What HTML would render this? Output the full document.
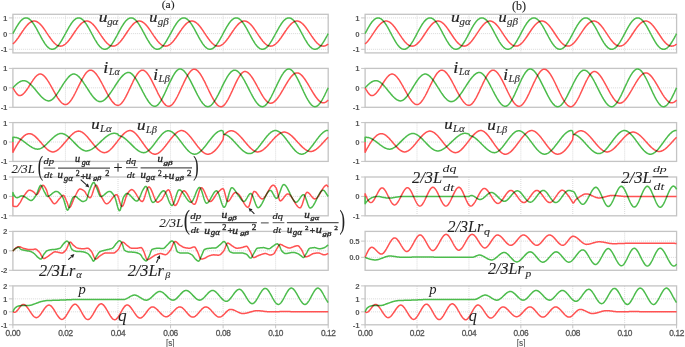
<!DOCTYPE html><html><head><meta charset="utf-8"><style>html,body{margin:0;padding:0;background:#fff;}svg{display:block;will-change:transform;}</style></head><body><svg width="685" height="347" viewBox="0 0 685 347">

<line x1="65.45" y1="14.3" x2="65.45" y2="52.9" stroke="#d0d0d0" stroke-width="0.8" stroke-dasharray="1,1"/>
<line x1="118" y1="14.3" x2="118" y2="52.9" stroke="#d0d0d0" stroke-width="0.8" stroke-dasharray="1,1"/>
<line x1="170.55" y1="14.3" x2="170.55" y2="52.9" stroke="#d0d0d0" stroke-width="0.8" stroke-dasharray="1,1"/>
<line x1="223.1" y1="14.3" x2="223.1" y2="52.9" stroke="#d0d0d0" stroke-width="0.8" stroke-dasharray="1,1"/>
<line x1="275.65" y1="14.3" x2="275.65" y2="52.9" stroke="#d0d0d0" stroke-width="0.8" stroke-dasharray="1,1"/>
<line x1="12.9" y1="49.29" x2="328.2" y2="49.29" stroke="#d0d0d0" stroke-width="0.8" stroke-dasharray="1,1"/>
<line x1="8.9" y1="49.29" x2="12.9" y2="49.29" stroke="#c4c4c4" stroke-width="1"/>
<text x="7" y="52.19" font-family="Liberation Sans" font-size="7.9" font-weight="bold" fill="#555" stroke="#555" stroke-width="0" text-anchor="end" letter-spacing="-0.35">-1</text>
<line x1="12.9" y1="33.6" x2="328.2" y2="33.6" stroke="#d0d0d0" stroke-width="0.8" stroke-dasharray="1,1"/>
<line x1="8.9" y1="33.6" x2="12.9" y2="33.6" stroke="#c4c4c4" stroke-width="1"/>
<text x="7" y="36.5" font-family="Liberation Sans" font-size="7.9" font-weight="bold" fill="#555" stroke="#555" stroke-width="0" text-anchor="end" letter-spacing="-0.35">0</text>
<line x1="12.9" y1="17.91" x2="328.2" y2="17.91" stroke="#d0d0d0" stroke-width="0.8" stroke-dasharray="1,1"/>
<line x1="8.9" y1="17.91" x2="12.9" y2="17.91" stroke="#c4c4c4" stroke-width="1"/>
<text x="7" y="20.81" font-family="Liberation Sans" font-size="7.9" font-weight="bold" fill="#555" stroke="#555" stroke-width="0" text-anchor="end" letter-spacing="-0.35">1</text>
<rect x="12.9" y="14.3" width="315.3" height="38.6" fill="none" stroke="#c4c4c4" stroke-width="1.3"/>
<line x1="65.45" y1="68.4" x2="65.45" y2="107.3" stroke="#d0d0d0" stroke-width="0.8" stroke-dasharray="1,1"/>
<line x1="118" y1="68.4" x2="118" y2="107.3" stroke="#d0d0d0" stroke-width="0.8" stroke-dasharray="1,1"/>
<line x1="170.55" y1="68.4" x2="170.55" y2="107.3" stroke="#d0d0d0" stroke-width="0.8" stroke-dasharray="1,1"/>
<line x1="223.1" y1="68.4" x2="223.1" y2="107.3" stroke="#d0d0d0" stroke-width="0.8" stroke-dasharray="1,1"/>
<line x1="275.65" y1="68.4" x2="275.65" y2="107.3" stroke="#d0d0d0" stroke-width="0.8" stroke-dasharray="1,1"/>
<line x1="8.9" y1="107.3" x2="12.9" y2="107.3" stroke="#c4c4c4" stroke-width="1"/>
<text x="7" y="110.2" font-family="Liberation Sans" font-size="7.9" font-weight="bold" fill="#555" stroke="#555" stroke-width="0" text-anchor="end" letter-spacing="-0.35">-1</text>
<line x1="12.9" y1="87.85" x2="328.2" y2="87.85" stroke="#d0d0d0" stroke-width="0.8" stroke-dasharray="1,1"/>
<line x1="8.9" y1="87.85" x2="12.9" y2="87.85" stroke="#c4c4c4" stroke-width="1"/>
<text x="7" y="90.75" font-family="Liberation Sans" font-size="7.9" font-weight="bold" fill="#555" stroke="#555" stroke-width="0" text-anchor="end" letter-spacing="-0.35">0</text>
<line x1="8.9" y1="68.4" x2="12.9" y2="68.4" stroke="#c4c4c4" stroke-width="1"/>
<text x="7" y="71.3" font-family="Liberation Sans" font-size="7.9" font-weight="bold" fill="#555" stroke="#555" stroke-width="0" text-anchor="end" letter-spacing="-0.35">1</text>
<rect x="12.9" y="68.4" width="315.3" height="38.9" fill="none" stroke="#c4c4c4" stroke-width="1.3"/>
<line x1="65.45" y1="122.6" x2="65.45" y2="161.4" stroke="#d0d0d0" stroke-width="0.8" stroke-dasharray="1,1"/>
<line x1="118" y1="122.6" x2="118" y2="161.4" stroke="#d0d0d0" stroke-width="0.8" stroke-dasharray="1,1"/>
<line x1="170.55" y1="122.6" x2="170.55" y2="161.4" stroke="#d0d0d0" stroke-width="0.8" stroke-dasharray="1,1"/>
<line x1="223.1" y1="122.6" x2="223.1" y2="161.4" stroke="#d0d0d0" stroke-width="0.8" stroke-dasharray="1,1"/>
<line x1="275.65" y1="122.6" x2="275.65" y2="161.4" stroke="#d0d0d0" stroke-width="0.8" stroke-dasharray="1,1"/>
<line x1="8.9" y1="161.4" x2="12.9" y2="161.4" stroke="#c4c4c4" stroke-width="1"/>
<text x="7" y="164.3" font-family="Liberation Sans" font-size="7.9" font-weight="bold" fill="#555" stroke="#555" stroke-width="0" text-anchor="end" letter-spacing="-0.35">-1</text>
<line x1="12.9" y1="142" x2="328.2" y2="142" stroke="#d0d0d0" stroke-width="0.8" stroke-dasharray="1,1"/>
<line x1="8.9" y1="142" x2="12.9" y2="142" stroke="#c4c4c4" stroke-width="1"/>
<text x="7" y="144.9" font-family="Liberation Sans" font-size="7.9" font-weight="bold" fill="#555" stroke="#555" stroke-width="0" text-anchor="end" letter-spacing="-0.35">0</text>
<line x1="8.9" y1="122.6" x2="12.9" y2="122.6" stroke="#c4c4c4" stroke-width="1"/>
<text x="7" y="125.5" font-family="Liberation Sans" font-size="7.9" font-weight="bold" fill="#555" stroke="#555" stroke-width="0" text-anchor="end" letter-spacing="-0.35">1</text>
<rect x="12.9" y="122.6" width="315.3" height="38.8" fill="none" stroke="#c4c4c4" stroke-width="1.3"/>
<line x1="65.45" y1="177" x2="65.45" y2="215.8" stroke="#d0d0d0" stroke-width="0.8" stroke-dasharray="1,1"/>
<line x1="118" y1="177" x2="118" y2="215.8" stroke="#d0d0d0" stroke-width="0.8" stroke-dasharray="1,1"/>
<line x1="170.55" y1="177" x2="170.55" y2="215.8" stroke="#d0d0d0" stroke-width="0.8" stroke-dasharray="1,1"/>
<line x1="223.1" y1="177" x2="223.1" y2="215.8" stroke="#d0d0d0" stroke-width="0.8" stroke-dasharray="1,1"/>
<line x1="275.65" y1="177" x2="275.65" y2="215.8" stroke="#d0d0d0" stroke-width="0.8" stroke-dasharray="1,1"/>
<line x1="8.9" y1="215.8" x2="12.9" y2="215.8" stroke="#c4c4c4" stroke-width="1"/>
<text x="7" y="218.7" font-family="Liberation Sans" font-size="7.9" font-weight="bold" fill="#555" stroke="#555" stroke-width="0" text-anchor="end" letter-spacing="-0.35">-1</text>
<line x1="12.9" y1="196.4" x2="328.2" y2="196.4" stroke="#d0d0d0" stroke-width="0.8" stroke-dasharray="1,1"/>
<line x1="8.9" y1="196.4" x2="12.9" y2="196.4" stroke="#c4c4c4" stroke-width="1"/>
<text x="7" y="199.3" font-family="Liberation Sans" font-size="7.9" font-weight="bold" fill="#555" stroke="#555" stroke-width="0" text-anchor="end" letter-spacing="-0.35">0</text>
<line x1="8.9" y1="177" x2="12.9" y2="177" stroke="#c4c4c4" stroke-width="1"/>
<text x="7" y="179.9" font-family="Liberation Sans" font-size="7.9" font-weight="bold" fill="#555" stroke="#555" stroke-width="0" text-anchor="end" letter-spacing="-0.35">1</text>
<rect x="12.9" y="177" width="315.3" height="38.8" fill="none" stroke="#c4c4c4" stroke-width="1.3"/>
<line x1="65.45" y1="231.4" x2="65.45" y2="270.3" stroke="#d0d0d0" stroke-width="0.8" stroke-dasharray="1,1"/>
<line x1="118" y1="231.4" x2="118" y2="270.3" stroke="#d0d0d0" stroke-width="0.8" stroke-dasharray="1,1"/>
<line x1="170.55" y1="231.4" x2="170.55" y2="270.3" stroke="#d0d0d0" stroke-width="0.8" stroke-dasharray="1,1"/>
<line x1="223.1" y1="231.4" x2="223.1" y2="270.3" stroke="#d0d0d0" stroke-width="0.8" stroke-dasharray="1,1"/>
<line x1="275.65" y1="231.4" x2="275.65" y2="270.3" stroke="#d0d0d0" stroke-width="0.8" stroke-dasharray="1,1"/>
<line x1="8.9" y1="270.3" x2="12.9" y2="270.3" stroke="#c4c4c4" stroke-width="1"/>
<text x="7" y="273.2" font-family="Liberation Sans" font-size="7.9" font-weight="bold" fill="#555" stroke="#555" stroke-width="0" text-anchor="end" letter-spacing="-0.35">-2</text>
<line x1="12.9" y1="250.85" x2="328.2" y2="250.85" stroke="#d0d0d0" stroke-width="0.8" stroke-dasharray="1,1"/>
<line x1="8.9" y1="250.85" x2="12.9" y2="250.85" stroke="#c4c4c4" stroke-width="1"/>
<text x="7" y="253.75" font-family="Liberation Sans" font-size="7.9" font-weight="bold" fill="#555" stroke="#555" stroke-width="0" text-anchor="end" letter-spacing="-0.35">0</text>
<line x1="8.9" y1="231.4" x2="12.9" y2="231.4" stroke="#c4c4c4" stroke-width="1"/>
<text x="7" y="234.3" font-family="Liberation Sans" font-size="7.9" font-weight="bold" fill="#555" stroke="#555" stroke-width="0" text-anchor="end" letter-spacing="-0.35">2</text>
<rect x="12.9" y="231.4" width="315.3" height="38.9" fill="none" stroke="#c4c4c4" stroke-width="1.3"/>
<line x1="65.45" y1="285.9" x2="65.45" y2="324.8" stroke="#d0d0d0" stroke-width="0.8" stroke-dasharray="1,1"/>
<line x1="118" y1="285.9" x2="118" y2="324.8" stroke="#d0d0d0" stroke-width="0.8" stroke-dasharray="1,1"/>
<line x1="170.55" y1="285.9" x2="170.55" y2="324.8" stroke="#d0d0d0" stroke-width="0.8" stroke-dasharray="1,1"/>
<line x1="223.1" y1="285.9" x2="223.1" y2="324.8" stroke="#d0d0d0" stroke-width="0.8" stroke-dasharray="1,1"/>
<line x1="275.65" y1="285.9" x2="275.65" y2="324.8" stroke="#d0d0d0" stroke-width="0.8" stroke-dasharray="1,1"/>
<line x1="8.9" y1="324.8" x2="12.9" y2="324.8" stroke="#c4c4c4" stroke-width="1"/>
<text x="7" y="327.7" font-family="Liberation Sans" font-size="7.9" font-weight="bold" fill="#555" stroke="#555" stroke-width="0" text-anchor="end" letter-spacing="-0.35">-1</text>
<line x1="12.9" y1="311.83" x2="328.2" y2="311.83" stroke="#d0d0d0" stroke-width="0.8" stroke-dasharray="1,1"/>
<line x1="8.9" y1="311.83" x2="12.9" y2="311.83" stroke="#c4c4c4" stroke-width="1"/>
<text x="7" y="314.73" font-family="Liberation Sans" font-size="7.9" font-weight="bold" fill="#555" stroke="#555" stroke-width="0" text-anchor="end" letter-spacing="-0.35">0</text>
<line x1="12.9" y1="298.87" x2="328.2" y2="298.87" stroke="#d0d0d0" stroke-width="0.8" stroke-dasharray="1,1"/>
<line x1="8.9" y1="298.87" x2="12.9" y2="298.87" stroke="#c4c4c4" stroke-width="1"/>
<text x="7" y="301.77" font-family="Liberation Sans" font-size="7.9" font-weight="bold" fill="#555" stroke="#555" stroke-width="0" text-anchor="end" letter-spacing="-0.35">1</text>
<line x1="8.9" y1="285.9" x2="12.9" y2="285.9" stroke="#c4c4c4" stroke-width="1"/>
<text x="7" y="288.8" font-family="Liberation Sans" font-size="7.9" font-weight="bold" fill="#555" stroke="#555" stroke-width="0" text-anchor="end" letter-spacing="-0.35">2</text>
<rect x="12.9" y="285.9" width="315.3" height="38.9" fill="none" stroke="#c4c4c4" stroke-width="1.3"/>
<line x1="12.9" y1="324.8" x2="12.9" y2="328.3" stroke="#c4c4c4" stroke-width="1"/>
<text x="12.9" y="336.1" font-family="Liberation Sans" font-size="8.3" fill="#555" stroke="#555" stroke-width="0.3" text-anchor="middle" letter-spacing="-0.4">0.00</text>
<line x1="65.45" y1="324.8" x2="65.45" y2="328.3" stroke="#c4c4c4" stroke-width="1"/>
<text x="65.45" y="336.1" font-family="Liberation Sans" font-size="8.3" fill="#555" stroke="#555" stroke-width="0.3" text-anchor="middle" letter-spacing="-0.4">0.02</text>
<line x1="118" y1="324.8" x2="118" y2="328.3" stroke="#c4c4c4" stroke-width="1"/>
<text x="118" y="336.1" font-family="Liberation Sans" font-size="8.3" fill="#555" stroke="#555" stroke-width="0.3" text-anchor="middle" letter-spacing="-0.4">0.04</text>
<line x1="170.55" y1="324.8" x2="170.55" y2="328.3" stroke="#c4c4c4" stroke-width="1"/>
<text x="170.55" y="336.1" font-family="Liberation Sans" font-size="8.3" fill="#555" stroke="#555" stroke-width="0.3" text-anchor="middle" letter-spacing="-0.4">0.06</text>
<line x1="223.1" y1="324.8" x2="223.1" y2="328.3" stroke="#c4c4c4" stroke-width="1"/>
<text x="223.1" y="336.1" font-family="Liberation Sans" font-size="8.3" fill="#555" stroke="#555" stroke-width="0.3" text-anchor="middle" letter-spacing="-0.4">0.08</text>
<line x1="275.65" y1="324.8" x2="275.65" y2="328.3" stroke="#c4c4c4" stroke-width="1"/>
<text x="275.65" y="336.1" font-family="Liberation Sans" font-size="8.3" fill="#555" stroke="#555" stroke-width="0.3" text-anchor="middle" letter-spacing="-0.4">0.10</text>
<line x1="328.2" y1="324.8" x2="328.2" y2="328.3" stroke="#c4c4c4" stroke-width="1"/>
<text x="328.2" y="336.1" font-family="Liberation Sans" font-size="8.3" fill="#555" stroke="#555" stroke-width="0.3" text-anchor="middle" letter-spacing="-0.4">0.12</text>
<line x1="417.02" y1="14.3" x2="417.02" y2="52.9" stroke="#d0d0d0" stroke-width="0.8" stroke-dasharray="1,1"/>
<line x1="468.93" y1="14.3" x2="468.93" y2="52.9" stroke="#d0d0d0" stroke-width="0.8" stroke-dasharray="1,1"/>
<line x1="520.85" y1="14.3" x2="520.85" y2="52.9" stroke="#d0d0d0" stroke-width="0.8" stroke-dasharray="1,1"/>
<line x1="572.77" y1="14.3" x2="572.77" y2="52.9" stroke="#d0d0d0" stroke-width="0.8" stroke-dasharray="1,1"/>
<line x1="624.68" y1="14.3" x2="624.68" y2="52.9" stroke="#d0d0d0" stroke-width="0.8" stroke-dasharray="1,1"/>
<line x1="365.1" y1="49.29" x2="676.6" y2="49.29" stroke="#d0d0d0" stroke-width="0.8" stroke-dasharray="1,1"/>
<line x1="361.1" y1="49.29" x2="365.1" y2="49.29" stroke="#c4c4c4" stroke-width="1"/>
<text x="359.2" y="52.19" font-family="Liberation Sans" font-size="7.9" font-weight="bold" fill="#555" stroke="#555" stroke-width="0" text-anchor="end" letter-spacing="-0.35">-1</text>
<line x1="365.1" y1="33.6" x2="676.6" y2="33.6" stroke="#d0d0d0" stroke-width="0.8" stroke-dasharray="1,1"/>
<line x1="361.1" y1="33.6" x2="365.1" y2="33.6" stroke="#c4c4c4" stroke-width="1"/>
<text x="359.2" y="36.5" font-family="Liberation Sans" font-size="7.9" font-weight="bold" fill="#555" stroke="#555" stroke-width="0" text-anchor="end" letter-spacing="-0.35">0</text>
<line x1="365.1" y1="17.91" x2="676.6" y2="17.91" stroke="#d0d0d0" stroke-width="0.8" stroke-dasharray="1,1"/>
<line x1="361.1" y1="17.91" x2="365.1" y2="17.91" stroke="#c4c4c4" stroke-width="1"/>
<text x="359.2" y="20.81" font-family="Liberation Sans" font-size="7.9" font-weight="bold" fill="#555" stroke="#555" stroke-width="0" text-anchor="end" letter-spacing="-0.35">1</text>
<rect x="365.1" y="14.3" width="311.5" height="38.6" fill="none" stroke="#c4c4c4" stroke-width="1.3"/>
<line x1="417.02" y1="68.4" x2="417.02" y2="107.3" stroke="#d0d0d0" stroke-width="0.8" stroke-dasharray="1,1"/>
<line x1="468.93" y1="68.4" x2="468.93" y2="107.3" stroke="#d0d0d0" stroke-width="0.8" stroke-dasharray="1,1"/>
<line x1="520.85" y1="68.4" x2="520.85" y2="107.3" stroke="#d0d0d0" stroke-width="0.8" stroke-dasharray="1,1"/>
<line x1="572.77" y1="68.4" x2="572.77" y2="107.3" stroke="#d0d0d0" stroke-width="0.8" stroke-dasharray="1,1"/>
<line x1="624.68" y1="68.4" x2="624.68" y2="107.3" stroke="#d0d0d0" stroke-width="0.8" stroke-dasharray="1,1"/>
<line x1="361.1" y1="107.3" x2="365.1" y2="107.3" stroke="#c4c4c4" stroke-width="1"/>
<text x="359.2" y="110.2" font-family="Liberation Sans" font-size="7.9" font-weight="bold" fill="#555" stroke="#555" stroke-width="0" text-anchor="end" letter-spacing="-0.35">-1</text>
<line x1="365.1" y1="87.85" x2="676.6" y2="87.85" stroke="#d0d0d0" stroke-width="0.8" stroke-dasharray="1,1"/>
<line x1="361.1" y1="87.85" x2="365.1" y2="87.85" stroke="#c4c4c4" stroke-width="1"/>
<text x="359.2" y="90.75" font-family="Liberation Sans" font-size="7.9" font-weight="bold" fill="#555" stroke="#555" stroke-width="0" text-anchor="end" letter-spacing="-0.35">0</text>
<line x1="361.1" y1="68.4" x2="365.1" y2="68.4" stroke="#c4c4c4" stroke-width="1"/>
<text x="359.2" y="71.3" font-family="Liberation Sans" font-size="7.9" font-weight="bold" fill="#555" stroke="#555" stroke-width="0" text-anchor="end" letter-spacing="-0.35">1</text>
<rect x="365.1" y="68.4" width="311.5" height="38.9" fill="none" stroke="#c4c4c4" stroke-width="1.3"/>
<line x1="417.02" y1="122.6" x2="417.02" y2="161.4" stroke="#d0d0d0" stroke-width="0.8" stroke-dasharray="1,1"/>
<line x1="468.93" y1="122.6" x2="468.93" y2="161.4" stroke="#d0d0d0" stroke-width="0.8" stroke-dasharray="1,1"/>
<line x1="520.85" y1="122.6" x2="520.85" y2="161.4" stroke="#d0d0d0" stroke-width="0.8" stroke-dasharray="1,1"/>
<line x1="572.77" y1="122.6" x2="572.77" y2="161.4" stroke="#d0d0d0" stroke-width="0.8" stroke-dasharray="1,1"/>
<line x1="624.68" y1="122.6" x2="624.68" y2="161.4" stroke="#d0d0d0" stroke-width="0.8" stroke-dasharray="1,1"/>
<line x1="361.1" y1="161.4" x2="365.1" y2="161.4" stroke="#c4c4c4" stroke-width="1"/>
<text x="359.2" y="164.3" font-family="Liberation Sans" font-size="7.9" font-weight="bold" fill="#555" stroke="#555" stroke-width="0" text-anchor="end" letter-spacing="-0.35">-1</text>
<line x1="365.1" y1="142" x2="676.6" y2="142" stroke="#d0d0d0" stroke-width="0.8" stroke-dasharray="1,1"/>
<line x1="361.1" y1="142" x2="365.1" y2="142" stroke="#c4c4c4" stroke-width="1"/>
<text x="359.2" y="144.9" font-family="Liberation Sans" font-size="7.9" font-weight="bold" fill="#555" stroke="#555" stroke-width="0" text-anchor="end" letter-spacing="-0.35">0</text>
<line x1="361.1" y1="122.6" x2="365.1" y2="122.6" stroke="#c4c4c4" stroke-width="1"/>
<text x="359.2" y="125.5" font-family="Liberation Sans" font-size="7.9" font-weight="bold" fill="#555" stroke="#555" stroke-width="0" text-anchor="end" letter-spacing="-0.35">1</text>
<rect x="365.1" y="122.6" width="311.5" height="38.8" fill="none" stroke="#c4c4c4" stroke-width="1.3"/>
<line x1="417.02" y1="177" x2="417.02" y2="215.8" stroke="#d0d0d0" stroke-width="0.8" stroke-dasharray="1,1"/>
<line x1="468.93" y1="177" x2="468.93" y2="215.8" stroke="#d0d0d0" stroke-width="0.8" stroke-dasharray="1,1"/>
<line x1="520.85" y1="177" x2="520.85" y2="215.8" stroke="#d0d0d0" stroke-width="0.8" stroke-dasharray="1,1"/>
<line x1="572.77" y1="177" x2="572.77" y2="215.8" stroke="#d0d0d0" stroke-width="0.8" stroke-dasharray="1,1"/>
<line x1="624.68" y1="177" x2="624.68" y2="215.8" stroke="#d0d0d0" stroke-width="0.8" stroke-dasharray="1,1"/>
<line x1="361.1" y1="215.8" x2="365.1" y2="215.8" stroke="#c4c4c4" stroke-width="1"/>
<text x="359.2" y="218.7" font-family="Liberation Sans" font-size="7.9" font-weight="bold" fill="#555" stroke="#555" stroke-width="0" text-anchor="end" letter-spacing="-0.35">-1</text>
<line x1="365.1" y1="196.4" x2="676.6" y2="196.4" stroke="#d0d0d0" stroke-width="0.8" stroke-dasharray="1,1"/>
<line x1="361.1" y1="196.4" x2="365.1" y2="196.4" stroke="#c4c4c4" stroke-width="1"/>
<text x="359.2" y="199.3" font-family="Liberation Sans" font-size="7.9" font-weight="bold" fill="#555" stroke="#555" stroke-width="0" text-anchor="end" letter-spacing="-0.35">0</text>
<line x1="361.1" y1="177" x2="365.1" y2="177" stroke="#c4c4c4" stroke-width="1"/>
<text x="359.2" y="179.9" font-family="Liberation Sans" font-size="7.9" font-weight="bold" fill="#555" stroke="#555" stroke-width="0" text-anchor="end" letter-spacing="-0.35">1</text>
<rect x="365.1" y="177" width="311.5" height="38.8" fill="none" stroke="#c4c4c4" stroke-width="1.3"/>
<line x1="417.02" y1="231.4" x2="417.02" y2="270.3" stroke="#d0d0d0" stroke-width="0.8" stroke-dasharray="1,1"/>
<line x1="468.93" y1="231.4" x2="468.93" y2="270.3" stroke="#d0d0d0" stroke-width="0.8" stroke-dasharray="1,1"/>
<line x1="520.85" y1="231.4" x2="520.85" y2="270.3" stroke="#d0d0d0" stroke-width="0.8" stroke-dasharray="1,1"/>
<line x1="572.77" y1="231.4" x2="572.77" y2="270.3" stroke="#d0d0d0" stroke-width="0.8" stroke-dasharray="1,1"/>
<line x1="624.68" y1="231.4" x2="624.68" y2="270.3" stroke="#d0d0d0" stroke-width="0.8" stroke-dasharray="1,1"/>
<line x1="365.1" y1="257.33" x2="676.6" y2="257.33" stroke="#d0d0d0" stroke-width="0.8" stroke-dasharray="1,1"/>
<line x1="361.1" y1="257.33" x2="365.1" y2="257.33" stroke="#c4c4c4" stroke-width="1"/>
<text x="359.2" y="260.23" font-family="Liberation Sans" font-size="7.9" font-weight="bold" fill="#555" stroke="#555" stroke-width="0" text-anchor="end" letter-spacing="-0.35">0.0</text>
<line x1="365.1" y1="241.12" x2="676.6" y2="241.12" stroke="#d0d0d0" stroke-width="0.8" stroke-dasharray="1,1"/>
<line x1="361.1" y1="241.12" x2="365.1" y2="241.12" stroke="#c4c4c4" stroke-width="1"/>
<text x="359.2" y="244.03" font-family="Liberation Sans" font-size="7.9" font-weight="bold" fill="#555" stroke="#555" stroke-width="0" text-anchor="end" letter-spacing="-0.35">0.5</text>
<rect x="365.1" y="231.4" width="311.5" height="38.9" fill="none" stroke="#c4c4c4" stroke-width="1.3"/>
<line x1="417.02" y1="285.9" x2="417.02" y2="324.8" stroke="#d0d0d0" stroke-width="0.8" stroke-dasharray="1,1"/>
<line x1="468.93" y1="285.9" x2="468.93" y2="324.8" stroke="#d0d0d0" stroke-width="0.8" stroke-dasharray="1,1"/>
<line x1="520.85" y1="285.9" x2="520.85" y2="324.8" stroke="#d0d0d0" stroke-width="0.8" stroke-dasharray="1,1"/>
<line x1="572.77" y1="285.9" x2="572.77" y2="324.8" stroke="#d0d0d0" stroke-width="0.8" stroke-dasharray="1,1"/>
<line x1="624.68" y1="285.9" x2="624.68" y2="324.8" stroke="#d0d0d0" stroke-width="0.8" stroke-dasharray="1,1"/>
<line x1="361.1" y1="324.8" x2="365.1" y2="324.8" stroke="#c4c4c4" stroke-width="1"/>
<text x="359.2" y="327.7" font-family="Liberation Sans" font-size="7.9" font-weight="bold" fill="#555" stroke="#555" stroke-width="0" text-anchor="end" letter-spacing="-0.35">-1</text>
<line x1="365.1" y1="311.83" x2="676.6" y2="311.83" stroke="#d0d0d0" stroke-width="0.8" stroke-dasharray="1,1"/>
<line x1="361.1" y1="311.83" x2="365.1" y2="311.83" stroke="#c4c4c4" stroke-width="1"/>
<text x="359.2" y="314.73" font-family="Liberation Sans" font-size="7.9" font-weight="bold" fill="#555" stroke="#555" stroke-width="0" text-anchor="end" letter-spacing="-0.35">0</text>
<line x1="365.1" y1="298.87" x2="676.6" y2="298.87" stroke="#d0d0d0" stroke-width="0.8" stroke-dasharray="1,1"/>
<line x1="361.1" y1="298.87" x2="365.1" y2="298.87" stroke="#c4c4c4" stroke-width="1"/>
<text x="359.2" y="301.77" font-family="Liberation Sans" font-size="7.9" font-weight="bold" fill="#555" stroke="#555" stroke-width="0" text-anchor="end" letter-spacing="-0.35">1</text>
<line x1="361.1" y1="285.9" x2="365.1" y2="285.9" stroke="#c4c4c4" stroke-width="1"/>
<text x="359.2" y="288.8" font-family="Liberation Sans" font-size="7.9" font-weight="bold" fill="#555" stroke="#555" stroke-width="0" text-anchor="end" letter-spacing="-0.35">2</text>
<rect x="365.1" y="285.9" width="311.5" height="38.9" fill="none" stroke="#c4c4c4" stroke-width="1.3"/>
<line x1="365.1" y1="324.8" x2="365.1" y2="328.3" stroke="#c4c4c4" stroke-width="1"/>
<text x="365.1" y="336.1" font-family="Liberation Sans" font-size="8.3" fill="#555" stroke="#555" stroke-width="0.3" text-anchor="middle" letter-spacing="-0.4">0.00</text>
<line x1="417.02" y1="324.8" x2="417.02" y2="328.3" stroke="#c4c4c4" stroke-width="1"/>
<text x="417.02" y="336.1" font-family="Liberation Sans" font-size="8.3" fill="#555" stroke="#555" stroke-width="0.3" text-anchor="middle" letter-spacing="-0.4">0.02</text>
<line x1="468.93" y1="324.8" x2="468.93" y2="328.3" stroke="#c4c4c4" stroke-width="1"/>
<text x="468.93" y="336.1" font-family="Liberation Sans" font-size="8.3" fill="#555" stroke="#555" stroke-width="0.3" text-anchor="middle" letter-spacing="-0.4">0.04</text>
<line x1="520.85" y1="324.8" x2="520.85" y2="328.3" stroke="#c4c4c4" stroke-width="1"/>
<text x="520.85" y="336.1" font-family="Liberation Sans" font-size="8.3" fill="#555" stroke="#555" stroke-width="0.3" text-anchor="middle" letter-spacing="-0.4">0.06</text>
<line x1="572.77" y1="324.8" x2="572.77" y2="328.3" stroke="#c4c4c4" stroke-width="1"/>
<text x="572.77" y="336.1" font-family="Liberation Sans" font-size="8.3" fill="#555" stroke="#555" stroke-width="0.3" text-anchor="middle" letter-spacing="-0.4">0.08</text>
<line x1="624.68" y1="324.8" x2="624.68" y2="328.3" stroke="#c4c4c4" stroke-width="1"/>
<text x="624.68" y="336.1" font-family="Liberation Sans" font-size="8.3" fill="#555" stroke="#555" stroke-width="0.3" text-anchor="middle" letter-spacing="-0.4">0.10</text>
<line x1="676.6" y1="324.8" x2="676.6" y2="328.3" stroke="#c4c4c4" stroke-width="1"/>
<text x="676.6" y="336.1" font-family="Liberation Sans" font-size="8.3" fill="#555" stroke="#555" stroke-width="0.3" text-anchor="middle" letter-spacing="-0.4">0.12</text>
<text x="170.3" y="345.6" font-family="Liberation Sans" font-size="8.3" fill="#555" stroke="#555" stroke-width="0.1" text-anchor="middle">[s]</text>
<text x="521.2" y="345.6" font-family="Liberation Sans" font-size="8.3" fill="#555" stroke="#555" stroke-width="0.1" text-anchor="middle">[s]</text>
<g style="isolation:isolate"><polyline points="12.9,44.0 13.4,43.5 13.9,43.0 14.4,42.5 14.9,42.0 15.4,41.4 15.9,40.8 16.4,40.2 16.9,39.5 17.4,38.8 17.9,38.2 18.4,37.5 18.9,36.7 19.4,36.0 19.9,35.3 20.4,34.5 20.9,33.8 21.4,33.0 21.9,32.3 22.4,31.5 22.9,30.8 23.4,30.1 23.9,29.3 24.4,28.6 24.9,28.0 25.4,27.3 25.9,26.7 26.4,26.0 26.9,25.5 27.4,24.9 27.9,24.4 28.4,23.9 28.9,23.4 29.4,23.0 29.9,22.6 30.4,22.3 30.9,22.0 31.4,21.7 31.9,21.5 32.4,21.3 32.9,21.2 33.4,21.1 33.9,21.1 34.4,21.1 34.9,21.1 35.4,21.2 35.9,21.3 36.4,21.5 36.9,21.7 37.4,22.0 37.9,22.3 38.4,22.7 38.9,23.0 39.4,23.5 39.9,23.9 40.4,24.4 40.9,24.9 41.4,25.5 41.9,26.1 42.4,26.7 42.9,27.3 43.4,28.0 43.9,28.7 44.4,29.4 44.9,30.1 45.4,30.8 45.9,31.6 46.4,32.3 46.9,33.1 47.4,33.8 47.9,34.6 48.4,35.3 48.9,36.1 49.4,36.8 49.9,37.5 50.4,38.2 50.9,38.9 51.4,39.6 51.9,40.2 52.4,40.9 52.9,41.5 53.4,42.0 53.9,42.6 54.4,43.1 54.9,43.5 55.4,44.0 55.9,44.4 56.4,44.8 56.9,45.1 57.4,45.4 57.9,45.6 58.4,45.8 58.9,46.0 59.4,46.1 59.9,46.1 60.4,46.2 60.9,46.1 61.4,46.1 61.9,45.9 62.4,45.8 62.9,45.6 63.4,45.3 63.9,45.1 64.4,44.7 64.9,44.4 65.5,44.0 66.0,43.5 66.5,43.0 67.0,42.5 67.5,42.0 68.0,41.4 68.5,40.8 69.0,40.2 69.5,39.5 70.0,38.8 70.5,38.2 71.0,37.5 71.5,36.7 72.0,36.0 72.5,35.3 73.0,34.5 73.5,33.8 74.0,33.0 74.5,32.3 75.0,31.5 75.5,30.8 76.0,30.1 76.5,29.3 77.0,28.6 77.5,28.0 78.0,27.3 78.5,26.7 79.0,26.0 79.5,25.5 80.0,24.9 80.5,24.4 81.0,23.9 81.5,23.4 82.0,23.0 82.5,22.6 83.0,22.3 83.5,22.0 84.0,21.7 84.5,21.5 85.0,21.3 85.5,21.2 86.0,21.1 86.5,21.1 87.0,21.1 87.5,21.1 88.0,21.2 88.5,21.3 89.0,21.5 89.5,21.7 90.0,22.0 90.5,22.3 91.0,22.7 91.5,23.0 92.0,23.5 92.5,23.9 93.0,24.4 93.5,24.9 94.0,25.5 94.5,26.1 95.0,26.7 95.5,27.3 96.0,28.0 96.5,28.7 97.0,29.4 97.5,30.1 98.0,30.8 98.5,31.6 99.0,32.3 99.5,33.1 100.0,33.8 100.5,34.6 101.0,35.3 101.5,36.1 102.0,36.8 102.5,37.5 103.0,38.2 103.5,38.9 104.0,39.6 104.5,40.2 105.0,40.9 105.5,41.5 106.0,42.0 106.5,42.6 107.0,43.1 107.5,43.5 108.0,44.0 108.5,44.4 109.0,44.8 109.5,45.1 110.0,45.4 110.5,45.6 111.0,45.8 111.5,46.0 112.0,46.1 112.5,46.1 113.0,46.2 113.5,46.1 114.0,46.1 114.5,45.9 115.0,45.8 115.5,45.6 116.0,45.3 116.5,45.1 117.0,44.7 117.5,44.4 118.0,44.0 118.5,43.5 119.0,43.0 119.5,42.5 120.0,42.0 120.5,41.4 121.0,40.8 121.5,40.2 122.0,39.5 122.5,38.8 123.0,38.2 123.5,37.5 124.0,36.7 124.5,36.0 125.0,35.3 125.5,34.5 126.0,33.8 126.5,33.0 127.0,32.3 127.5,31.5 128.0,30.8 128.5,30.1 129.0,29.3 129.5,28.6 130.0,28.0 130.5,27.3 131.0,26.7 131.5,26.0 132.0,25.5 132.5,24.9 133.0,24.4 133.5,23.9 134.0,23.4 134.5,23.0 135.0,22.6 135.5,22.3 136.0,22.0 136.5,21.7 137.0,21.5 137.5,21.3 138.0,21.2 138.5,21.1 139.0,21.1 139.5,21.1 140.0,21.1 140.5,21.2 141.0,21.3 141.5,21.5 142.0,21.7 142.5,22.0 143.0,22.3 143.5,22.7 144.0,23.0 144.5,23.5 145.0,23.9 145.5,24.4 146.0,24.9 146.5,25.5 147.0,26.1 147.5,26.7 148.0,27.3 148.5,28.0 149.0,28.7 149.5,29.4 150.0,30.1 150.5,30.8 151.0,31.6 151.5,32.3 152.0,33.1 152.5,33.8 153.0,34.6 153.5,35.3 154.0,36.1 154.5,36.8 155.0,37.5 155.5,38.2 156.0,38.9 156.5,39.6 157.0,40.2 157.5,40.9 158.0,41.5 158.5,42.0 159.0,42.6 159.5,43.1 160.0,43.5 160.5,44.0 161.0,44.4 161.5,44.8 162.0,45.1 162.5,45.4 163.0,45.6 163.5,45.8 164.0,46.0 164.5,46.1 165.0,46.1 165.5,46.2 166.0,46.1 166.5,46.1 167.0,45.9 167.5,45.8 168.0,45.6 168.5,45.3 169.0,45.1 169.5,44.7 170.0,44.4 170.6,44.0 171.1,43.5 171.6,43.0 172.1,42.5 172.6,42.0 173.1,41.4 173.6,40.8 174.1,40.2 174.6,39.5 175.1,38.8 175.6,38.2 176.1,37.5 176.6,36.7 177.1,36.0 177.6,35.3 178.1,34.5 178.6,33.8 179.1,33.0 179.6,32.3 180.1,31.5 180.6,30.8 181.1,30.1 181.6,29.3 182.1,28.6 182.6,28.0 183.1,27.3 183.6,26.7 184.1,26.0 184.6,25.5 185.1,24.9 185.6,24.4 186.1,23.9 186.6,23.4 187.1,23.0 187.6,22.6 188.1,22.3 188.6,22.0 189.1,21.7 189.6,21.5 190.1,21.3 190.6,21.2 191.1,21.1 191.6,21.1 192.1,21.1 192.6,21.1 193.1,21.2 193.6,21.3 194.1,21.5 194.6,21.7 195.1,22.0 195.6,22.3 196.1,22.7 196.6,23.0 197.1,23.5 197.6,23.9 198.1,24.4 198.6,24.9 199.1,25.5 199.6,26.1 200.1,26.7 200.6,27.3 201.1,28.0 201.6,28.7 202.1,29.4 202.6,30.1 203.1,30.8 203.6,31.6 204.1,32.3 204.6,33.1 205.1,33.8 205.6,34.6 206.1,35.3 206.6,36.1 207.1,36.8 207.6,37.5 208.1,38.2 208.6,38.9 209.1,39.6 209.6,40.2 210.1,40.9 210.6,41.5 211.1,42.0 211.6,42.6 212.1,43.1 212.6,43.5 213.1,44.0 213.6,44.4 214.1,44.8 214.6,45.1 215.1,45.4 215.6,45.6 216.1,45.8 216.6,46.0 217.1,46.1 217.6,46.1 218.1,46.2 218.6,46.1 219.1,46.1 219.6,45.9 220.1,45.8 220.6,45.6 221.1,45.3 221.6,45.1 222.1,44.7 222.6,44.4 223.1,44.0 223.6,43.5 224.1,43.0 224.6,42.5 225.1,42.0 225.6,41.4 226.1,40.8 226.6,40.2 227.1,39.5 227.6,38.8 228.1,38.2 228.6,37.5 229.1,36.7 229.6,36.0 230.1,35.3 230.6,34.5 231.1,33.8 231.6,33.0 232.1,32.3 232.6,31.5 233.1,30.8 233.6,30.1 234.1,29.3 234.6,28.6 235.1,28.0 235.6,27.3 236.1,26.7 236.6,26.0 237.1,25.5 237.6,24.9 238.1,24.4 238.6,23.9 239.1,23.4 239.6,23.0 240.1,22.6 240.6,22.3 241.1,22.0 241.6,21.7 242.1,21.5 242.6,21.3 243.1,21.2 243.6,21.1 244.1,21.1 244.6,21.1 245.1,21.1 245.6,21.2 246.1,21.3 246.6,21.5 247.1,21.7 247.6,22.0 248.1,22.3 248.6,22.7 249.1,23.0 249.6,23.5 250.1,23.9 250.6,24.4 251.1,24.9 251.6,25.5 252.1,26.1 252.6,26.7 253.1,27.3 253.6,28.0 254.1,28.7 254.6,29.4 255.1,30.1 255.6,30.8 256.1,31.6 256.6,32.3 257.1,33.1 257.6,33.8 258.1,34.6 258.6,35.3 259.1,36.1 259.6,36.8 260.1,37.5 260.6,38.2 261.1,38.9 261.6,39.6 262.1,40.2 262.6,40.9 263.1,41.5 263.6,42.0 264.1,42.6 264.6,43.1 265.1,43.5 265.6,44.0 266.1,44.4 266.6,44.8 267.1,45.1 267.6,45.4 268.1,45.6 268.6,45.8 269.1,46.0 269.6,46.1 270.1,46.1 270.6,46.2 271.1,46.1 271.6,46.1 272.1,45.9 272.6,45.8 273.1,45.6 273.6,45.3 274.1,45.1 274.6,44.7 275.1,44.4 275.6,44.0 276.2,43.5 276.7,43.0 277.2,42.5 277.7,42.0 278.2,41.4 278.7,40.8 279.2,40.2 279.7,39.5 280.2,38.8 280.7,38.2 281.2,37.5 281.7,36.7 282.2,36.0 282.7,35.3 283.2,34.5 283.7,33.8 284.2,33.0 284.7,32.3 285.2,31.5 285.7,30.8 286.2,30.1 286.7,29.3 287.2,28.6 287.7,28.0 288.2,27.3 288.7,26.7 289.2,26.0 289.7,25.5 290.2,24.9 290.7,24.4 291.2,23.9 291.7,23.4 292.2,23.0 292.7,22.6 293.2,22.3 293.7,22.0 294.2,21.7 294.7,21.5 295.2,21.3 295.7,21.2 296.2,21.1 296.7,21.1 297.2,21.1 297.7,21.1 298.2,21.2 298.7,21.3 299.2,21.5 299.7,21.7 300.2,22.0 300.7,22.3 301.2,22.7 301.7,23.0 302.2,23.5 302.7,23.9 303.2,24.4 303.7,24.9 304.2,25.5 304.7,26.1 305.2,26.7 305.7,27.3 306.2,28.0 306.7,28.7 307.2,29.4 307.7,30.1 308.2,30.8 308.7,31.6 309.2,32.3 309.7,33.1 310.2,33.8 310.7,34.6 311.2,35.3 311.7,36.1 312.2,36.8 312.7,37.5 313.2,38.2 313.7,38.9 314.2,39.6 314.7,40.2 315.2,40.9 315.7,41.5 316.2,42.0 316.7,42.6 317.2,43.1 317.7,43.5 318.2,44.0 318.7,44.4 319.2,44.8 319.7,45.1 320.2,45.4 320.7,45.6 321.2,45.8 321.7,46.0 322.2,46.1 322.7,46.1 323.2,46.2 323.7,46.1 324.2,46.1 324.7,45.9 325.2,45.8 325.7,45.6 326.2,45.3 326.7,45.1 327.2,44.7 327.7,44.4 328.2,44.0" fill="none" stroke="#ff5252" stroke-width="1.5" stroke-linejoin="round" style="mix-blend-mode:multiply"/>
<polyline points="12.9,33.6 13.4,32.7 13.9,31.7 14.4,30.8 14.9,29.9 15.4,29.0 15.9,28.1 16.4,27.2 16.9,26.4 17.4,25.6 17.9,24.8 18.4,24.0 18.9,23.3 19.4,22.6 19.9,21.9 20.4,21.3 20.9,20.8 21.4,20.3 21.9,19.8 22.4,19.4 22.9,19.0 23.4,18.7 23.9,18.4 24.4,18.2 24.9,18.1 25.4,18.0 25.9,17.9 26.4,17.9 26.9,18.0 27.4,18.1 27.9,18.3 28.4,18.5 28.9,18.8 29.4,19.2 29.9,19.6 30.4,20.0 30.9,20.5 31.4,21.0 31.9,21.6 32.4,22.3 32.9,22.9 33.4,23.6 33.9,24.4 34.4,25.2 34.9,26.0 35.4,26.8 35.9,27.6 36.4,28.5 36.9,29.4 37.4,30.3 37.9,31.3 38.4,32.2 38.9,33.1 39.4,34.1 39.9,35.0 40.4,35.9 40.9,36.9 41.4,37.8 41.9,38.7 42.4,39.6 42.9,40.4 43.4,41.2 43.9,42.0 44.4,42.8 44.9,43.6 45.4,44.3 45.9,44.9 46.4,45.6 46.9,46.2 47.4,46.7 47.9,47.2 48.4,47.6 48.9,48.0 49.4,48.4 49.9,48.7 50.4,48.9 50.9,49.1 51.4,49.2 51.9,49.3 52.4,49.3 52.9,49.2 53.4,49.1 53.9,49.0 54.4,48.8 54.9,48.5 55.4,48.2 55.9,47.8 56.4,47.4 56.9,46.9 57.4,46.4 57.9,45.9 58.4,45.3 58.9,44.6 59.4,43.9 59.9,43.2 60.4,42.4 60.9,41.6 61.4,40.8 61.9,40.0 62.4,39.1 62.9,38.2 63.4,37.3 63.9,36.4 64.4,35.5 64.9,34.5 65.5,33.6 66.0,32.7 66.5,31.7 67.0,30.8 67.5,29.9 68.0,29.0 68.5,28.1 69.0,27.2 69.5,26.4 70.0,25.6 70.5,24.8 71.0,24.0 71.5,23.3 72.0,22.6 72.5,21.9 73.0,21.3 73.5,20.8 74.0,20.3 74.5,19.8 75.0,19.4 75.5,19.0 76.0,18.7 76.5,18.4 77.0,18.2 77.5,18.1 78.0,18.0 78.5,17.9 79.0,17.9 79.5,18.0 80.0,18.1 80.5,18.3 81.0,18.5 81.5,18.8 82.0,19.2 82.5,19.6 83.0,20.0 83.5,20.5 84.0,21.0 84.5,21.6 85.0,22.3 85.5,22.9 86.0,23.6 86.5,24.4 87.0,25.2 87.5,26.0 88.0,26.8 88.5,27.6 89.0,28.5 89.5,29.4 90.0,30.3 90.5,31.3 91.0,32.2 91.5,33.1 92.0,34.1 92.5,35.0 93.0,35.9 93.5,36.9 94.0,37.8 94.5,38.7 95.0,39.6 95.5,40.4 96.0,41.2 96.5,42.0 97.0,42.8 97.5,43.6 98.0,44.3 98.5,44.9 99.0,45.6 99.5,46.2 100.0,46.7 100.5,47.2 101.0,47.6 101.5,48.0 102.0,48.4 102.5,48.7 103.0,48.9 103.5,49.1 104.0,49.2 104.5,49.3 105.0,49.3 105.5,49.2 106.0,49.1 106.5,49.0 107.0,48.8 107.5,48.5 108.0,48.2 108.5,47.8 109.0,47.4 109.5,46.9 110.0,46.4 110.5,45.9 111.0,45.3 111.5,44.6 112.0,43.9 112.5,43.2 113.0,42.4 113.5,41.6 114.0,40.8 114.5,40.0 115.0,39.1 115.5,38.2 116.0,37.3 116.5,36.4 117.0,35.5 117.5,34.5 118.0,33.6 118.5,32.7 119.0,31.7 119.5,30.8 120.0,29.9 120.5,29.0 121.0,28.1 121.5,27.2 122.0,26.4 122.5,25.6 123.0,24.8 123.5,24.0 124.0,23.3 124.5,22.6 125.0,21.9 125.5,21.3 126.0,20.8 126.5,20.3 127.0,19.8 127.5,19.4 128.0,19.0 128.5,18.7 129.0,18.4 129.5,18.2 130.0,18.1 130.5,18.0 131.0,17.9 131.5,17.9 132.0,18.0 132.5,18.1 133.0,18.3 133.5,18.5 134.0,18.8 134.5,19.2 135.0,19.6 135.5,20.0 136.0,20.5 136.5,21.0 137.0,21.6 137.5,22.3 138.0,22.9 138.5,23.6 139.0,24.4 139.5,25.2 140.0,26.0 140.5,26.8 141.0,27.6 141.5,28.5 142.0,29.4 142.5,30.3 143.0,31.3 143.5,32.2 144.0,33.1 144.5,34.1 145.0,35.0 145.5,35.9 146.0,36.9 146.5,37.8 147.0,38.7 147.5,39.6 148.0,40.4 148.5,41.2 149.0,42.0 149.5,42.8 150.0,43.6 150.5,44.3 151.0,44.9 151.5,45.6 152.0,46.2 152.5,46.7 153.0,47.2 153.5,47.6 154.0,48.0 154.5,48.4 155.0,48.7 155.5,48.9 156.0,49.1 156.5,49.2 157.0,49.3 157.5,49.3 158.0,49.2 158.5,49.1 159.0,49.0 159.5,48.8 160.0,48.5 160.5,48.2 161.0,47.8 161.5,47.4 162.0,46.9 162.5,46.4 163.0,45.9 163.5,45.3 164.0,44.6 164.5,43.9 165.0,43.2 165.5,42.4 166.0,41.6 166.5,40.8 167.0,40.0 167.5,39.1 168.0,38.2 168.5,37.3 169.0,36.4 169.5,35.5 170.0,34.5 170.6,33.6 171.1,32.7 171.6,31.7 172.1,30.8 172.6,29.9 173.1,29.0 173.6,28.1 174.1,27.2 174.6,26.4 175.1,25.6 175.6,24.8 176.1,24.0 176.6,23.3 177.1,22.6 177.6,21.9 178.1,21.3 178.6,20.8 179.1,20.3 179.6,19.8 180.1,19.4 180.6,19.0 181.1,18.7 181.6,18.4 182.1,18.2 182.6,18.1 183.1,18.0 183.6,17.9 184.1,17.9 184.6,18.0 185.1,18.1 185.6,18.3 186.1,18.5 186.6,18.8 187.1,19.2 187.6,19.6 188.1,20.0 188.6,20.5 189.1,21.0 189.6,21.6 190.1,22.3 190.6,22.9 191.1,23.6 191.6,24.4 192.1,25.2 192.6,26.0 193.1,26.8 193.6,27.6 194.1,28.5 194.6,29.4 195.1,30.3 195.6,31.3 196.1,32.2 196.6,33.1 197.1,34.1 197.6,35.0 198.1,35.9 198.6,36.9 199.1,37.8 199.6,38.7 200.1,39.6 200.6,40.4 201.1,41.2 201.6,42.0 202.1,42.8 202.6,43.6 203.1,44.3 203.6,44.9 204.1,45.6 204.6,46.2 205.1,46.7 205.6,47.2 206.1,47.6 206.6,48.0 207.1,48.4 207.6,48.7 208.1,48.9 208.6,49.1 209.1,49.2 209.6,49.3 210.1,49.3 210.6,49.2 211.1,49.1 211.6,49.0 212.1,48.8 212.6,48.5 213.1,48.2 213.6,47.8 214.1,47.4 214.6,46.9 215.1,46.4 215.6,45.9 216.1,45.3 216.6,44.6 217.1,43.9 217.6,43.2 218.1,42.4 218.6,41.6 219.1,40.8 219.6,40.0 220.1,39.1 220.6,38.2 221.1,37.3 221.6,36.4 222.1,35.5 222.6,34.5 223.1,33.6 223.6,32.7 224.1,31.7 224.6,30.8 225.1,29.9 225.6,29.0 226.1,28.1 226.6,27.2 227.1,26.4 227.6,25.6 228.1,24.8 228.6,24.0 229.1,23.3 229.6,22.6 230.1,21.9 230.6,21.3 231.1,20.8 231.6,20.3 232.1,19.8 232.6,19.4 233.1,19.0 233.6,18.7 234.1,18.4 234.6,18.2 235.1,18.1 235.6,18.0 236.1,17.9 236.6,17.9 237.1,18.0 237.6,18.1 238.1,18.3 238.6,18.5 239.1,18.8 239.6,19.2 240.1,19.6 240.6,20.0 241.1,20.5 241.6,21.0 242.1,21.6 242.6,22.3 243.1,22.9 243.6,23.6 244.1,24.4 244.6,25.2 245.1,26.0 245.6,26.8 246.1,27.6 246.6,28.5 247.1,29.4 247.6,30.3 248.1,31.3 248.6,32.2 249.1,33.1 249.6,34.1 250.1,35.0 250.6,35.9 251.1,36.9 251.6,37.8 252.1,38.7 252.6,39.6 253.1,40.4 253.6,41.2 254.1,42.0 254.6,42.8 255.1,43.6 255.6,44.3 256.1,44.9 256.6,45.6 257.1,46.2 257.6,46.7 258.1,47.2 258.6,47.6 259.1,48.0 259.6,48.4 260.1,48.7 260.6,48.9 261.1,49.1 261.6,49.2 262.1,49.3 262.6,49.3 263.1,49.2 263.6,49.1 264.1,49.0 264.6,48.8 265.1,48.5 265.6,48.2 266.1,47.8 266.6,47.4 267.1,46.9 267.6,46.4 268.1,45.9 268.6,45.3 269.1,44.6 269.6,43.9 270.1,43.2 270.6,42.4 271.1,41.6 271.6,40.8 272.1,40.0 272.6,39.1 273.1,38.2 273.6,37.3 274.1,36.4 274.6,35.5 275.1,34.5 275.6,33.6 276.2,32.7 276.7,31.7 277.2,30.8 277.7,29.9 278.2,29.0 278.7,28.1 279.2,27.2 279.7,26.4 280.2,25.6 280.7,24.8 281.2,24.0 281.7,23.3 282.2,22.6 282.7,21.9 283.2,21.3 283.7,20.8 284.2,20.3 284.7,19.8 285.2,19.4 285.7,19.0 286.2,18.7 286.7,18.4 287.2,18.2 287.7,18.1 288.2,18.0 288.7,17.9 289.2,17.9 289.7,18.0 290.2,18.1 290.7,18.3 291.2,18.5 291.7,18.8 292.2,19.2 292.7,19.6 293.2,20.0 293.7,20.5 294.2,21.0 294.7,21.6 295.2,22.3 295.7,22.9 296.2,23.6 296.7,24.4 297.2,25.2 297.7,26.0 298.2,26.8 298.7,27.6 299.2,28.5 299.7,29.4 300.2,30.3 300.7,31.3 301.2,32.2 301.7,33.1 302.2,34.1 302.7,35.0 303.2,35.9 303.7,36.9 304.2,37.8 304.7,38.7 305.2,39.6 305.7,40.4 306.2,41.2 306.7,42.0 307.2,42.8 307.7,43.6 308.2,44.3 308.7,44.9 309.2,45.6 309.7,46.2 310.2,46.7 310.7,47.2 311.2,47.6 311.7,48.0 312.2,48.4 312.7,48.7 313.2,48.9 313.7,49.1 314.2,49.2 314.7,49.3 315.2,49.3 315.7,49.2 316.2,49.1 316.7,49.0 317.2,48.8 317.7,48.5 318.2,48.2 318.7,47.8 319.2,47.4 319.7,46.9 320.2,46.4 320.7,45.9 321.2,45.3 321.7,44.6 322.2,43.9 322.7,43.2 323.2,42.4 323.7,41.6 324.2,40.8 324.7,40.0 325.2,39.1 325.7,38.2 326.2,37.3 326.7,36.4 327.2,35.5 327.7,34.5 328.2,33.6" fill="none" stroke="#4cbc4c" stroke-width="1.5" stroke-linejoin="round" style="mix-blend-mode:multiply"/>
<polyline points="365.1,44.0 365.6,43.5 366.1,43.0 366.6,42.5 367.1,42.0 367.6,41.4 368.1,40.8 368.6,40.1 369.1,39.5 369.6,38.8 370.1,38.1 370.6,37.4 371.1,36.6 371.6,35.9 372.1,35.1 372.6,34.4 373.1,33.6 373.6,32.9 374.1,32.1 374.6,31.4 375.1,30.6 375.6,29.9 376.1,29.2 376.6,28.5 377.1,27.8 377.6,27.1 378.1,26.5 378.6,25.9 379.1,25.3 379.6,24.7 380.1,24.2 380.6,23.7 381.1,23.3 381.6,22.9 382.1,22.5 382.6,22.2 383.1,21.9 383.6,21.6 384.1,21.4 384.6,21.3 385.1,21.1 385.6,21.1 386.1,21.0 386.6,21.1 387.1,21.1 387.6,21.3 388.1,21.4 388.6,21.6 389.1,21.9 389.6,22.2 390.1,22.5 390.6,22.9 391.1,23.3 391.6,23.7 392.1,24.2 392.6,24.7 393.1,25.3 393.6,25.9 394.1,26.5 394.6,27.1 395.1,27.8 395.6,28.5 396.1,29.2 396.6,29.9 397.1,30.6 397.6,31.4 398.1,32.1 398.6,32.9 399.1,33.6 399.6,34.4 400.1,35.2 400.6,35.9 401.1,36.6 401.6,37.4 402.1,38.1 402.6,38.8 403.1,39.5 403.6,40.1 404.1,40.8 404.6,41.4 405.1,42.0 405.6,42.5 406.1,43.0 406.6,43.5 407.1,44.0 407.6,44.4 408.1,44.7 408.6,45.1 409.1,45.4 409.6,45.6 410.1,45.8 410.6,46.0 411.1,46.1 411.6,46.1 412.1,46.2 412.6,46.1 413.1,46.1 413.6,45.9 414.1,45.8 414.6,45.6 415.1,45.3 415.6,45.0 416.1,44.7 416.6,44.3 417.1,43.9 417.6,43.4 418.1,42.9 418.6,42.4 419.1,41.9 419.6,41.3 420.1,40.7 420.6,40.0 421.1,39.4 421.6,38.7 422.1,38.0 422.6,37.2 423.1,36.5 423.6,35.8 424.1,35.0 424.6,34.3 425.1,33.5 425.6,32.7 426.1,32.0 426.6,31.2 427.1,30.5 427.6,29.8 428.1,29.0 428.6,28.3 429.1,27.7 429.6,27.0 430.1,26.4 430.6,25.8 431.1,25.2 431.6,24.6 432.1,24.1 432.6,23.6 433.1,23.2 433.6,22.8 434.1,22.4 434.6,22.1 435.1,21.8 435.6,21.6 436.1,21.4 436.6,21.2 437.1,21.1 437.6,21.1 438.1,21.0 438.6,21.1 439.1,21.2 439.6,21.3 440.1,21.4 440.6,21.7 441.1,21.9 441.6,22.2 442.1,22.6 442.6,22.9 443.1,23.4 443.6,23.8 444.1,24.3 444.6,24.8 445.1,25.4 445.6,26.0 446.1,26.6 446.6,27.2 447.1,27.9 447.6,28.6 448.1,29.3 448.6,30.0 449.1,30.8 449.6,31.5 450.1,32.3 450.6,33.0 451.1,33.8 451.6,34.5 452.1,35.3 452.6,36.0 453.1,36.8 453.6,37.5 454.1,38.2 454.6,38.9 455.1,39.6 455.6,40.2 456.1,40.9 456.6,41.5 457.1,42.1 457.6,42.6 458.1,43.1 458.6,43.6 459.1,44.0 459.6,44.4 460.1,44.8 460.6,45.1 461.1,45.4 461.6,45.6 462.1,45.8 462.6,46.0 463.1,46.1 463.6,46.1 464.1,46.2 464.6,46.1 465.1,46.0 465.6,45.9 466.1,45.7 466.6,45.5 467.1,45.3 467.6,45.0 468.1,44.6 468.6,44.2 469.1,43.8 469.6,43.3 470.1,42.9 470.6,42.3 471.1,41.8 471.6,41.2 472.1,40.6 472.6,39.9 473.1,39.2 473.6,38.5 474.1,37.8 474.6,37.1 475.1,36.4 475.6,35.6 476.1,34.9 476.6,34.1 477.1,33.4 477.6,32.6 478.1,31.9 478.6,31.1 479.1,30.4 479.6,29.6 480.1,28.9 480.6,28.2 481.1,27.6 481.6,26.9 482.1,26.3 482.6,25.7 483.1,25.1 483.6,24.6 484.1,24.0 484.6,23.6 485.1,23.1 485.6,22.7 486.1,22.4 486.6,22.1 487.1,21.8 487.6,21.5 488.1,21.4 488.6,21.2 489.1,21.1 489.6,21.1 490.1,21.0 490.6,21.1 491.1,21.2 491.6,21.3 492.1,21.5 492.6,21.7 493.1,22.0 493.6,22.3 494.1,22.6 494.6,23.0 495.1,23.4 495.6,23.9 496.1,24.4 496.6,24.9 497.1,25.5 497.6,26.1 498.1,26.7 498.6,27.3 499.1,28.0 499.6,28.7 500.1,29.4 500.6,30.1 501.1,30.9 501.6,31.6 502.1,32.4 502.6,33.1 503.1,33.9 503.6,34.7 504.1,35.4 504.6,36.2 505.1,36.9 505.6,37.6 506.1,38.3 506.6,39.0 507.1,39.7 507.6,40.4 508.1,41.0 508.6,41.6 509.1,42.2 509.6,42.7 510.1,43.2 510.6,43.7 511.1,44.1 511.6,44.5 512.1,44.9 512.6,45.2 513.1,45.4 513.6,45.7 514.1,45.9 514.6,46.0 515.1,46.1 515.6,46.1 516.1,46.1 516.6,46.1 517.1,46.0 517.6,45.9 518.1,45.7 518.6,45.5 519.1,45.2 519.6,44.9 520.1,44.6 520.6,44.2 521.1,43.7 521.6,43.3 522.1,42.8 522.6,42.2 523.1,41.7 523.6,41.1 524.1,40.4 524.6,39.8 525.1,39.1 525.6,38.4 526.1,37.7 526.6,37.0 527.1,36.3 527.6,35.5 528.1,34.8 528.6,34.0 529.1,33.2 529.6,32.5 530.1,31.7 530.6,31.0 531.1,30.2 531.6,29.5 532.1,28.8 532.6,28.1 533.1,27.4 533.6,26.8 534.1,26.2 534.6,25.6 535.1,25.0 535.6,24.5 536.1,24.0 536.6,23.5 537.1,23.1 537.6,22.7 538.1,22.3 538.6,22.0 539.1,21.7 539.6,21.5 540.1,21.3 540.6,21.2 541.1,21.1 541.6,21.1 542.1,21.1 542.6,21.1 543.1,21.2 543.6,21.3 544.1,21.5 544.6,21.7 545.1,22.0 545.6,22.3 546.1,22.7 546.6,23.1 547.1,23.5 547.6,24.0 548.1,24.5 548.6,25.0 549.1,25.6 549.6,26.2 550.1,26.8 550.6,27.5 551.1,28.1 551.6,28.8 552.1,29.5 552.6,30.3 553.1,31.0 553.6,31.7 554.1,32.5 554.6,33.3 555.1,34.0 555.6,34.8 556.1,35.5 556.6,36.3 557.1,37.0 557.6,37.7 558.1,38.4 558.6,39.1 559.1,39.8 559.6,40.5 560.1,41.1 560.6,41.7 561.1,42.2 561.6,42.8 562.1,43.3 562.6,43.7 563.1,44.2 563.6,44.6 564.1,44.9 564.6,45.2 565.1,45.5 565.6,45.7 566.1,45.9 566.6,46.0 567.1,46.1 567.6,46.1 568.1,46.1 568.6,46.1 569.1,46.0 569.6,45.9 570.1,45.7 570.6,45.4 571.1,45.2 571.6,44.9 572.1,44.5 572.6,44.1 573.1,43.7 573.6,43.2 574.1,42.7 574.6,42.1 575.1,41.6 575.6,41.0 576.1,40.3 576.6,39.7 577.1,39.0 577.6,38.3 578.1,37.6 578.6,36.9 579.1,36.1 579.6,35.4 580.1,34.6 580.6,33.9 581.1,33.1 581.6,32.4 582.1,31.6 582.6,30.9 583.1,30.1 583.6,29.4 584.1,28.7 584.6,28.0 585.1,27.3 585.6,26.7 586.1,26.1 586.6,25.5 587.1,24.9 587.6,24.4 588.1,23.9 588.6,23.4 589.1,23.0 589.6,22.6 590.1,22.3 590.6,22.0 591.1,21.7 591.6,21.5 592.1,21.3 592.6,21.2 593.1,21.1 593.6,21.0 594.1,21.1 594.6,21.1 595.1,21.2 595.6,21.4 596.1,21.5 596.6,21.8 597.1,22.1 597.6,22.4 598.1,22.7 598.6,23.1 599.1,23.6 599.6,24.1 600.1,24.6 600.6,25.1 601.1,25.7 601.6,26.3 602.1,26.9 602.6,27.6 603.1,28.2 603.6,28.9 604.1,29.7 604.6,30.4 605.1,31.1 605.6,31.9 606.1,32.6 606.6,33.4 607.1,34.1 607.6,34.9 608.1,35.7 608.6,36.4 609.1,37.1 609.6,37.9 610.1,38.6 610.6,39.3 611.1,39.9 611.6,40.6 612.1,41.2 612.6,41.8 613.1,42.3 613.6,42.9 614.1,43.4 614.6,43.8 615.1,44.2 615.6,44.6 616.1,45.0 616.6,45.3 617.1,45.5 617.6,45.7 618.1,45.9 618.6,46.0 619.1,46.1 619.6,46.2 620.1,46.1 620.6,46.1 621.1,46.0 621.6,45.8 622.1,45.6 622.6,45.4 623.1,45.1 623.6,44.8 624.1,44.4 624.6,44.0 625.1,43.6 625.6,43.1 626.1,42.6 626.6,42.0 627.1,41.5 627.6,40.9 628.1,40.2 628.6,39.6 629.1,38.9 629.6,38.2 630.1,37.5 630.6,36.8 631.1,36.0 631.6,35.3 632.1,34.5 632.6,33.7 633.1,33.0 633.6,32.2 634.1,31.5 634.6,30.7 635.1,30.0 635.6,29.3 636.1,28.6 636.6,27.9 637.1,27.2 637.6,26.6 638.1,26.0 638.6,25.4 639.1,24.8 639.6,24.3 640.1,23.8 640.6,23.3 641.1,22.9 641.6,22.5 642.1,22.2 642.6,21.9 643.1,21.7 643.6,21.4 644.1,21.3 644.6,21.2 645.1,21.1 645.6,21.0 646.1,21.1 646.6,21.1 647.1,21.2 647.6,21.4 648.1,21.6 648.6,21.8 649.1,22.1 649.6,22.4 650.1,22.8 650.6,23.2 651.1,23.7 651.6,24.1 652.1,24.7 652.6,25.2 653.1,25.8 653.6,26.4 654.1,27.0 654.6,27.7 655.1,28.4 655.6,29.1 656.1,29.8 656.6,30.5 657.1,31.2 657.6,32.0 658.1,32.8 658.6,33.5 659.1,34.3 659.6,35.0 660.1,35.8 660.6,36.5 661.1,37.3 661.6,38.0 662.1,38.7 662.6,39.4 663.1,40.0 663.6,40.7 664.1,41.3 664.6,41.9 665.1,42.4 665.6,43.0 666.1,43.4 666.6,43.9 667.1,44.3 667.6,44.7 668.1,45.0 668.6,45.3 669.1,45.6 669.6,45.8 670.1,45.9 670.6,46.1 671.1,46.1 671.6,46.2 672.1,46.1 672.6,46.1 673.1,46.0 673.6,45.8 674.1,45.6 674.6,45.4 675.1,45.1 675.6,44.7 676.1,44.4 676.6,44.0" fill="none" stroke="#ff5252" stroke-width="1.5" stroke-linejoin="round" style="mix-blend-mode:multiply"/>
<polyline points="365.1,33.6 365.6,32.7 366.1,31.7 366.6,30.8 367.1,29.8 367.6,28.9 368.1,28.0 368.6,27.2 369.1,26.3 369.6,25.5 370.1,24.7 370.6,23.9 371.1,23.2 371.6,22.5 372.1,21.8 372.6,21.2 373.1,20.7 373.6,20.2 374.1,19.7 374.6,19.3 375.1,18.9 375.6,18.6 376.1,18.4 376.6,18.2 377.1,18.0 377.6,17.9 378.1,17.9 378.6,17.9 379.1,18.0 379.6,18.2 380.1,18.4 380.6,18.6 381.1,18.9 381.6,19.3 382.1,19.7 382.6,20.2 383.1,20.7 383.6,21.3 384.1,21.9 384.6,22.5 385.1,23.2 385.6,24.0 386.1,24.7 386.6,25.5 387.1,26.4 387.6,27.2 388.1,28.1 388.6,29.0 389.1,29.9 389.6,30.8 390.1,31.8 390.6,32.7 391.1,33.7 391.6,34.6 392.1,35.6 392.6,36.5 393.1,37.4 393.6,38.4 394.1,39.2 394.6,40.1 395.1,41.0 395.6,41.8 396.1,42.6 396.6,43.4 397.1,44.1 397.6,44.8 398.1,45.4 398.6,46.0 399.1,46.6 399.6,47.1 400.1,47.5 400.6,48.0 401.1,48.3 401.6,48.6 402.1,48.9 402.6,49.1 403.1,49.2 403.6,49.3 404.1,49.3 404.6,49.3 405.1,49.2 405.6,49.0 406.1,48.8 406.6,48.5 407.1,48.2 407.6,47.9 408.1,47.4 408.6,47.0 409.1,46.4 409.6,45.9 410.1,45.3 410.6,44.6 411.1,43.9 411.6,43.2 412.1,42.4 412.6,41.6 413.1,40.8 413.6,39.9 414.1,39.0 414.6,38.1 415.1,37.2 415.6,36.3 416.1,35.3 416.6,34.4 417.1,33.4 417.6,32.5 418.1,31.5 418.6,30.6 419.1,29.7 419.6,28.8 420.1,27.9 420.6,27.0 421.1,26.2 421.6,25.3 422.1,24.5 422.6,23.8 423.1,23.1 423.6,22.4 424.1,21.7 424.6,21.1 425.1,20.6 425.6,20.1 426.1,19.6 426.6,19.2 427.1,18.9 427.6,18.6 428.1,18.3 428.6,18.1 429.1,18.0 429.6,17.9 430.1,17.9 430.6,18.0 431.1,18.0 431.6,18.2 432.1,18.4 432.6,18.7 433.1,19.0 433.6,19.4 434.1,19.8 434.6,20.3 435.1,20.8 435.6,21.4 436.1,22.0 436.6,22.7 437.1,23.4 437.6,24.1 438.1,24.9 438.6,25.7 439.1,26.5 439.6,27.4 440.1,28.2 440.6,29.2 441.1,30.1 441.6,31.0 442.1,31.9 442.6,32.9 443.1,33.8 443.6,34.8 444.1,35.7 444.6,36.7 445.1,37.6 445.6,38.5 446.1,39.4 446.6,40.3 447.1,41.1 447.6,41.9 448.1,42.7 448.6,43.5 449.1,44.2 449.6,44.9 450.1,45.5 450.6,46.1 451.1,46.7 451.6,47.2 452.1,47.6 452.6,48.0 453.1,48.4 453.6,48.7 454.1,48.9 454.6,49.1 455.1,49.2 455.6,49.3 456.1,49.3 456.6,49.2 457.1,49.1 457.6,49.0 458.1,48.8 458.6,48.5 459.1,48.2 459.6,47.8 460.1,47.4 460.6,46.9 461.1,46.3 461.6,45.8 462.1,45.1 462.6,44.5 463.1,43.8 463.6,43.0 464.1,42.3 464.6,41.5 465.1,40.6 465.6,39.8 466.1,38.9 466.6,38.0 467.1,37.1 467.6,36.1 468.1,35.2 468.6,34.2 469.1,33.3 469.6,32.3 470.1,31.4 470.6,30.5 471.1,29.5 471.6,28.6 472.1,27.7 472.6,26.9 473.1,26.0 473.6,25.2 474.1,24.4 474.6,23.7 475.1,22.9 475.6,22.3 476.1,21.6 476.6,21.0 477.1,20.5 477.6,20.0 478.1,19.5 478.6,19.2 479.1,18.8 479.6,18.5 480.1,18.3 480.6,18.1 481.1,18.0 481.6,17.9 482.1,17.9 482.6,18.0 483.1,18.1 483.6,18.2 484.1,18.5 484.6,18.7 485.1,19.1 485.6,19.4 486.1,19.9 486.6,20.4 487.1,20.9 487.6,21.5 488.1,22.1 488.6,22.8 489.1,23.5 489.6,24.2 490.1,25.0 490.6,25.8 491.1,26.6 491.6,27.5 492.1,28.4 492.6,29.3 493.1,30.2 493.6,31.2 494.1,32.1 494.6,33.0 495.1,34.0 495.6,34.9 496.1,35.9 496.6,36.8 497.1,37.7 497.6,38.7 498.1,39.5 498.6,40.4 499.1,41.3 499.6,42.1 500.1,42.8 500.6,43.6 501.1,44.3 501.6,45.0 502.1,45.6 502.6,46.2 503.1,46.7 503.6,47.2 504.1,47.7 504.6,48.1 505.1,48.4 505.6,48.7 506.1,48.9 506.6,49.1 507.1,49.2 507.6,49.3 508.1,49.3 508.6,49.2 509.1,49.1 509.6,48.9 510.1,48.7 510.6,48.4 511.1,48.1 511.6,47.7 512.1,47.3 512.6,46.8 513.1,46.3 513.6,45.7 514.1,45.0 514.6,44.4 515.1,43.7 515.6,42.9 516.1,42.1 516.6,41.3 517.1,40.5 517.6,39.6 518.1,38.7 518.6,37.8 519.1,36.9 519.6,36.0 520.1,35.0 520.6,34.1 521.1,33.1 521.6,32.2 522.1,31.2 522.6,30.3 523.1,29.4 523.6,28.5 524.1,27.6 524.6,26.7 525.1,25.9 525.6,25.1 526.1,24.3 526.6,23.5 527.1,22.8 527.6,22.2 528.1,21.5 528.6,20.9 529.1,20.4 529.6,19.9 530.1,19.5 530.6,19.1 531.1,18.8 531.6,18.5 532.1,18.3 532.6,18.1 533.1,18.0 533.6,17.9 534.1,17.9 534.6,18.0 535.1,18.1 535.6,18.3 536.1,18.5 536.6,18.8 537.1,19.1 537.6,19.5 538.1,20.0 538.6,20.5 539.1,21.0 539.6,21.6 540.1,22.2 540.6,22.9 541.1,23.6 541.6,24.4 542.1,25.1 542.6,25.9 543.1,26.8 543.6,27.7 544.1,28.5 544.6,29.5 545.1,30.4 545.6,31.3 546.1,32.3 546.6,33.2 547.1,34.2 547.6,35.1 548.1,36.0 548.6,37.0 549.1,37.9 549.6,38.8 550.1,39.7 550.6,40.6 551.1,41.4 551.6,42.2 552.1,43.0 552.6,43.7 553.1,44.4 553.6,45.1 554.1,45.7 554.6,46.3 555.1,46.8 555.6,47.3 556.1,47.8 556.6,48.1 557.1,48.5 557.6,48.7 558.1,49.0 558.6,49.1 559.1,49.2 559.6,49.3 560.1,49.3 560.6,49.2 561.1,49.1 561.6,48.9 562.1,48.7 562.6,48.4 563.1,48.0 563.6,47.7 564.1,47.2 564.6,46.7 565.1,46.2 565.6,45.6 566.1,44.9 566.6,44.3 567.1,43.5 567.6,42.8 568.1,42.0 568.6,41.2 569.1,40.3 569.6,39.5 570.1,38.6 570.6,37.7 571.1,36.7 571.6,35.8 572.1,34.9 572.6,33.9 573.1,33.0 573.6,32.0 574.1,31.1 574.6,30.1 575.1,29.2 575.6,28.3 576.1,27.4 576.6,26.6 577.1,25.7 577.6,24.9 578.1,24.2 578.6,23.4 579.1,22.7 579.6,22.1 580.1,21.4 580.6,20.9 581.1,20.3 581.6,19.8 582.1,19.4 582.6,19.0 583.1,18.7 583.6,18.4 584.1,18.2 584.6,18.1 585.1,18.0 585.6,17.9 586.1,17.9 586.6,18.0 587.1,18.1 587.6,18.3 588.1,18.5 588.6,18.8 589.1,19.2 589.6,19.6 590.1,20.0 590.6,20.5 591.1,21.1 591.6,21.7 592.1,22.3 592.6,23.0 593.1,23.7 593.6,24.5 594.1,25.3 594.6,26.1 595.1,26.9 595.6,27.8 596.1,28.7 596.6,29.6 597.1,30.5 597.6,31.5 598.1,32.4 598.6,33.4 599.1,34.3 599.6,35.3 600.1,36.2 600.6,37.1 601.1,38.0 601.6,39.0 602.1,39.8 602.6,40.7 603.1,41.5 603.6,42.3 604.1,43.1 604.6,43.8 605.1,44.5 605.6,45.2 606.1,45.8 606.6,46.4 607.1,46.9 607.6,47.4 608.1,47.8 608.6,48.2 609.1,48.5 609.6,48.8 610.1,49.0 610.6,49.2 611.1,49.2 611.6,49.3 612.1,49.3 612.6,49.2 613.1,49.1 613.6,48.9 614.1,48.6 614.6,48.3 615.1,48.0 615.6,47.6 616.1,47.1 616.6,46.6 617.1,46.1 617.6,45.5 618.1,44.8 618.6,44.1 619.1,43.4 619.6,42.7 620.1,41.9 620.6,41.0 621.1,40.2 621.6,39.3 622.1,38.4 622.6,37.5 623.1,36.6 623.6,35.7 624.1,34.7 624.6,33.8 625.1,32.8 625.6,31.9 626.1,30.9 626.6,30.0 627.1,29.1 627.6,28.2 628.1,27.3 628.6,26.4 629.1,25.6 629.6,24.8 630.1,24.0 630.6,23.3 631.1,22.6 631.6,21.9 632.1,21.3 632.6,20.8 633.1,20.2 633.6,19.8 634.1,19.3 634.6,19.0 635.1,18.7 635.6,18.4 636.1,18.2 636.6,18.0 637.1,17.9 637.6,17.9 638.1,17.9 638.6,18.0 639.1,18.1 639.6,18.3 640.1,18.6 640.6,18.9 641.1,19.2 641.6,19.7 642.1,20.1 642.6,20.6 643.1,21.2 643.6,21.8 644.1,22.4 644.6,23.1 645.1,23.8 645.6,24.6 646.1,25.4 646.6,26.2 647.1,27.1 647.6,28.0 648.1,28.8 648.6,29.8 649.1,30.7 649.6,31.6 650.1,32.6 650.6,33.5 651.1,34.5 651.6,35.4 652.1,36.4 652.6,37.3 653.1,38.2 653.6,39.1 654.1,40.0 654.6,40.8 655.1,41.7 655.6,42.5 656.1,43.2 656.6,44.0 657.1,44.7 657.6,45.3 658.1,45.9 658.6,46.5 659.1,47.0 659.6,47.5 660.1,47.9 660.6,48.3 661.1,48.6 661.6,48.8 662.1,49.0 662.6,49.2 663.1,49.3 663.6,49.3 664.1,49.3 664.6,49.2 665.1,49.0 665.6,48.8 666.1,48.6 666.6,48.3 667.1,47.9 667.6,47.5 668.1,47.0 668.6,46.5 669.1,46.0 669.6,45.4 670.1,44.7 670.6,44.0 671.1,43.3 671.6,42.5 672.1,41.7 672.6,40.9 673.1,40.0 673.6,39.2 674.1,38.3 674.6,37.4 675.1,36.4 675.6,35.5 676.1,34.5 676.6,33.6" fill="none" stroke="#4cbc4c" stroke-width="1.5" stroke-linejoin="round" style="mix-blend-mode:multiply"/>
<polyline points="12.9,87.8 13.4,88.7 13.9,89.5 14.4,90.4 14.9,91.2 15.4,91.9 15.9,92.6 16.4,93.3 16.9,93.9 17.4,94.4 17.9,94.9 18.4,95.2 18.9,95.5 19.4,95.6 19.9,95.6 20.4,95.6 20.9,95.4 21.4,95.2 21.9,95.0 22.4,94.6 22.9,94.2 23.4,93.8 23.9,93.3 24.4,92.8 24.9,92.2 25.4,91.6 25.9,90.9 26.4,90.2 26.9,89.5 27.4,88.8 27.9,88.1 28.4,87.3 28.9,86.5 29.4,85.7 29.9,84.9 30.4,84.1 30.9,83.4 31.4,82.6 31.9,81.8 32.4,81.1 32.9,80.3 33.4,79.6 33.9,78.9 34.4,78.3 34.9,77.6 35.4,77.0 35.9,76.5 36.4,76.0 36.9,75.5 37.4,75.1 37.9,74.8 38.4,74.5 38.9,74.3 39.4,74.1 39.9,74.1 40.4,74.0 40.9,74.1 41.4,74.2 41.9,74.4 42.4,74.7 42.9,75.0 43.4,75.4 43.9,75.8 44.4,76.3 44.9,76.8 45.4,77.4 45.9,78.0 46.4,78.7 46.9,79.4 47.4,80.1 47.9,80.9 48.4,81.6 48.9,82.4 49.4,83.3 49.9,84.1 50.4,85.0 50.9,85.9 51.4,86.8 51.9,87.7 52.4,88.6 52.9,89.5 53.4,90.4 53.9,91.3 54.4,92.2 54.9,93.1 55.4,94.0 55.9,94.8 56.4,95.7 56.9,96.5 57.4,97.3 57.9,98.1 58.4,98.8 58.9,99.5 59.4,100.2 59.9,100.8 60.4,101.4 60.9,102.0 61.4,102.5 61.9,103.0 62.4,103.4 62.9,103.7 63.4,104.0 63.9,104.3 64.4,104.4 64.9,104.5 65.5,104.6 66.0,104.5 66.5,104.4 67.0,104.2 67.5,104.0 68.0,103.6 68.5,103.2 69.0,102.7 69.5,102.2 70.0,101.6 70.5,101.0 71.0,100.3 71.5,99.6 72.0,98.8 72.5,98.0 73.0,97.1 73.5,96.3 74.0,95.4 74.5,94.4 75.0,93.5 75.5,92.5 76.0,91.5 76.5,90.5 77.0,89.4 77.5,88.4 78.0,87.4 78.5,86.3 79.0,85.3 79.5,84.3 80.0,83.3 80.5,82.3 81.0,81.3 81.5,80.3 82.0,79.4 82.5,78.5 83.0,77.6 83.5,76.8 84.0,75.9 84.5,75.2 85.0,74.4 85.5,73.7 86.0,73.1 86.5,72.5 87.0,72.0 87.5,71.5 88.0,71.1 88.5,70.8 89.0,70.5 89.5,70.3 90.0,70.2 90.5,70.2 91.0,70.2 91.5,70.3 92.0,70.4 92.5,70.7 93.0,71.0 93.5,71.3 94.0,71.7 94.5,72.2 95.0,72.7 95.5,73.2 96.0,73.8 96.5,74.5 97.0,75.1 97.5,75.9 98.0,76.6 98.5,77.4 99.0,78.2 99.5,79.0 100.0,79.9 100.5,80.8 101.0,81.7 101.5,82.6 102.0,83.5 102.5,84.5 103.0,85.4 103.5,86.4 104.0,87.4 104.5,88.3 105.0,89.3 105.5,90.2 106.0,91.2 106.5,92.1 107.0,93.1 107.5,94.0 108.0,94.9 108.5,95.8 109.0,96.6 109.5,97.5 110.0,98.3 110.5,99.0 111.0,99.8 111.5,100.5 112.0,101.2 112.5,101.8 113.0,102.4 113.5,102.9 114.0,103.4 114.5,103.9 115.0,104.3 115.5,104.6 116.0,104.9 116.5,105.1 117.0,105.2 117.5,105.3 118.0,105.4 118.5,105.3 119.0,105.1 119.5,104.9 120.0,104.6 120.5,104.2 121.0,103.8 121.5,103.3 122.0,102.7 122.5,102.1 123.0,101.4 123.5,100.7 124.0,99.9 124.5,99.1 125.0,98.2 125.5,97.3 126.0,96.4 126.5,95.4 127.0,94.4 127.5,93.4 128.0,92.3 128.5,91.3 129.0,90.2 129.5,89.2 130.0,88.1 130.5,87.0 131.0,85.9 131.5,84.9 132.0,83.8 132.5,82.8 133.0,81.7 133.5,80.7 134.0,79.7 134.5,78.8 135.0,77.9 135.5,77.0 136.0,76.1 136.5,75.3 137.0,74.5 137.5,73.8 138.0,73.2 138.5,72.6 139.0,72.0 139.5,71.5 140.0,71.1 140.5,70.8 141.0,70.5 141.5,70.3 142.0,70.2 142.5,70.2 143.0,70.2 143.5,70.3 144.0,70.5 144.5,70.8 145.0,71.1 145.5,71.5 146.0,72.0 146.5,72.5 147.0,73.1 147.5,73.7 148.0,74.4 148.5,75.1 149.0,75.8 149.5,76.6 150.0,77.5 150.5,78.3 151.0,79.2 151.5,80.2 152.0,81.1 152.5,82.1 153.0,83.1 153.5,84.1 154.0,85.1 154.5,86.1 155.0,87.1 155.5,88.2 156.0,89.2 156.5,90.2 157.0,91.2 157.5,92.3 158.0,93.3 158.5,94.3 159.0,95.2 159.5,96.2 160.0,97.1 160.5,98.0 161.0,98.9 161.5,99.7 162.0,100.5 162.5,101.3 163.0,102.0 163.5,102.7 164.0,103.3 164.5,103.9 165.0,104.4 165.5,104.9 166.0,105.3 166.5,105.6 167.0,105.9 167.5,106.1 168.0,106.3 168.5,106.3 169.0,106.3 169.5,106.2 170.0,106.0 170.6,105.8 171.1,105.4 171.6,105.0 172.1,104.6 172.6,104.1 173.1,103.5 173.6,102.8 174.1,102.1 174.6,101.4 175.1,100.6 175.6,99.7 176.1,98.9 176.6,97.9 177.1,97.0 177.6,96.0 178.1,95.0 178.6,94.0 179.1,92.9 179.6,91.9 180.1,90.8 180.6,89.7 181.1,88.6 181.6,87.5 182.1,86.4 182.6,85.3 183.1,84.3 183.6,83.2 184.1,82.1 184.6,81.1 185.1,80.1 185.6,79.1 186.1,78.1 186.6,77.2 187.1,76.3 187.6,75.4 188.1,74.6 188.6,73.8 189.1,73.1 189.6,72.4 190.1,71.8 190.6,71.2 191.1,70.7 191.6,70.3 192.1,69.9 192.6,69.6 193.1,69.4 193.6,69.2 194.1,69.2 194.6,69.2 195.1,69.3 195.6,69.5 196.1,69.7 196.6,70.0 197.1,70.4 197.6,70.8 198.1,71.3 198.6,71.9 199.1,72.5 199.6,73.1 200.1,73.8 200.6,74.5 201.1,75.3 201.6,76.2 202.1,77.0 202.6,77.9 203.1,78.8 203.6,79.8 204.1,80.7 204.6,81.7 205.1,82.7 205.6,83.7 206.1,84.8 206.6,85.8 207.1,86.9 207.6,87.9 208.1,89.0 208.6,90.0 209.1,91.1 209.6,92.1 210.1,93.1 210.6,94.1 211.1,95.1 211.6,96.1 212.1,97.0 212.6,98.0 213.1,98.8 213.6,99.7 214.1,100.5 214.6,101.3 215.1,102.1 215.6,102.8 216.1,103.4 216.6,104.0 217.1,104.6 217.6,105.1 218.1,105.5 218.6,105.9 219.1,106.2 219.6,106.4 220.1,106.6 220.6,106.7 221.1,106.7 221.6,106.7 222.1,106.5 222.6,106.3 223.1,106.0 223.6,105.6 224.1,105.1 224.6,104.6 225.1,104.0 225.6,103.3 226.1,102.6 226.6,101.8 227.1,101.0 227.6,100.2 228.1,99.3 228.6,98.3 229.1,97.4 229.6,96.4 230.1,95.3 230.6,94.3 231.1,93.2 231.6,92.1 232.1,91.1 232.6,90.0 233.1,88.9 233.6,87.8 234.1,86.7 234.6,85.6 235.1,84.5 235.6,83.4 236.1,82.4 236.6,81.4 237.1,80.4 237.6,79.4 238.1,78.5 238.6,77.6 239.1,76.8 239.6,76.0 240.1,75.3 240.6,74.6 241.1,74.0 241.6,73.4 242.1,72.9 242.6,72.5 243.1,72.1 243.6,71.8 244.1,71.6 244.6,71.5 245.1,71.5 245.6,71.6 246.1,71.7 246.6,71.9 247.1,72.1 247.6,72.4 248.1,72.8 248.6,73.2 249.1,73.7 249.6,74.2 250.1,74.8 250.6,75.4 251.1,76.1 251.6,76.8 252.1,77.5 252.6,78.2 253.1,79.0 253.6,79.8 254.1,80.7 254.6,81.5 255.1,82.4 255.6,83.3 256.1,84.2 256.6,85.1 257.1,86.0 257.6,87.0 258.1,87.9 258.6,88.8 259.1,89.7 259.6,90.6 260.1,91.5 260.6,92.4 261.1,93.3 261.6,94.2 262.1,95.0 262.6,95.8 263.1,96.6 263.6,97.3 264.1,98.1 264.6,98.8 265.1,99.4 265.6,100.0 266.1,100.6 266.6,101.1 267.1,101.6 267.6,102.0 268.1,102.3 268.6,102.6 269.1,102.9 269.6,103.1 270.1,103.2 270.6,103.2 271.1,103.2 271.6,103.1 272.1,103.0 272.6,102.7 273.1,102.5 273.6,102.2 274.1,101.8 274.6,101.4 275.1,100.9 275.6,100.4 276.2,99.9 276.7,99.3 277.2,98.6 277.7,98.0 278.2,97.3 278.7,96.6 279.2,95.8 279.7,95.1 280.2,94.3 280.7,93.5 281.2,92.7 281.7,91.8 282.2,91.0 282.7,90.1 283.2,89.3 283.7,88.4 284.2,87.5 284.7,86.7 285.2,85.8 285.7,85.0 286.2,84.1 286.7,83.3 287.2,82.5 287.7,81.7 288.2,80.9 288.7,80.1 289.2,79.4 289.7,78.7 290.2,78.0 290.7,77.3 291.2,76.7 291.7,76.1 292.2,75.6 292.7,75.1 293.2,74.6 293.7,74.2 294.2,73.9 294.7,73.6 295.2,73.3 295.7,73.1 296.2,73.0 296.7,72.9 297.2,72.9 297.7,72.9 298.2,73.0 298.7,73.2 299.2,73.4 299.7,73.7 300.2,74.1 300.7,74.5 301.2,74.9 301.7,75.4 302.2,75.9 302.7,76.4 303.2,77.0 303.7,77.7 304.2,78.3 304.7,79.0 305.2,79.8 305.7,80.5 306.2,81.3 306.7,82.1 307.2,82.9 307.7,83.7 308.2,84.5 308.7,85.4 309.2,86.2 309.7,87.1 310.2,87.9 310.7,88.8 311.2,89.6 311.7,90.5 312.2,91.3 312.7,92.1 313.2,93.0 313.7,93.8 314.2,94.5 314.7,95.3 315.2,96.0 315.7,96.8 316.2,97.4 316.7,98.1 317.2,98.7 317.7,99.3 318.2,99.9 318.7,100.4 319.2,100.9 319.7,101.3 320.2,101.7 320.7,102.0 321.2,102.3 321.7,102.5 322.2,102.7 322.7,102.8 323.2,102.8 323.7,102.8 324.2,102.7 324.7,102.6 325.2,102.4 325.7,102.1 326.2,101.8 326.7,101.4 327.2,101.0 327.7,100.6 328.2,100.1" fill="none" stroke="#ff5252" stroke-width="1.5" stroke-linejoin="round" style="mix-blend-mode:multiply"/>
<polyline points="12.9,87.8 13.4,87.3 13.9,86.8 14.4,86.2 14.9,85.7 15.4,85.2 15.9,84.8 16.4,84.3 16.9,83.9 17.4,83.5 17.9,83.1 18.4,82.7 18.9,82.4 19.4,82.0 19.9,81.8 20.4,81.5 20.9,81.3 21.4,81.1 21.9,80.9 22.4,80.8 22.9,80.7 23.4,80.7 23.9,80.7 24.4,80.7 24.9,80.8 25.4,80.9 25.9,81.1 26.4,81.3 26.9,81.5 27.4,81.8 27.9,82.1 28.4,82.5 28.9,82.9 29.4,83.3 29.9,83.7 30.4,84.2 30.9,84.7 31.4,85.2 31.9,85.7 32.4,86.2 32.9,86.8 33.4,87.4 33.9,87.9 34.4,88.5 34.9,89.1 35.4,89.7 35.9,90.3 36.4,91.0 36.9,91.6 37.4,92.2 37.9,92.8 38.4,93.4 38.9,93.9 39.4,94.5 39.9,95.1 40.4,95.6 40.9,96.2 41.4,96.7 41.9,97.2 42.4,97.7 42.9,98.1 43.4,98.5 43.9,98.9 44.4,99.3 44.9,99.6 45.4,99.9 45.9,100.2 46.4,100.4 46.9,100.6 47.4,100.7 47.9,100.8 48.4,100.9 48.9,100.9 49.4,100.8 49.9,100.7 50.4,100.5 50.9,100.3 51.4,100.0 51.9,99.7 52.4,99.3 52.9,98.9 53.4,98.4 53.9,97.9 54.4,97.3 54.9,96.7 55.4,96.1 55.9,95.5 56.4,94.8 56.9,94.1 57.4,93.4 57.9,92.6 58.4,91.9 58.9,91.1 59.4,90.3 59.9,89.5 60.4,88.7 60.9,87.9 61.4,87.1 61.9,86.3 62.4,85.5 62.9,84.7 63.4,83.9 63.9,83.1 64.4,82.4 64.9,81.6 65.5,80.9 66.0,80.2 66.5,79.5 67.0,78.9 67.5,78.2 68.0,77.7 68.5,77.1 69.0,76.6 69.5,76.1 70.0,75.7 70.5,75.3 71.0,74.9 71.5,74.7 72.0,74.4 72.5,74.2 73.0,74.1 73.5,74.0 74.0,74.0 74.5,74.1 75.0,74.2 75.5,74.4 76.0,74.6 76.5,74.9 77.0,75.2 77.5,75.6 78.0,76.0 78.5,76.4 79.0,76.9 79.5,77.4 80.0,78.0 80.5,78.5 81.0,79.2 81.5,79.8 82.0,80.5 82.5,81.1 83.0,81.8 83.5,82.6 84.0,83.3 84.5,84.1 85.0,84.8 85.5,85.6 86.0,86.4 86.5,87.2 87.0,87.9 87.5,88.7 88.0,89.5 88.5,90.3 89.0,91.0 89.5,91.8 90.0,92.6 90.5,93.3 91.0,94.0 91.5,94.7 92.0,95.4 92.5,96.0 93.0,96.7 93.5,97.3 94.0,97.9 94.5,98.4 95.0,98.9 95.5,99.4 96.0,99.8 96.5,100.2 97.0,100.6 97.5,100.9 98.0,101.1 98.5,101.3 99.0,101.5 99.5,101.6 100.0,101.7 100.5,101.6 101.0,101.6 101.5,101.5 102.0,101.3 102.5,101.1 103.0,100.8 103.5,100.5 104.0,100.2 104.5,99.8 105.0,99.4 105.5,98.9 106.0,98.4 106.5,97.9 107.0,97.4 107.5,96.8 108.0,96.2 108.5,95.6 109.0,94.9 109.5,94.2 110.0,93.5 110.5,92.8 111.0,92.1 111.5,91.4 112.0,90.6 112.5,89.9 113.0,89.1 113.5,88.3 114.0,87.6 114.5,86.8 115.0,86.0 115.5,85.3 116.0,84.5 116.5,83.7 117.0,83.0 117.5,82.3 118.0,81.5 118.5,80.8 119.0,80.1 119.5,79.4 120.0,78.8 120.5,78.1 121.0,77.5 121.5,76.9 122.0,76.4 122.5,75.9 123.0,75.4 123.5,74.9 124.0,74.5 124.5,74.1 125.0,73.7 125.5,73.4 126.0,73.1 126.5,72.9 127.0,72.7 127.5,72.6 128.0,72.5 128.5,72.5 129.0,72.5 129.5,72.6 130.0,72.8 130.5,73.0 131.0,73.3 131.5,73.7 132.0,74.1 132.5,74.6 133.0,75.1 133.5,75.7 134.0,76.3 134.5,77.0 135.0,77.7 135.5,78.4 136.0,79.2 136.5,80.0 137.0,80.8 137.5,81.7 138.0,82.6 138.5,83.5 139.0,84.4 139.5,85.3 140.0,86.3 140.5,87.2 141.0,88.2 141.5,89.2 142.0,90.1 142.5,91.1 143.0,92.1 143.5,93.0 144.0,93.9 144.5,94.9 145.0,95.8 145.5,96.7 146.0,97.6 146.5,98.4 147.0,99.2 147.5,100.0 148.0,100.8 148.5,101.5 149.0,102.2 149.5,102.8 150.0,103.4 150.5,104.0 151.0,104.5 151.5,104.9 152.0,105.3 152.5,105.6 153.0,105.9 153.5,106.1 154.0,106.2 154.5,106.3 155.0,106.3 155.5,106.2 156.0,106.1 156.5,105.8 157.0,105.5 157.5,105.1 158.0,104.6 158.5,104.1 159.0,103.5 159.5,102.8 160.0,102.1 160.5,101.4 161.0,100.6 161.5,99.7 162.0,98.8 162.5,97.9 163.0,96.9 163.5,95.9 164.0,94.9 164.5,93.9 165.0,92.8 165.5,91.7 166.0,90.6 166.5,89.5 167.0,88.4 167.5,87.3 168.0,86.2 168.5,85.1 169.0,84.0 169.5,82.9 170.0,81.9 170.6,80.8 171.1,79.8 171.6,78.8 172.1,77.8 172.6,76.8 173.1,75.9 173.6,75.1 174.1,74.2 174.6,73.5 175.1,72.7 175.6,72.1 176.1,71.4 176.6,70.9 177.1,70.4 177.6,70.0 178.1,69.6 178.6,69.3 179.1,69.1 179.6,69.0 180.1,69.0 180.6,69.0 181.1,69.1 181.6,69.3 182.1,69.6 182.6,69.9 183.1,70.2 183.6,70.7 184.1,71.1 184.6,71.7 185.1,72.3 185.6,72.9 186.1,73.6 186.6,74.3 187.1,75.0 187.6,75.8 188.1,76.6 188.6,77.5 189.1,78.4 189.6,79.3 190.1,80.2 190.6,81.1 191.1,82.1 191.6,83.1 192.1,84.1 192.6,85.1 193.1,86.1 193.6,87.1 194.1,88.1 194.6,89.1 195.1,90.2 195.6,91.2 196.1,92.2 196.6,93.2 197.1,94.1 197.6,95.1 198.1,96.0 198.6,96.9 199.1,97.8 199.6,98.7 200.1,99.5 200.6,100.3 201.1,101.1 201.6,101.8 202.1,102.5 202.6,103.2 203.1,103.8 203.6,104.3 204.1,104.8 204.6,105.3 205.1,105.7 205.6,106.0 206.1,106.3 206.6,106.5 207.1,106.6 207.6,106.7 208.1,106.7 208.6,106.6 209.1,106.5 209.6,106.3 210.1,106.0 210.6,105.7 211.1,105.3 211.6,104.8 212.1,104.3 212.6,103.7 213.1,103.1 213.6,102.4 214.1,101.7 214.6,101.0 215.1,100.2 215.6,99.3 216.1,98.5 216.6,97.6 217.1,96.7 217.6,95.7 218.1,94.8 218.6,93.8 219.1,92.8 219.6,91.8 220.1,90.8 220.6,89.8 221.1,88.8 221.6,87.7 222.1,86.7 222.6,85.7 223.1,84.7 223.6,83.7 224.1,82.7 224.6,81.7 225.1,80.8 225.6,79.9 226.1,79.0 226.6,78.1 227.1,77.2 227.6,76.4 228.1,75.6 228.6,74.9 229.1,74.2 229.6,73.6 230.1,73.0 230.6,72.4 231.1,71.9 231.6,71.5 232.1,71.1 232.6,70.8 233.1,70.5 233.6,70.3 234.1,70.2 234.6,70.2 235.1,70.2 235.6,70.3 236.1,70.4 236.6,70.7 237.1,71.0 237.6,71.3 238.1,71.7 238.6,72.2 239.1,72.7 239.6,73.2 240.1,73.8 240.6,74.5 241.1,75.2 241.6,75.9 242.1,76.7 242.6,77.4 243.1,78.3 243.6,79.1 244.1,80.0 244.6,80.9 245.1,81.8 245.6,82.8 246.1,83.7 246.6,84.7 247.1,85.7 247.6,86.6 248.1,87.6 248.6,88.6 249.1,89.6 249.6,90.6 250.1,91.6 250.6,92.5 251.1,93.5 251.6,94.4 252.1,95.4 252.6,96.3 253.1,97.2 253.6,98.1 254.1,98.9 254.6,99.7 255.1,100.5 255.6,101.2 256.1,102.0 256.6,102.6 257.1,103.3 257.6,103.8 258.1,104.4 258.6,104.9 259.1,105.3 259.6,105.7 260.1,106.0 260.6,106.3 261.1,106.5 261.6,106.6 262.1,106.7 262.6,106.7 263.1,106.6 263.6,106.5 264.1,106.2 264.6,105.9 265.1,105.6 265.6,105.1 266.1,104.7 266.6,104.1 267.1,103.5 267.6,102.8 268.1,102.1 268.6,101.4 269.1,100.6 269.6,99.7 270.1,98.8 270.6,97.9 271.1,97.0 271.6,96.0 272.1,95.0 272.6,94.0 273.1,93.0 273.6,91.9 274.1,90.9 274.6,89.8 275.1,88.7 275.6,87.7 276.2,86.6 276.7,85.5 277.2,84.4 277.7,83.4 278.2,82.3 278.7,81.3 279.2,80.3 279.7,79.3 280.2,78.4 280.7,77.4 281.2,76.5 281.7,75.7 282.2,74.8 282.7,74.1 283.2,73.3 283.7,72.6 284.2,72.0 284.7,71.4 285.2,70.9 285.7,70.4 286.2,70.0 286.7,69.6 287.2,69.4 287.7,69.2 288.2,69.0 288.7,69.0 289.2,69.0 289.7,69.1 290.2,69.3 290.7,69.6 291.2,69.9 291.7,70.3 292.2,70.8 292.7,71.3 293.2,71.9 293.7,72.5 294.2,73.2 294.7,73.9 295.2,74.7 295.7,75.5 296.2,76.4 296.7,77.3 297.2,78.2 297.7,79.2 298.2,80.1 298.7,81.1 299.2,82.2 299.7,83.2 300.2,84.3 300.7,85.3 301.2,86.4 301.7,87.5 302.2,88.6 302.7,89.6 303.2,90.7 303.7,91.8 304.2,92.8 304.7,93.9 305.2,94.9 305.7,95.9 306.2,96.8 306.7,97.8 307.2,98.7 307.7,99.6 308.2,100.4 308.7,101.2 309.2,102.0 309.7,102.7 310.2,103.4 310.7,104.0 311.2,104.6 311.7,105.1 312.2,105.5 312.7,105.9 313.2,106.2 313.7,106.4 314.2,106.6 314.7,106.7 315.2,106.7 315.7,106.6 316.2,106.5 316.7,106.3 317.2,106.0 317.7,105.6 318.2,105.2 318.7,104.7 319.2,104.1 319.7,103.5 320.2,102.9 320.7,102.1 321.2,101.4 321.7,100.6 322.2,99.8 322.7,98.9 323.2,98.0 323.7,97.0 324.2,96.1 324.7,95.1 325.2,94.0 325.7,93.0 326.2,92.0 326.7,90.9 327.2,89.8 327.7,88.8 328.2,87.7" fill="none" stroke="#4cbc4c" stroke-width="1.5" stroke-linejoin="round" style="mix-blend-mode:multiply"/>
<polyline points="365.1,87.8 365.6,88.7 366.1,89.6 366.6,90.4 367.1,91.2 367.6,92.0 368.1,92.7 368.6,93.3 369.1,93.9 369.6,94.5 370.1,94.9 370.6,95.3 371.1,95.5 371.6,95.6 372.1,95.6 372.6,95.5 373.1,95.4 373.6,95.2 374.1,94.9 374.6,94.5 375.1,94.1 375.6,93.7 376.1,93.2 376.6,92.6 377.1,92.0 377.6,91.4 378.1,90.7 378.6,90.0 379.1,89.3 379.6,88.6 380.1,87.8 380.6,87.0 381.1,86.2 381.6,85.4 382.1,84.6 382.6,83.8 383.1,83.0 383.6,82.3 384.1,81.5 384.6,80.7 385.1,80.0 385.6,79.3 386.1,78.6 386.6,77.9 387.1,77.3 387.6,76.8 388.1,76.2 388.6,75.7 389.1,75.3 389.6,74.9 390.1,74.6 390.6,74.4 391.1,74.2 391.6,74.1 392.1,74.0 392.6,74.1 393.1,74.2 393.6,74.4 394.1,74.6 394.6,74.9 395.1,75.3 395.6,75.7 396.1,76.2 396.6,76.7 397.1,77.2 397.6,77.9 398.1,78.5 398.6,79.2 399.1,79.9 399.6,80.7 400.1,81.5 400.6,82.3 401.1,83.1 401.6,84.0 402.1,84.9 402.6,85.7 403.1,86.6 403.6,87.6 404.1,88.5 404.6,89.4 405.1,90.3 405.6,91.2 406.1,92.1 406.6,93.0 407.1,93.9 407.6,94.8 408.1,95.6 408.6,96.5 409.1,97.3 409.6,98.1 410.1,98.8 410.6,99.5 411.1,100.2 411.6,100.9 412.1,101.5 412.6,102.0 413.1,102.6 413.6,103.0 414.1,103.4 414.6,103.8 415.1,104.1 415.6,104.3 416.1,104.5 416.6,104.6 417.1,104.6 417.6,104.5 418.1,104.4 418.6,104.2 419.1,103.9 419.6,103.5 420.1,103.1 420.6,102.6 421.1,102.1 421.6,101.5 422.1,100.8 422.6,100.1 423.1,99.4 423.6,98.6 424.1,97.7 424.6,96.9 425.1,96.0 425.6,95.0 426.1,94.1 426.6,93.1 427.1,92.1 427.6,91.1 428.1,90.0 428.6,89.0 429.1,88.0 429.6,86.9 430.1,85.9 430.6,84.8 431.1,83.8 431.6,82.8 432.1,81.8 432.6,80.8 433.1,79.8 433.6,78.9 434.1,78.0 434.6,77.1 435.1,76.3 435.6,75.5 436.1,74.7 436.6,74.0 437.1,73.3 437.6,72.7 438.1,72.2 438.6,71.7 439.1,71.3 439.6,70.9 440.1,70.6 440.6,70.4 441.1,70.2 441.6,70.2 442.1,70.2 442.6,70.3 443.1,70.4 443.6,70.6 444.1,70.9 444.6,71.2 445.1,71.6 445.6,72.1 446.1,72.6 446.6,73.1 447.1,73.7 447.6,74.4 448.1,75.0 448.6,75.8 449.1,76.5 449.6,77.3 450.1,78.1 450.6,79.0 451.1,79.8 451.6,80.7 452.1,81.6 452.6,82.6 453.1,83.5 453.6,84.5 454.1,85.4 454.6,86.4 455.1,87.4 455.6,88.4 456.1,89.3 456.6,90.3 457.1,91.3 457.6,92.2 458.1,93.2 458.6,94.1 459.1,95.0 459.6,95.9 460.1,96.7 460.6,97.6 461.1,98.4 461.6,99.2 462.1,99.9 462.6,100.6 463.1,101.3 463.6,101.9 464.1,102.5 464.6,103.0 465.1,103.5 465.6,104.0 466.1,104.4 466.6,104.7 467.1,104.9 467.6,105.1 468.1,105.3 468.6,105.3 469.1,105.3 469.6,105.3 470.1,105.1 470.6,104.8 471.1,104.5 471.6,104.1 472.1,103.6 472.6,103.1 473.1,102.5 473.6,101.8 474.1,101.1 474.6,100.3 475.1,99.5 475.6,98.7 476.1,97.8 476.6,96.8 477.1,95.9 477.6,94.9 478.1,93.8 478.6,92.8 479.1,91.8 479.6,90.7 480.1,89.6 480.6,88.5 481.1,87.4 481.6,86.3 482.1,85.3 482.6,84.2 483.1,83.1 483.6,82.1 484.1,81.1 484.6,80.0 485.1,79.1 485.6,78.1 486.1,77.2 486.6,76.3 487.1,75.5 487.6,74.7 488.1,74.0 488.6,73.3 489.1,72.7 489.6,72.1 490.1,71.6 490.6,71.2 491.1,70.8 491.6,70.5 492.1,70.3 492.6,70.2 493.1,70.2 493.6,70.2 494.1,70.3 494.6,70.5 495.1,70.8 495.6,71.1 496.1,71.5 496.6,72.0 497.1,72.5 497.6,73.1 498.1,73.7 498.6,74.4 499.1,75.1 499.6,75.9 500.1,76.7 500.6,77.5 501.1,78.4 501.6,79.3 502.1,80.2 502.6,81.2 503.1,82.2 503.6,83.2 504.1,84.2 504.6,85.2 505.1,86.2 505.6,87.3 506.1,88.3 506.6,89.4 507.1,90.4 507.6,91.5 508.1,92.5 508.6,93.5 509.1,94.5 509.6,95.5 510.1,96.4 510.6,97.4 511.1,98.3 511.6,99.1 512.1,100.0 512.6,100.8 513.1,101.5 513.6,102.2 514.1,102.9 514.6,103.5 515.1,104.1 515.6,104.6 516.1,105.0 516.6,105.4 517.1,105.8 517.6,106.0 518.1,106.2 518.6,106.3 519.1,106.3 519.6,106.3 520.1,106.1 520.6,105.9 521.1,105.6 521.6,105.2 522.1,104.8 522.6,104.3 523.1,103.7 523.6,103.1 524.1,102.4 524.6,101.7 525.1,100.9 525.6,100.1 526.1,99.2 526.6,98.3 527.1,97.3 527.6,96.4 528.1,95.3 528.6,94.3 529.1,93.3 529.6,92.2 530.1,91.1 530.6,90.0 531.1,88.9 531.6,87.8 532.1,86.7 532.6,85.6 533.1,84.5 533.6,83.4 534.1,82.3 534.6,81.3 535.1,80.3 535.6,79.2 536.1,78.3 536.6,77.3 537.1,76.4 537.6,75.5 538.1,74.7 538.6,73.9 539.1,73.2 539.6,72.5 540.1,71.8 540.6,71.3 541.1,70.7 541.6,70.3 542.1,69.9 542.6,69.6 543.1,69.4 543.6,69.2 544.1,69.2 544.6,69.2 545.1,69.3 545.6,69.5 546.1,69.7 546.6,70.0 547.1,70.4 547.6,70.9 548.1,71.4 548.6,71.9 549.1,72.5 549.6,73.2 550.1,73.9 550.6,74.7 551.1,75.5 551.6,76.3 552.1,77.2 552.6,78.1 553.1,79.0 553.6,80.0 554.1,81.0 554.6,82.0 555.1,83.0 555.6,84.0 556.1,85.1 556.6,86.1 557.1,87.2 557.6,88.3 558.1,89.3 558.6,90.4 559.1,91.4 559.6,92.5 560.1,93.5 560.6,94.5 561.1,95.5 561.6,96.5 562.1,97.4 562.6,98.3 563.1,99.2 563.6,100.1 564.1,100.9 564.6,101.7 565.1,102.4 565.6,103.1 566.1,103.7 566.6,104.3 567.1,104.8 567.6,105.3 568.1,105.7 568.6,106.1 569.1,106.3 569.6,106.5 570.1,106.7 570.6,106.7 571.1,106.7 571.6,106.6 572.1,106.4 572.6,106.1 573.1,105.7 573.6,105.3 574.1,104.7 574.6,104.2 575.1,103.5 575.6,102.8 576.1,102.1 576.6,101.2 577.1,100.4 577.6,99.5 578.1,98.5 578.6,97.6 579.1,96.6 579.6,95.5 580.1,94.5 580.6,93.4 581.1,92.3 581.6,91.2 582.1,90.1 582.6,89.0 583.1,87.9 583.6,86.8 584.1,85.7 584.6,84.6 585.1,83.5 585.6,82.4 586.1,81.4 586.6,80.4 587.1,79.5 587.6,78.5 588.1,77.6 588.6,76.8 589.1,76.0 589.6,75.2 590.1,74.6 590.6,73.9 591.1,73.4 591.6,72.9 592.1,72.4 592.6,72.1 593.1,71.8 593.6,71.6 594.1,71.5 594.6,71.5 595.1,71.6 595.6,71.7 596.1,71.9 596.6,72.2 597.1,72.5 597.6,72.9 598.1,73.3 598.6,73.8 599.1,74.4 599.6,75.0 600.1,75.6 600.6,76.3 601.1,77.0 601.6,77.7 602.1,78.5 602.6,79.3 603.1,80.1 603.6,81.0 604.1,81.9 604.6,82.8 605.1,83.7 605.6,84.6 606.1,85.5 606.6,86.4 607.1,87.4 607.6,88.3 608.1,89.2 608.6,90.2 609.1,91.1 609.6,92.0 610.1,92.9 610.6,93.8 611.1,94.6 611.6,95.4 612.1,96.2 612.6,97.0 613.1,97.8 613.6,98.5 614.1,99.1 614.6,99.8 615.1,100.4 615.6,100.9 616.1,101.4 616.6,101.8 617.1,102.2 617.6,102.5 618.1,102.8 618.6,103.0 619.1,103.1 619.6,103.2 620.1,103.2 620.6,103.1 621.1,103.0 621.6,102.8 622.1,102.5 622.6,102.2 623.1,101.9 623.6,101.5 624.1,101.0 624.6,100.5 625.1,99.9 625.6,99.4 626.1,98.7 626.6,98.1 627.1,97.4 627.6,96.7 628.1,95.9 628.6,95.1 629.1,94.3 629.6,93.5 630.1,92.7 630.6,91.9 631.1,91.0 631.6,90.1 632.1,89.3 632.6,88.4 633.1,87.5 633.6,86.6 634.1,85.8 634.6,84.9 635.1,84.1 635.6,83.2 636.1,82.4 636.6,81.6 637.1,80.8 637.6,80.0 638.1,79.3 638.6,78.6 639.1,77.9 639.6,77.2 640.1,76.6 640.6,76.0 641.1,75.5 641.6,75.0 642.1,74.5 642.6,74.1 643.1,73.8 643.6,73.5 644.1,73.2 644.6,73.1 645.1,72.9 645.6,72.9 646.1,72.9 646.6,73.0 647.1,73.1 647.6,73.3 648.1,73.5 648.6,73.9 649.1,74.2 649.6,74.6 650.1,75.1 650.6,75.6 651.1,76.1 651.6,76.7 652.1,77.3 652.6,78.0 653.1,78.7 653.6,79.4 654.1,80.1 654.6,80.9 655.1,81.7 655.6,82.5 656.1,83.3 656.6,84.1 657.1,85.0 657.6,85.8 658.1,86.7 658.6,87.6 659.1,88.4 659.6,89.3 660.1,90.1 660.6,91.0 661.1,91.8 661.6,92.7 662.1,93.5 662.6,94.3 663.1,95.1 663.6,95.8 664.1,96.6 664.6,97.3 665.1,97.9 665.6,98.6 666.1,99.2 666.6,99.8 667.1,100.3 667.6,100.8 668.1,101.2 668.6,101.6 669.1,102.0 669.6,102.2 670.1,102.5 670.6,102.7 671.1,102.8 671.6,102.8 672.1,102.8 672.6,102.7 673.1,102.6 673.6,102.4 674.1,102.1 674.6,101.8 675.1,101.5 675.6,101.0 676.1,100.6 676.6,100.1" fill="none" stroke="#ff5252" stroke-width="1.5" stroke-linejoin="round" style="mix-blend-mode:multiply"/>
<polyline points="365.1,87.8 365.6,87.3 366.1,86.8 366.6,86.2 367.1,85.7 367.6,85.2 368.1,84.7 368.6,84.3 369.1,83.8 369.6,83.4 370.1,83.0 370.6,82.7 371.1,82.3 371.6,82.0 372.1,81.7 372.6,81.5 373.1,81.2 373.6,81.1 374.1,80.9 374.6,80.8 375.1,80.7 375.6,80.7 376.1,80.7 376.6,80.7 377.1,80.8 377.6,80.9 378.1,81.1 378.6,81.3 379.1,81.6 379.6,81.9 380.1,82.2 380.6,82.6 381.1,83.0 381.6,83.4 382.1,83.9 382.6,84.4 383.1,84.9 383.6,85.4 384.1,85.9 384.6,86.5 385.1,87.0 385.6,87.6 386.1,88.2 386.6,88.8 387.1,89.4 387.6,90.0 388.1,90.7 388.6,91.3 389.1,91.9 389.6,92.5 390.1,93.1 390.6,93.7 391.1,94.3 391.6,94.9 392.1,95.4 392.6,96.0 393.1,96.5 393.6,97.0 394.1,97.5 394.6,97.9 395.1,98.4 395.6,98.8 396.1,99.2 396.6,99.5 397.1,99.8 397.6,100.1 398.1,100.3 398.6,100.5 399.1,100.7 399.6,100.8 400.1,100.9 400.6,100.9 401.1,100.8 401.6,100.7 402.1,100.6 402.6,100.3 403.1,100.1 403.6,99.7 404.1,99.3 404.6,98.9 405.1,98.4 405.6,97.9 406.1,97.4 406.6,96.8 407.1,96.2 407.6,95.5 408.1,94.8 408.6,94.1 409.1,93.4 409.6,92.6 410.1,91.9 410.6,91.1 411.1,90.3 411.6,89.5 412.1,88.7 412.6,87.8 413.1,87.0 413.6,86.2 414.1,85.4 414.6,84.6 415.1,83.8 415.6,83.0 416.1,82.3 416.6,81.5 417.1,80.8 417.6,80.1 418.1,79.4 418.6,78.7 419.1,78.1 419.6,77.5 420.1,77.0 420.6,76.5 421.1,76.0 421.6,75.6 422.1,75.2 422.6,74.9 423.1,74.6 423.6,74.4 424.1,74.2 424.6,74.1 425.1,74.0 425.6,74.1 426.1,74.1 426.6,74.3 427.1,74.5 427.6,74.7 428.1,75.0 428.6,75.3 429.1,75.7 429.6,76.2 430.1,76.6 430.6,77.1 431.1,77.7 431.6,78.2 432.1,78.8 432.6,79.5 433.1,80.1 433.6,80.8 434.1,81.5 434.6,82.2 435.1,83.0 435.6,83.7 436.1,84.5 436.6,85.3 437.1,86.1 437.6,86.9 438.1,87.7 438.6,88.4 439.1,89.2 439.6,90.0 440.1,90.8 440.6,91.6 441.1,92.3 441.6,93.1 442.1,93.8 442.6,94.5 443.1,95.2 443.6,95.9 444.1,96.5 444.6,97.2 445.1,97.7 445.6,98.3 446.1,98.8 446.6,99.3 447.1,99.8 447.6,100.2 448.1,100.5 448.6,100.8 449.1,101.1 449.6,101.3 450.1,101.5 450.6,101.6 451.1,101.7 451.6,101.6 452.1,101.6 452.6,101.5 453.1,101.3 453.6,101.1 454.1,100.8 454.6,100.5 455.1,100.2 455.6,99.8 456.1,99.4 456.6,98.9 457.1,98.4 457.6,97.9 458.1,97.3 458.6,96.7 459.1,96.1 459.6,95.5 460.1,94.8 460.6,94.1 461.1,93.4 461.6,92.7 462.1,92.0 462.6,91.2 463.1,90.5 463.6,89.7 464.1,88.9 464.6,88.2 465.1,87.4 465.6,86.6 466.1,85.8 466.6,85.0 467.1,84.3 467.6,83.5 468.1,82.8 468.6,82.0 469.1,81.3 469.6,80.6 470.1,79.9 470.6,79.2 471.1,78.5 471.6,77.9 472.1,77.3 472.6,76.7 473.1,76.2 473.6,75.6 474.1,75.1 474.6,74.7 475.1,74.3 475.6,73.9 476.1,73.5 476.6,73.3 477.1,73.0 477.6,72.8 478.1,72.6 478.6,72.5 479.1,72.5 479.6,72.5 480.1,72.6 480.6,72.7 481.1,72.9 481.6,73.2 482.1,73.6 482.6,74.0 483.1,74.4 483.6,74.9 484.1,75.5 484.6,76.1 485.1,76.8 485.6,77.5 486.1,78.2 486.6,79.0 487.1,79.8 487.6,80.6 488.1,81.5 488.6,82.4 489.1,83.3 489.6,84.2 490.1,85.2 490.6,86.1 491.1,87.1 491.6,88.0 492.1,89.0 492.6,90.0 493.1,91.0 493.6,91.9 494.1,92.9 494.6,93.9 495.1,94.8 495.6,95.7 496.1,96.6 496.6,97.5 497.1,98.4 497.6,99.2 498.1,100.0 498.6,100.8 499.1,101.5 499.6,102.2 500.1,102.8 500.6,103.4 501.1,104.0 501.6,104.5 502.1,104.9 502.6,105.3 503.1,105.7 503.6,105.9 504.1,106.1 504.6,106.3 505.1,106.3 505.6,106.3 506.1,106.2 506.6,106.0 507.1,105.8 507.6,105.4 508.1,105.0 508.6,104.5 509.1,104.0 509.6,103.3 510.1,102.7 510.6,101.9 511.1,101.2 511.6,100.3 512.1,99.5 512.6,98.5 513.1,97.6 513.6,96.6 514.1,95.6 514.6,94.6 515.1,93.5 515.6,92.4 516.1,91.3 516.6,90.2 517.1,89.1 517.6,88.0 518.1,86.8 518.6,85.7 519.1,84.6 519.6,83.5 520.1,82.4 520.6,81.3 521.1,80.3 521.6,79.2 522.1,78.2 522.6,77.3 523.1,76.3 523.6,75.4 524.1,74.6 524.6,73.8 525.1,73.0 525.6,72.3 526.1,71.7 526.6,71.1 527.1,70.6 527.6,70.1 528.1,69.7 528.6,69.4 529.1,69.2 529.6,69.0 530.1,69.0 530.6,69.0 531.1,69.1 531.6,69.3 532.1,69.5 532.6,69.8 533.1,70.2 533.6,70.6 534.1,71.0 534.6,71.6 535.1,72.2 535.6,72.8 536.1,73.5 536.6,74.2 537.1,74.9 537.6,75.7 538.1,76.5 538.6,77.4 539.1,78.3 539.6,79.2 540.1,80.1 540.6,81.1 541.1,82.1 541.6,83.1 542.1,84.1 542.6,85.1 543.1,86.1 543.6,87.1 544.1,88.2 544.6,89.2 545.1,90.2 545.6,91.2 546.1,92.2 546.6,93.2 547.1,94.2 547.6,95.2 548.1,96.1 548.6,97.0 549.1,97.9 549.6,98.8 550.1,99.7 550.6,100.5 551.1,101.2 551.6,102.0 552.1,102.6 552.6,103.3 553.1,103.9 553.6,104.4 554.1,104.9 554.6,105.4 555.1,105.8 555.6,106.1 556.1,106.3 556.6,106.5 557.1,106.7 557.6,106.7 558.1,106.7 558.6,106.6 559.1,106.4 559.6,106.2 560.1,105.9 560.6,105.5 561.1,105.1 561.6,104.6 562.1,104.0 562.6,103.4 563.1,102.8 563.6,102.1 564.1,101.4 564.6,100.6 565.1,99.8 565.6,98.9 566.1,98.0 566.6,97.1 567.1,96.2 567.6,95.2 568.1,94.2 568.6,93.2 569.1,92.2 569.6,91.2 570.1,90.2 570.6,89.2 571.1,88.1 571.6,87.1 572.1,86.1 572.6,85.0 573.1,84.0 573.6,83.0 574.1,82.0 574.6,81.1 575.1,80.1 575.6,79.2 576.1,78.3 576.6,77.4 577.1,76.6 577.6,75.8 578.1,75.1 578.6,74.3 579.1,73.7 579.6,73.1 580.1,72.5 580.6,72.0 581.1,71.5 581.6,71.1 582.1,70.8 582.6,70.5 583.1,70.3 583.6,70.2 584.1,70.2 584.6,70.2 585.1,70.3 585.6,70.4 586.1,70.7 586.6,70.9 587.1,71.3 587.6,71.7 588.1,72.2 588.6,72.7 589.1,73.3 589.6,73.9 590.1,74.5 590.6,75.2 591.1,76.0 591.6,76.7 592.1,77.5 592.6,78.4 593.1,79.2 593.6,80.1 594.1,81.0 594.6,82.0 595.1,82.9 595.6,83.9 596.1,84.9 596.6,85.9 597.1,86.8 597.6,87.8 598.1,88.8 598.6,89.8 599.1,90.8 599.6,91.8 600.1,92.8 600.6,93.8 601.1,94.7 601.6,95.7 602.1,96.6 602.6,97.5 603.1,98.3 603.6,99.2 604.1,100.0 604.6,100.8 605.1,101.5 605.6,102.2 606.1,102.9 606.6,103.5 607.1,104.1 607.6,104.6 608.1,105.1 608.6,105.5 609.1,105.9 609.6,106.2 610.1,106.4 610.6,106.6 611.1,106.7 611.6,106.7 612.1,106.7 612.6,106.6 613.1,106.4 613.6,106.1 614.1,105.7 614.6,105.3 615.1,104.8 615.6,104.3 616.1,103.7 616.6,103.1 617.1,102.4 617.6,101.6 618.1,100.8 618.6,100.0 619.1,99.1 619.6,98.2 620.1,97.2 620.6,96.3 621.1,95.3 621.6,94.3 622.1,93.2 622.6,92.2 623.1,91.1 623.6,90.0 624.1,88.9 624.6,87.8 625.1,86.7 625.6,85.7 626.1,84.6 626.6,83.5 627.1,82.5 627.6,81.4 628.1,80.4 628.6,79.4 629.1,78.4 629.6,77.5 630.1,76.6 630.6,75.7 631.1,74.9 631.6,74.1 632.1,73.3 632.6,72.6 633.1,72.0 633.6,71.4 634.1,70.8 634.6,70.4 635.1,70.0 635.6,69.6 636.1,69.3 636.6,69.1 637.1,69.0 637.6,69.0 638.1,69.0 638.6,69.2 639.1,69.4 639.6,69.6 640.1,70.0 640.6,70.4 641.1,70.9 641.6,71.4 642.1,72.0 642.6,72.7 643.1,73.4 643.6,74.1 644.1,74.9 644.6,75.8 645.1,76.6 645.6,77.6 646.1,78.5 646.6,79.5 647.1,80.5 647.6,81.5 648.1,82.5 648.6,83.6 649.1,84.7 649.6,85.8 650.1,86.8 650.6,87.9 651.1,89.0 651.6,90.1 652.1,91.2 652.6,92.3 653.1,93.3 653.6,94.3 654.1,95.4 654.6,96.4 655.1,97.3 655.6,98.3 656.1,99.2 656.6,100.1 657.1,100.9 657.6,101.7 658.1,102.4 658.6,103.1 659.1,103.8 659.6,104.4 660.1,104.9 660.6,105.4 661.1,105.8 661.6,106.1 662.1,106.4 662.6,106.6 663.1,106.7 663.6,106.7 664.1,106.7 664.6,106.5 665.1,106.3 665.6,106.0 666.1,105.7 666.6,105.3 667.1,104.8 667.6,104.2 668.1,103.6 668.6,103.0 669.1,102.3 669.6,101.5 670.1,100.7 670.6,99.9 671.1,99.0 671.6,98.1 672.1,97.1 672.6,96.1 673.1,95.1 673.6,94.1 674.1,93.1 674.6,92.0 675.1,90.9 675.6,89.9 676.1,88.8 676.6,87.7" fill="none" stroke="#4cbc4c" stroke-width="1.5" stroke-linejoin="round" style="mix-blend-mode:multiply"/>
<polyline points="12.9,142.0 12.9,152.3 13.4,151.3 13.9,150.4 14.4,149.5 14.9,148.6 15.4,147.7 15.9,146.8 16.4,146.0 16.9,145.1 17.4,144.3 17.9,143.5 18.4,142.8 18.9,142.0 19.4,141.3 19.9,140.6 20.4,140.0 20.9,139.3 21.4,138.7 21.9,138.1 22.4,137.6 22.9,137.1 23.4,136.6 23.9,136.1 24.4,135.7 24.9,135.3 25.4,135.0 25.9,134.7 26.4,134.4 26.9,134.2 27.4,134.0 27.9,133.9 28.4,133.7 28.9,133.7 29.4,133.7 29.9,133.7 30.4,133.8 30.9,133.9 31.4,134.0 31.9,134.2 32.4,134.5 32.9,134.8 33.4,135.1 33.9,135.4 34.4,135.8 34.9,136.2 35.4,136.6 35.9,137.1 36.4,137.6 36.9,138.1 37.4,138.6 37.9,139.1 38.4,139.7 38.9,140.2 39.4,140.8 39.9,141.4 40.4,141.9 40.9,142.5 41.4,143.1 41.9,143.7 42.4,144.3 42.9,144.8 43.4,145.4 43.9,146.0 44.4,146.5 44.9,147.0 45.4,147.5 45.9,148.0 46.4,148.5 46.9,149.0 47.4,149.4 47.9,149.8 48.4,150.2 48.9,150.5 49.4,150.8 49.9,151.1 50.4,151.3 50.9,151.5 51.4,151.7 51.9,151.8 52.4,151.9 52.9,151.9 53.4,151.9 53.9,151.8 54.4,151.7 54.9,151.5 55.4,151.3 55.9,151.1 56.4,150.8 56.9,150.5 57.4,150.2 57.9,149.8 58.4,149.4 58.9,149.0 59.4,148.5 59.9,148.0 60.4,147.5 60.9,147.0 61.4,146.5 61.9,145.9 62.4,145.4 62.9,144.8 63.4,144.2 63.9,143.6 64.4,143.0 64.9,142.4 65.5,141.8 66.0,141.2 66.5,140.6 67.0,140.0 67.5,139.4 68.0,138.8 68.5,138.2 69.0,137.6 69.5,137.1 70.0,136.5 70.5,136.0 71.0,135.5 71.5,135.0 72.0,134.5 72.5,134.1 73.0,133.6 73.5,133.2 74.0,132.9 74.5,132.5 75.0,132.2 75.5,131.9 76.0,131.7 76.5,131.5 77.0,131.4 77.5,131.2 78.0,131.2 78.5,131.1 79.0,131.2 79.5,131.2 80.0,131.3 80.5,131.5 81.0,131.7 81.5,131.9 82.0,132.2 82.5,132.5 83.0,132.8 83.5,133.2 84.0,133.6 84.5,134.0 85.0,134.5 85.5,135.0 86.0,135.5 86.5,136.0 87.0,136.5 87.5,137.1 88.0,137.7 88.5,138.3 89.0,138.9 89.5,139.5 90.0,140.1 90.5,140.7 91.0,141.3 91.5,141.9 92.0,142.6 92.5,143.2 93.0,143.8 93.5,144.4 94.0,145.0 94.5,145.6 95.0,146.2 95.5,146.8 96.0,147.3 96.5,147.9 97.0,148.4 97.5,148.9 98.0,149.4 98.5,149.8 99.0,150.2 99.5,150.6 100.0,151.0 100.5,151.3 101.0,151.6 101.5,151.9 102.0,152.1 102.5,152.3 103.0,152.5 103.5,152.6 104.0,152.7 104.5,152.7 105.0,152.6 105.5,152.6 106.0,152.4 106.5,152.3 107.0,152.0 107.5,151.8 108.0,151.5 108.5,151.2 109.0,150.8 109.5,150.4 110.0,150.0 110.5,149.5 111.0,149.0 111.5,148.5 112.0,148.0 112.5,147.4 113.0,146.9 113.5,146.3 114.0,145.7 114.5,145.1 115.0,144.4 115.5,143.8 116.0,143.2 116.5,142.5 117.0,141.9 117.5,141.2 118.0,140.6 118.5,139.9 119.0,139.3 119.5,138.7 120.0,138.0 120.5,137.4 121.0,136.8 121.5,136.2 122.0,135.7 122.5,135.1 123.0,134.6 123.5,134.1 124.0,133.6 124.5,133.2 125.0,132.7 125.5,132.4 126.0,132.0 126.5,131.7 127.0,131.4 127.5,131.1 128.0,130.9 128.5,130.8 129.0,130.7 129.5,130.6 130.0,130.6 130.5,130.6 131.0,130.7 131.5,130.8 132.0,131.0 132.5,131.2 133.0,131.5 133.5,131.8 134.0,132.2 134.5,132.6 135.0,133.0 135.5,133.5 136.0,134.0 136.5,134.6 137.0,135.1 137.5,135.7 138.0,136.3 138.5,137.0 139.0,137.6 139.5,138.3 140.0,139.0 140.5,139.7 141.0,140.4 141.5,141.1 142.0,141.8 142.5,142.5 143.0,143.2 143.5,143.9 144.0,144.6 144.5,145.3 145.0,146.0 145.5,146.7 146.0,147.3 146.5,148.0 147.0,148.6 147.5,149.2 148.0,149.8 148.5,150.4 149.0,150.9 149.5,151.4 150.0,151.9 150.5,152.3 151.0,152.7 151.5,153.0 152.0,153.4 152.5,153.6 153.0,153.8 153.5,154.0 154.0,154.1 154.5,154.2 155.0,154.2 155.5,154.2 156.0,154.1 156.5,154.0 157.0,153.8 157.5,153.6 158.0,153.3 158.5,153.0 159.0,152.7 159.5,152.3 160.0,151.9 160.5,151.5 161.0,151.0 161.5,150.5 162.0,150.0 162.5,149.5 163.0,148.9 163.5,148.3 164.0,147.8 164.5,147.1 165.0,146.5 165.5,145.9 166.0,145.2 166.5,144.6 167.0,143.9 167.5,143.3 168.0,142.6 168.5,141.9 169.0,141.3 169.5,140.6 170.0,139.9 170.6,139.3 171.1,138.6 171.6,138.0 172.1,137.4 172.6,136.8 173.1,136.2 173.6,135.6 174.1,135.1 174.6,134.6 175.1,134.0 175.6,133.6 176.1,133.1 176.6,132.7 177.1,132.3 177.6,132.0 178.1,131.6 178.6,131.4 179.1,131.1 179.6,130.9 180.1,130.8 180.6,130.6 181.1,130.6 181.6,130.6 182.1,130.6 182.6,130.7 183.1,130.8 183.6,131.0 184.1,131.2 184.6,131.4 185.1,131.7 185.6,132.1 186.1,132.4 186.6,132.8 187.1,133.3 187.6,133.8 188.1,134.2 188.6,134.8 189.1,135.3 189.6,135.9 190.1,136.5 190.6,137.1 191.1,137.7 191.6,138.3 192.1,139.0 192.6,139.6 193.1,140.3 193.6,140.9 194.1,141.6 194.6,142.3 195.1,143.0 195.6,143.6 196.1,144.3 196.6,145.0 197.1,145.6 197.6,146.3 198.1,146.9 198.6,147.5 199.1,148.1 199.6,148.7 200.1,149.3 200.6,149.8 201.1,150.4 201.6,150.9 202.1,151.4 202.6,151.8 203.1,152.2 203.6,152.6 204.1,152.9 204.6,153.2 205.1,153.5 205.6,153.7 206.1,153.9 206.6,154.1 207.1,154.2 207.6,154.2 208.1,154.2 208.6,154.2 209.1,154.1 209.6,154.0 210.1,153.8 210.6,153.6 211.1,153.4 211.6,153.1 212.1,152.8 212.6,152.5 213.1,152.1 213.6,151.7 214.1,151.3 214.6,150.9 215.1,150.4 215.6,149.9 216.1,149.3 216.6,148.8 217.1,148.2 217.6,147.6 218.1,146.9 218.6,146.3 219.1,145.6 219.6,144.9 220.1,144.2 220.6,143.4 221.1,142.7 221.6,141.9 222.1,141.1 222.6,140.3 223.1,139.5 223.6,135.2 224.1,134.8 224.6,134.3 225.1,133.9 225.6,133.5 226.1,133.1 226.6,132.7 227.1,132.3 227.6,132.0 228.1,131.7 228.6,131.4 229.1,131.2 229.6,131.0 230.1,130.9 230.6,130.8 231.1,130.8 231.6,130.8 232.1,130.8 232.6,130.9 233.1,131.0 233.6,131.2 234.1,131.4 234.6,131.7 235.1,131.9 235.6,132.2 236.1,132.6 236.6,133.0 237.1,133.4 237.6,133.8 238.1,134.2 238.6,134.7 239.1,135.2 239.6,135.7 240.1,136.2 240.6,136.8 241.1,137.3 241.6,137.9 242.1,138.4 242.6,139.0 243.1,139.6 243.6,140.2 244.1,140.8 244.6,141.4 245.1,142.0 245.6,142.6 246.1,143.2 246.6,143.8 247.1,144.4 247.6,144.9 248.1,145.5 248.6,146.0 249.1,146.6 249.6,147.1 250.1,147.6 250.6,148.1 251.1,148.5 251.6,149.0 252.1,149.4 252.6,149.8 253.1,150.2 253.6,150.5 254.1,150.8 254.6,151.1 255.1,151.3 255.6,151.5 256.1,151.7 256.6,151.8 257.1,151.9 257.6,151.9 258.1,151.9 258.6,151.8 259.1,151.7 259.6,151.6 260.1,151.5 260.6,151.3 261.1,151.0 261.6,150.8 262.1,150.5 262.6,150.1 263.1,149.8 263.6,149.4 264.1,149.0 264.6,148.6 265.1,148.1 265.6,147.7 266.1,147.2 266.6,146.7 267.1,146.2 267.6,145.7 268.1,145.1 268.6,144.6 269.1,144.0 269.6,143.5 270.1,142.9 270.6,142.3 271.1,141.8 271.6,141.2 272.1,140.7 272.6,140.1 273.1,139.5 273.6,139.0 274.1,138.5 274.6,137.9 275.1,137.4 275.6,136.9 276.2,136.4 276.7,136.0 277.2,135.5 277.7,135.1 278.2,134.7 278.7,134.3 279.2,133.9 279.7,133.6 280.2,133.3 280.7,133.0 281.2,132.8 281.7,132.6 282.2,132.4 282.7,132.3 283.2,132.2 283.7,132.1 284.2,132.1 284.7,132.1 285.2,132.2 285.7,132.3 286.2,132.4 286.7,132.6 287.2,132.8 287.7,133.1 288.2,133.3 288.7,133.6 289.2,134.0 289.7,134.3 290.2,134.7 290.7,135.1 291.2,135.5 291.7,135.9 292.2,136.4 292.7,136.9 293.2,137.4 293.7,137.9 294.2,138.4 294.7,138.9 295.2,139.4 295.7,140.0 296.2,140.5 296.7,141.1 297.2,141.6 297.7,142.2 298.2,142.7 298.7,143.3 299.2,143.8 299.7,144.3 300.2,144.9 300.7,145.4 301.2,145.9 301.7,146.4 302.2,146.9 302.7,147.3 303.2,147.8 303.7,148.2 304.2,148.6 304.7,149.0 305.2,149.4 305.7,149.7 306.2,150.1 306.7,150.4 307.2,150.6 307.7,150.9 308.2,151.1 308.7,151.2 309.2,151.3 309.7,151.4 310.2,151.5 310.7,151.5 311.2,151.5 311.7,151.4 312.2,151.3 312.7,151.2 313.2,151.0 313.7,150.8 314.2,150.5 314.7,150.3 315.2,150.0 315.7,149.6 316.2,149.3 316.7,148.9 317.2,148.5 317.7,148.1 318.2,147.6 318.7,147.2 319.2,146.7 319.7,146.2 320.2,145.7 320.7,145.2 321.2,144.7 321.7,144.1 322.2,143.6 322.7,143.1 323.2,142.5 323.7,142.0 324.2,141.4 324.7,140.9 325.2,140.3 325.7,139.8 326.2,139.3 326.7,138.7 327.2,138.2 327.7,137.7 328.2,137.2" fill="none" stroke="#ff5252" stroke-width="1.5" stroke-linejoin="round" style="mix-blend-mode:multiply"/>
<polyline points="12.9,142.0 12.9,137.3 13.4,137.3 13.9,137.3 14.4,137.3 14.9,137.4 15.4,137.4 15.9,137.5 16.4,137.6 16.9,137.7 17.4,137.9 17.9,138.0 18.4,138.2 18.9,138.5 19.4,138.7 19.9,139.0 20.4,139.3 20.9,139.6 21.4,139.9 21.9,140.2 22.4,140.5 22.9,140.9 23.4,141.2 23.9,141.6 24.4,142.0 24.9,142.4 25.4,142.7 25.9,143.1 26.4,143.5 26.9,143.9 27.4,144.3 27.9,144.6 28.4,145.0 28.9,145.4 29.4,145.7 29.9,146.1 30.4,146.4 30.9,146.7 31.4,147.0 31.9,147.3 32.4,147.6 32.9,147.9 33.4,148.1 33.9,148.3 34.4,148.5 34.9,148.7 35.4,148.9 35.9,149.0 36.4,149.1 36.9,149.1 37.4,149.2 37.9,149.2 38.4,149.1 38.9,149.1 39.4,148.9 39.9,148.8 40.4,148.6 40.9,148.4 41.4,148.1 41.9,147.8 42.4,147.5 42.9,147.2 43.4,146.8 43.9,146.5 44.4,146.0 44.9,145.6 45.4,145.2 45.9,144.7 46.4,144.3 46.9,143.8 47.4,143.3 47.9,142.8 48.4,142.3 48.9,141.8 49.4,141.3 49.9,140.8 50.4,140.3 50.9,139.8 51.4,139.3 51.9,138.9 52.4,138.4 52.9,137.9 53.4,137.5 53.9,137.0 54.4,136.6 54.9,136.2 55.4,135.8 55.9,135.5 56.4,135.1 56.9,134.8 57.4,134.5 57.9,134.3 58.4,134.1 58.9,133.9 59.4,133.7 59.9,133.6 60.4,133.5 60.9,133.5 61.4,133.5 61.9,133.5 62.4,133.6 62.9,133.7 63.4,133.9 63.9,134.0 64.4,134.3 64.9,134.5 65.5,134.8 66.0,135.1 66.5,135.4 67.0,135.8 67.5,136.2 68.0,136.6 68.5,137.0 69.0,137.4 69.5,137.9 70.0,138.3 70.5,138.8 71.0,139.3 71.5,139.8 72.0,140.3 72.5,140.8 73.0,141.3 73.5,141.8 74.0,142.4 74.5,142.9 75.0,143.4 75.5,143.9 76.0,144.4 76.5,144.9 77.0,145.4 77.5,145.9 78.0,146.4 78.5,146.8 79.0,147.3 79.5,147.7 80.0,148.1 80.5,148.5 81.0,148.8 81.5,149.2 82.0,149.5 82.5,149.8 83.0,150.0 83.5,150.3 84.0,150.5 84.5,150.6 85.0,150.8 85.5,150.9 86.0,150.9 86.5,150.9 87.0,150.9 87.5,150.8 88.0,150.8 88.5,150.6 89.0,150.5 89.5,150.3 90.0,150.1 90.5,149.9 91.0,149.6 91.5,149.4 92.0,149.1 92.5,148.7 93.0,148.4 93.5,148.1 94.0,147.7 94.5,147.3 95.0,146.9 95.5,146.5 96.0,146.1 96.5,145.6 97.0,145.2 97.5,144.7 98.0,144.2 98.5,143.8 99.0,143.3 99.5,142.8 100.0,142.4 100.5,141.9 101.0,141.4 101.5,140.9 102.0,140.4 102.5,140.0 103.0,139.5 103.5,139.1 104.0,138.6 104.5,138.2 105.0,137.7 105.5,137.3 106.0,136.9 106.5,136.5 107.0,136.2 107.5,135.8 108.0,135.5 108.5,135.1 109.0,134.8 109.5,134.6 110.0,134.3 110.5,134.1 111.0,133.9 111.5,133.7 112.0,133.6 112.5,133.4 113.0,133.4 113.5,133.3 114.0,133.3 114.5,133.3 115.0,133.3 115.5,133.4 116.0,133.5 116.5,133.7 117.0,133.8 117.5,134.0 118.0,134.2 118.5,135.6 119.0,135.6 119.5,135.7 120.0,135.8 120.5,136.0 121.0,136.2 121.5,136.4 122.0,136.6 122.5,136.9 123.0,137.2 123.5,137.5 124.0,137.8 124.5,138.2 125.0,138.6 125.5,139.0 126.0,139.4 126.5,139.8 127.0,140.3 127.5,140.7 128.0,141.2 128.5,141.7 129.0,142.2 129.5,142.7 130.0,143.1 130.5,143.6 131.0,144.1 131.5,144.6 132.0,145.1 132.5,145.6 133.0,146.1 133.5,146.6 134.0,147.1 134.5,147.6 135.0,148.0 135.5,148.5 136.0,148.9 136.5,149.3 137.0,149.7 137.5,150.1 138.0,150.5 138.5,150.8 139.0,151.1 139.5,151.4 140.0,151.7 140.5,151.9 141.0,152.1 141.5,152.3 142.0,152.4 142.5,152.5 143.0,152.6 143.5,152.7 144.0,152.7 144.5,152.6 145.0,152.5 145.5,152.4 146.0,152.2 146.5,151.9 147.0,151.6 147.5,151.3 148.0,150.9 148.5,150.5 149.0,150.1 149.5,149.6 150.0,149.1 150.5,148.6 151.0,148.1 151.5,147.5 152.0,146.9 152.5,146.3 153.0,145.7 153.5,145.0 154.0,144.4 154.5,143.7 155.0,143.1 155.5,142.4 156.0,141.7 156.5,141.1 157.0,140.4 157.5,139.7 158.0,139.1 158.5,138.4 159.0,137.8 159.5,137.2 160.0,136.5 160.5,136.0 161.0,135.4 161.5,134.8 162.0,134.3 162.5,133.8 163.0,133.3 163.5,132.9 164.0,132.5 164.5,132.1 165.0,131.8 165.5,131.5 166.0,131.3 166.5,131.1 167.0,130.9 167.5,130.8 168.0,130.8 168.5,130.8 169.0,130.8 169.5,130.9 170.0,131.0 170.6,131.2 171.1,131.5 171.6,131.7 172.1,132.0 172.6,132.4 173.1,132.8 173.6,133.2 174.1,133.6 174.6,134.1 175.1,134.6 175.6,135.1 176.1,135.7 176.6,136.2 177.1,136.8 177.6,137.4 178.1,138.0 178.6,138.7 179.1,139.3 179.6,140.0 180.1,140.6 180.6,141.3 181.1,142.0 181.6,142.6 182.1,143.3 182.6,144.0 183.1,144.6 183.6,145.3 184.1,145.9 184.6,146.6 185.1,147.2 185.6,147.8 186.1,148.4 186.6,149.0 187.1,149.5 187.6,150.1 188.1,150.6 188.6,151.1 189.1,151.5 189.6,152.0 190.1,152.4 190.6,152.7 191.1,153.1 191.6,153.4 192.1,153.6 192.6,153.8 193.1,154.0 193.6,154.1 194.1,154.2 194.6,154.2 195.1,154.2 195.6,154.1 196.1,154.0 196.6,153.9 197.1,153.7 197.6,153.4 198.1,153.1 198.6,152.8 199.1,152.5 199.6,152.1 200.1,151.7 200.6,151.3 201.1,150.8 201.6,150.3 202.1,149.8 202.6,149.2 203.1,148.7 203.6,148.1 204.1,147.5 204.6,146.9 205.1,146.3 205.6,145.7 206.1,145.0 206.6,144.4 207.1,143.7 207.6,143.1 208.1,142.4 208.6,141.7 209.1,141.1 209.6,140.4 210.1,139.8 210.6,139.2 211.1,138.5 211.6,137.9 212.1,137.3 212.6,136.7 213.1,136.1 213.6,135.6 214.1,135.0 214.6,134.5 215.1,134.0 215.6,133.5 216.1,133.1 216.6,132.7 217.1,132.3 217.6,132.0 218.1,131.6 218.6,131.4 219.1,131.1 219.6,130.9 220.1,130.8 220.6,130.6 221.1,130.6 221.6,130.6 222.1,130.7 222.6,130.9 223.1,131.1 223.6,134.3 224.1,134.3 224.6,134.4 225.1,134.5 225.6,134.7 226.1,134.9 226.6,135.1 227.1,135.4 227.6,135.7 228.1,136.0 228.6,136.4 229.1,136.7 229.6,137.1 230.1,137.6 230.6,138.0 231.1,138.4 231.6,138.9 232.1,139.4 232.6,139.9 233.1,140.4 233.6,141.0 234.1,141.5 234.6,142.0 235.1,142.6 235.6,143.1 236.1,143.7 236.6,144.2 237.1,144.8 237.6,145.3 238.1,145.9 238.6,146.4 239.1,147.0 239.6,147.5 240.1,148.0 240.6,148.5 241.1,149.0 241.6,149.5 242.1,149.9 242.6,150.4 243.1,150.8 243.6,151.2 244.1,151.5 244.6,151.9 245.1,152.2 245.6,152.5 246.1,152.8 246.6,153.0 247.1,153.2 247.6,153.4 248.1,153.5 248.6,153.6 249.1,153.6 249.6,153.6 250.1,153.6 250.6,153.5 251.1,153.4 251.6,153.2 252.1,153.0 252.6,152.7 253.1,152.4 253.6,152.1 254.1,151.7 254.6,151.3 255.1,150.8 255.6,150.4 256.1,149.9 256.6,149.4 257.1,148.8 257.6,148.2 258.1,147.7 258.6,147.1 259.1,146.4 259.6,145.8 260.1,145.2 260.6,144.5 261.1,143.8 261.6,143.2 262.1,142.5 262.6,141.8 263.1,141.2 263.6,140.5 264.1,139.9 264.6,139.2 265.1,138.6 265.6,137.9 266.1,137.3 266.6,136.7 267.1,136.1 267.6,135.5 268.1,135.0 268.6,134.4 269.1,133.9 269.6,133.5 270.1,133.0 270.6,132.6 271.1,132.2 271.6,131.9 272.1,131.6 272.6,131.3 273.1,131.0 273.6,130.9 274.1,130.7 274.6,130.6 275.1,130.6 275.6,130.6 276.2,130.6 276.7,130.7 277.2,130.9 277.7,131.0 278.2,131.3 278.7,131.6 279.2,131.9 279.7,132.2 280.2,132.6 280.7,133.0 281.2,133.5 281.7,133.9 282.2,134.4 282.7,135.0 283.2,135.5 283.7,136.1 284.2,136.7 284.7,137.3 285.2,137.9 285.7,138.5 286.2,139.2 286.7,139.9 287.2,140.5 287.7,141.2 288.2,141.9 288.7,142.5 289.2,143.2 289.7,143.9 290.2,144.6 290.7,145.2 291.2,145.9 291.7,146.5 292.2,147.1 292.7,147.8 293.2,148.4 293.7,148.9 294.2,149.5 294.7,150.1 295.2,150.6 295.7,151.1 296.2,151.5 296.7,152.0 297.2,152.4 297.7,152.7 298.2,153.1 298.7,153.4 299.2,153.6 299.7,153.8 300.2,154.0 300.7,154.1 301.2,154.2 301.7,154.2 302.2,154.2 302.7,154.1 303.2,154.0 303.7,153.8 304.2,153.6 304.7,153.4 305.2,153.1 305.7,152.7 306.2,152.4 306.7,152.0 307.2,151.5 307.7,151.1 308.2,150.6 308.7,150.0 309.2,149.5 309.7,148.9 310.2,148.3 310.7,147.7 311.2,147.1 311.7,146.5 312.2,145.8 312.7,145.2 313.2,144.5 313.7,143.8 314.2,143.1 314.7,142.4 315.2,141.8 315.7,141.1 316.2,140.4 316.7,139.7 317.2,139.1 317.7,138.4 318.2,137.8 318.7,137.1 319.2,136.5 319.7,135.9 320.2,135.3 320.7,134.8 321.2,134.3 321.7,133.7 322.2,133.3 322.7,132.8 323.2,132.4 323.7,132.0 324.2,131.7 324.7,131.3 325.2,131.1 325.7,130.8 326.2,130.6 326.7,130.5 327.2,130.4 327.7,130.4 328.2,130.4" fill="none" stroke="#4cbc4c" stroke-width="1.5" stroke-linejoin="round" style="mix-blend-mode:multiply"/>
<polyline points="365.1,142.0 365.1,152.3 365.6,151.3 366.1,150.4 366.6,149.4 367.1,148.5 367.6,147.6 368.1,146.8 368.6,145.9 369.1,145.1 369.6,144.2 370.1,143.4 370.6,142.7 371.1,141.9 371.6,141.2 372.1,140.5 372.6,139.8 373.1,139.2 373.6,138.6 374.1,138.0 374.6,137.5 375.1,137.0 375.6,136.5 376.1,136.0 376.6,135.6 377.1,135.2 377.6,134.9 378.1,134.6 378.6,134.3 379.1,134.1 379.6,133.9 380.1,133.8 380.6,133.7 381.1,133.7 381.6,133.7 382.1,133.7 382.6,133.8 383.1,133.9 383.6,134.1 384.1,134.3 384.6,134.6 385.1,134.9 385.6,135.2 386.1,135.6 386.6,136.0 387.1,136.4 387.6,136.9 388.1,137.3 388.6,137.8 389.1,138.3 389.6,138.9 390.1,139.4 390.6,140.0 391.1,140.5 391.6,141.1 392.1,141.7 392.6,142.3 393.1,142.9 393.6,143.5 394.1,144.1 394.6,144.6 395.1,145.2 395.6,145.8 396.1,146.3 396.6,146.9 397.1,147.4 397.6,147.9 398.1,148.4 398.6,148.9 399.1,149.3 399.6,149.7 400.1,150.1 400.6,150.4 401.1,150.8 401.6,151.0 402.1,151.3 402.6,151.5 403.1,151.7 403.6,151.8 404.1,151.9 404.6,151.9 405.1,151.9 405.6,151.8 406.1,151.7 406.6,151.5 407.1,151.3 407.6,151.1 408.1,150.8 408.6,150.5 409.1,150.2 409.6,149.8 410.1,149.4 410.6,149.0 411.1,148.5 411.6,148.0 412.1,147.5 412.6,147.0 413.1,146.5 413.6,145.9 414.1,145.3 414.6,144.7 415.1,144.2 415.6,143.6 416.1,142.9 416.6,142.3 417.1,141.7 417.6,141.1 418.1,140.5 418.6,139.9 419.1,139.3 419.6,138.7 420.1,138.1 420.6,137.5 421.1,136.9 421.6,136.4 422.1,135.9 422.6,135.3 423.1,134.8 423.6,134.4 424.1,133.9 424.6,133.5 425.1,133.1 425.6,132.7 426.1,132.4 426.6,132.1 427.1,131.8 427.6,131.6 428.1,131.4 428.6,131.3 429.1,131.2 429.6,131.1 430.1,131.1 430.6,131.2 431.1,131.3 431.6,131.4 432.1,131.6 432.6,131.8 433.1,132.1 433.6,132.4 434.1,132.7 434.6,133.0 435.1,133.4 435.6,133.9 436.1,134.3 436.6,134.8 437.1,135.3 437.6,135.8 438.1,136.3 438.6,136.9 439.1,137.5 439.6,138.1 440.1,138.7 440.6,139.3 441.1,139.9 441.6,140.5 442.1,141.1 442.6,141.8 443.1,142.4 443.6,143.0 444.1,143.7 444.6,144.3 445.1,144.9 445.6,145.5 446.1,146.1 446.6,146.7 447.1,147.2 447.6,147.8 448.1,148.3 448.6,148.8 449.1,149.3 449.6,149.8 450.1,150.2 450.6,150.6 451.1,151.0 451.6,151.3 452.1,151.6 452.6,151.9 453.1,152.1 453.6,152.3 454.1,152.5 454.6,152.6 455.1,152.7 455.6,152.7 456.1,152.6 456.6,152.5 457.1,152.4 457.6,152.2 458.1,152.0 458.6,151.8 459.1,151.5 459.6,151.1 460.1,150.7 460.6,150.3 461.1,149.9 461.6,149.4 462.1,148.9 462.6,148.4 463.1,147.9 463.6,147.3 464.1,146.7 464.6,146.1 465.1,145.5 465.6,144.9 466.1,144.3 466.6,143.6 467.1,143.0 467.6,142.3 468.1,141.7 468.6,141.0 469.1,140.4 469.6,139.7 470.1,139.1 470.6,138.4 471.1,137.8 471.6,137.2 472.1,136.6 472.6,136.0 473.1,135.4 473.6,134.9 474.1,134.4 474.6,133.9 475.1,133.4 475.6,133.0 476.1,132.6 476.6,132.2 477.1,131.8 477.6,131.5 478.1,131.3 478.6,131.0 479.1,130.8 479.6,130.7 480.1,130.6 480.6,130.6 481.1,130.6 481.6,130.6 482.1,130.7 482.6,130.9 483.1,131.1 483.6,131.4 484.1,131.7 484.6,132.1 485.1,132.5 485.6,132.9 486.1,133.4 486.6,133.9 487.1,134.4 487.6,135.0 488.1,135.6 488.6,136.2 489.1,136.8 489.6,137.5 490.1,138.2 490.6,138.8 491.1,139.5 491.6,140.3 492.1,141.0 492.6,141.7 493.1,142.4 493.6,143.1 494.1,143.8 494.6,144.6 495.1,145.3 495.6,146.0 496.1,146.6 496.6,147.3 497.1,148.0 497.6,148.6 498.1,149.2 498.6,149.8 499.1,150.4 499.6,150.9 500.1,151.4 500.6,151.9 501.1,152.3 501.6,152.7 502.1,153.1 502.6,153.4 503.1,153.6 503.6,153.9 504.1,154.0 504.6,154.2 505.1,154.2 505.6,154.2 506.1,154.2 506.6,154.1 507.1,153.9 507.6,153.7 508.1,153.5 508.6,153.2 509.1,152.9 509.6,152.6 510.1,152.2 510.6,151.8 511.1,151.4 511.6,150.9 512.1,150.4 512.6,149.9 513.1,149.3 513.6,148.7 514.1,148.1 514.6,147.5 515.1,146.9 515.6,146.3 516.1,145.6 516.6,145.0 517.1,144.3 517.6,143.6 518.1,143.0 518.6,142.3 519.1,141.6 519.6,140.9 520.1,140.3 520.6,139.6 521.1,139.0 521.6,138.3 522.1,137.7 522.6,137.1 523.1,136.5 523.6,135.9 524.1,135.3 524.6,134.8 525.1,134.3 525.6,133.8 526.1,133.3 526.6,132.9 527.1,132.5 527.6,132.1 528.1,131.7 528.6,131.4 529.1,131.2 529.6,131.0 530.1,130.8 530.6,130.7 531.1,130.6 531.6,130.6 532.1,130.6 532.6,130.6 533.1,130.8 533.6,130.9 534.1,131.1 534.6,131.4 535.1,131.7 535.6,132.0 536.1,132.4 536.6,132.8 537.1,133.2 537.6,133.7 538.1,134.2 538.6,134.7 539.1,135.3 539.6,135.8 540.1,136.4 540.6,137.0 541.1,137.6 541.6,138.3 542.1,138.9 542.6,139.6 543.1,140.3 543.6,140.9 544.1,141.6 544.6,142.3 545.1,143.0 545.6,143.7 546.1,144.3 546.6,145.0 547.1,145.7 547.6,146.3 548.1,147.0 548.6,147.6 549.1,148.2 549.6,148.8 550.1,149.4 550.6,149.9 551.1,150.5 551.6,151.0 552.1,151.4 552.6,151.9 553.1,152.3 553.6,152.7 554.1,153.0 554.6,153.3 555.1,153.6 555.6,153.8 556.1,154.0 556.6,154.1 557.1,154.2 557.6,154.2 558.1,154.2 558.6,154.1 559.1,154.1 559.6,153.9 560.1,153.7 560.6,153.5 561.1,153.3 561.6,153.0 562.1,152.7 562.6,152.3 563.1,152.0 563.6,151.5 564.1,151.1 564.6,150.6 565.1,150.1 565.6,149.6 566.1,149.0 566.6,148.4 567.1,147.8 567.6,147.2 568.1,146.5 568.6,145.9 569.1,145.2 569.6,144.5 570.1,143.7 570.6,143.0 571.1,142.2 571.6,141.4 572.1,140.6 572.6,139.8 573.1,135.4 573.6,134.9 574.1,134.5 574.6,134.0 575.1,133.6 575.6,133.2 576.1,132.8 576.6,132.4 577.1,132.1 577.6,131.8 578.1,131.5 578.6,131.3 579.1,131.1 579.6,130.9 580.1,130.8 580.6,130.8 581.1,130.8 581.6,130.8 582.1,130.9 582.6,131.0 583.1,131.2 583.6,131.4 584.1,131.6 584.6,131.9 585.1,132.2 585.6,132.6 586.1,132.9 586.6,133.3 587.1,133.8 587.6,134.2 588.1,134.7 588.6,135.2 589.1,135.7 589.6,136.2 590.1,136.8 590.6,137.3 591.1,137.9 591.6,138.5 592.1,139.1 592.6,139.7 593.1,140.3 593.6,140.9 594.1,141.5 594.6,142.1 595.1,142.7 595.6,143.3 596.1,143.9 596.6,144.5 597.1,145.1 597.6,145.6 598.1,146.2 598.6,146.7 599.1,147.2 599.6,147.7 600.1,148.2 600.6,148.7 601.1,149.1 601.6,149.5 602.1,149.9 602.6,150.3 603.1,150.6 603.6,150.9 604.1,151.1 604.6,151.4 605.1,151.6 605.6,151.7 606.1,151.8 606.6,151.9 607.1,151.9 607.6,151.9 608.1,151.8 608.6,151.7 609.1,151.5 609.6,151.4 610.1,151.1 610.6,150.9 611.1,150.6 611.6,150.3 612.1,149.9 612.6,149.6 613.1,149.2 613.6,148.8 614.1,148.3 614.6,147.9 615.1,147.4 615.6,146.9 616.1,146.4 616.6,145.8 617.1,145.3 617.6,144.8 618.1,144.2 618.6,143.6 619.1,143.1 619.6,142.5 620.1,141.9 620.6,141.4 621.1,140.8 621.6,140.2 622.1,139.7 622.6,139.1 623.1,138.6 623.6,138.0 624.1,137.5 624.6,137.0 625.1,136.5 625.6,136.0 626.1,135.6 626.6,135.1 627.1,134.7 627.6,134.3 628.1,134.0 628.6,133.6 629.1,133.3 629.6,133.1 630.1,132.8 630.6,132.6 631.1,132.4 631.6,132.3 632.1,132.2 632.6,132.1 633.1,132.1 633.6,132.1 634.1,132.2 634.6,132.3 635.1,132.5 635.6,132.6 636.1,132.8 636.6,133.1 637.1,133.4 637.6,133.7 638.1,134.0 638.6,134.4 639.1,134.7 639.6,135.2 640.1,135.6 640.6,136.0 641.1,136.5 641.6,137.0 642.1,137.5 642.6,138.0 643.1,138.5 643.6,139.0 644.1,139.6 644.6,140.1 645.1,140.7 645.6,141.2 646.1,141.8 646.6,142.3 647.1,142.9 647.6,143.4 648.1,144.0 648.6,144.5 649.1,145.1 649.6,145.6 650.1,146.1 650.6,146.6 651.1,147.1 651.6,147.5 652.1,148.0 652.6,148.4 653.1,148.8 653.6,149.2 654.1,149.6 654.6,149.9 655.1,150.2 655.6,150.5 656.1,150.7 656.6,151.0 657.1,151.1 657.6,151.3 658.1,151.4 658.6,151.5 659.1,151.5 659.6,151.5 660.1,151.4 660.6,151.3 661.1,151.2 661.6,151.0 662.1,150.8 662.6,150.6 663.1,150.3 663.6,150.0 664.1,149.7 664.6,149.4 665.1,149.0 665.6,148.6 666.1,148.2 666.6,147.7 667.1,147.3 667.6,146.8 668.1,146.3 668.6,145.8 669.1,145.3 669.6,144.8 670.1,144.2 670.6,143.7 671.1,143.1 671.6,142.6 672.1,142.0 672.6,141.5 673.1,140.9 673.6,140.4 674.1,139.8 674.6,139.3 675.1,138.7 675.6,138.2 676.1,137.7 676.6,137.2" fill="none" stroke="#ff5252" stroke-width="1.5" stroke-linejoin="round" style="mix-blend-mode:multiply"/>
<polyline points="365.1,142.0 365.1,137.3 365.6,137.3 366.1,137.3 366.6,137.3 367.1,137.4 367.6,137.4 368.1,137.5 368.6,137.6 369.1,137.7 369.6,137.9 370.1,138.1 370.6,138.3 371.1,138.5 371.6,138.7 372.1,139.0 372.6,139.3 373.1,139.6 373.6,139.9 374.1,140.3 374.6,140.6 375.1,141.0 375.6,141.3 376.1,141.7 376.6,142.1 377.1,142.5 377.6,142.8 378.1,143.2 378.6,143.6 379.1,144.0 379.6,144.4 380.1,144.8 380.6,145.1 381.1,145.5 381.6,145.9 382.1,146.2 382.6,146.5 383.1,146.9 383.6,147.2 384.1,147.5 384.6,147.7 385.1,148.0 385.6,148.2 386.1,148.4 386.6,148.6 387.1,148.8 387.6,148.9 388.1,149.0 388.6,149.1 389.1,149.2 389.6,149.2 390.1,149.2 390.6,149.1 391.1,149.0 391.6,148.8 392.1,148.7 392.6,148.5 393.1,148.2 393.6,147.9 394.1,147.6 394.6,147.3 395.1,147.0 395.6,146.6 396.1,146.2 396.6,145.8 397.1,145.3 397.6,144.9 398.1,144.4 398.6,143.9 399.1,143.4 399.6,142.9 400.1,142.4 400.6,141.9 401.1,141.4 401.6,140.9 402.1,140.4 402.6,139.9 403.1,139.4 403.6,138.9 404.1,138.4 404.6,138.0 405.1,137.5 405.6,137.1 406.1,136.6 406.6,136.2 407.1,135.9 407.6,135.5 408.1,135.1 408.6,134.8 409.1,134.5 409.6,134.3 410.1,134.1 410.6,133.9 411.1,133.7 411.6,133.6 412.1,133.5 412.6,133.5 413.1,133.5 413.6,133.5 414.1,133.6 414.6,133.7 415.1,133.9 415.6,134.1 416.1,134.3 416.6,134.6 417.1,134.8 417.6,135.1 418.1,135.5 418.6,135.9 419.1,136.2 419.6,136.6 420.1,137.1 420.6,137.5 421.1,138.0 421.6,138.4 422.1,138.9 422.6,139.4 423.1,139.9 423.6,140.5 424.1,141.0 424.6,141.5 425.1,142.0 425.6,142.5 426.1,143.1 426.6,143.6 427.1,144.1 427.6,144.6 428.1,145.1 428.6,145.6 429.1,146.1 429.6,146.6 430.1,147.0 430.6,147.5 431.1,147.9 431.6,148.3 432.1,148.7 432.6,149.0 433.1,149.3 433.6,149.7 434.1,149.9 434.6,150.2 435.1,150.4 435.6,150.6 436.1,150.7 436.6,150.8 437.1,150.9 437.6,150.9 438.1,150.9 438.6,150.9 439.1,150.8 439.6,150.7 440.1,150.5 440.6,150.4 441.1,150.2 441.6,150.0 442.1,149.7 442.6,149.4 443.1,149.1 443.6,148.8 444.1,148.5 444.6,148.1 445.1,147.8 445.6,147.4 446.1,147.0 446.6,146.5 447.1,146.1 447.6,145.7 448.1,145.2 448.6,144.8 449.1,144.3 449.6,143.8 450.1,143.3 450.6,142.9 451.1,142.4 451.6,141.9 452.1,141.4 452.6,140.9 453.1,140.5 453.6,140.0 454.1,139.5 454.6,139.1 455.1,138.6 455.6,138.2 456.1,137.7 456.6,137.3 457.1,136.9 457.6,136.5 458.1,136.1 458.6,135.8 459.1,135.4 459.6,135.1 460.1,134.8 460.6,134.5 461.1,134.3 461.6,134.1 462.1,133.9 462.6,133.7 463.1,133.5 463.6,133.4 464.1,133.3 464.6,133.3 465.1,133.3 465.6,133.3 466.1,133.4 466.6,133.5 467.1,133.6 467.6,133.7 468.1,133.9 468.6,134.1 469.1,134.2 469.6,135.6 470.1,135.7 470.6,135.8 471.1,135.9 471.6,136.1 472.1,136.2 472.6,136.5 473.1,136.7 473.6,137.0 474.1,137.3 474.6,137.6 475.1,138.0 475.6,138.4 476.1,138.8 476.6,139.2 477.1,139.6 477.6,140.1 478.1,140.5 478.6,141.0 479.1,141.5 479.6,142.0 480.1,142.4 480.6,142.9 481.1,143.4 481.6,144.0 482.1,144.5 482.6,145.0 483.1,145.5 483.6,146.0 484.1,146.5 484.6,146.9 485.1,147.4 485.6,147.9 486.1,148.3 486.6,148.8 487.1,149.2 487.6,149.6 488.1,150.0 488.6,150.4 489.1,150.7 489.6,151.0 490.1,151.3 490.6,151.6 491.1,151.9 491.6,152.1 492.1,152.3 492.6,152.4 493.1,152.5 493.6,152.6 494.1,152.7 494.6,152.7 495.1,152.6 495.6,152.5 496.1,152.4 496.6,152.2 497.1,151.9 497.6,151.6 498.1,151.3 498.6,150.9 499.1,150.5 499.6,150.1 500.1,149.6 500.6,149.1 501.1,148.6 501.6,148.0 502.1,147.5 502.6,146.9 503.1,146.2 503.6,145.6 504.1,145.0 504.6,144.3 505.1,143.6 505.6,143.0 506.1,142.3 506.6,141.6 507.1,140.9 507.6,140.3 508.1,139.6 508.6,138.9 509.1,138.3 509.6,137.6 510.1,137.0 510.6,136.4 511.1,135.8 511.6,135.2 512.1,134.7 512.6,134.1 513.1,133.7 513.6,133.2 514.1,132.8 514.6,132.4 515.1,132.0 515.6,131.7 516.1,131.4 516.6,131.2 517.1,131.0 517.6,130.9 518.1,130.8 518.6,130.7 519.1,130.8 519.6,130.8 520.1,131.0 520.6,131.1 521.1,131.3 521.6,131.6 522.1,131.9 522.6,132.2 523.1,132.6 523.6,133.0 524.1,133.4 524.6,133.9 525.1,134.4 525.6,134.9 526.1,135.5 526.6,136.0 527.1,136.6 527.6,137.2 528.1,137.8 528.6,138.5 529.1,139.1 529.6,139.8 530.1,140.4 530.6,141.1 531.1,141.8 531.6,142.5 532.1,143.1 532.6,143.8 533.1,144.5 533.6,145.1 534.1,145.8 534.6,146.5 535.1,147.1 535.6,147.7 536.1,148.3 536.6,148.9 537.1,149.5 537.6,150.0 538.1,150.5 538.6,151.0 539.1,151.5 539.6,151.9 540.1,152.3 540.6,152.7 541.1,153.1 541.6,153.3 542.1,153.6 542.6,153.8 543.1,154.0 543.6,154.1 544.1,154.2 544.6,154.2 545.1,154.2 545.6,154.1 546.1,154.0 546.6,153.8 547.1,153.6 547.6,153.4 548.1,153.1 548.6,152.8 549.1,152.4 549.6,152.0 550.1,151.6 550.6,151.2 551.1,150.7 551.6,150.2 552.1,149.7 552.6,149.1 553.1,148.6 553.6,148.0 554.1,147.4 554.6,146.7 555.1,146.1 555.6,145.5 556.1,144.8 556.6,144.2 557.1,143.5 557.6,142.9 558.1,142.2 558.6,141.5 559.1,140.9 559.6,140.2 560.1,139.5 560.6,138.9 561.1,138.3 561.6,137.6 562.1,137.0 562.6,136.4 563.1,135.9 563.6,135.3 564.1,134.8 564.6,134.3 565.1,133.8 565.6,133.3 566.1,132.9 566.6,132.5 567.1,132.1 567.6,131.8 568.1,131.5 568.6,131.2 569.1,131.0 569.6,130.8 570.1,130.7 570.6,130.6 571.1,130.6 571.6,130.6 572.1,130.8 572.6,131.1 573.1,134.2 573.6,134.3 574.1,134.4 574.6,134.5 575.1,134.6 575.6,134.8 576.1,135.1 576.6,135.3 577.1,135.6 577.6,135.9 578.1,136.3 578.6,136.7 579.1,137.1 579.6,137.5 580.1,137.9 580.6,138.4 581.1,138.9 581.6,139.3 582.1,139.8 582.6,140.4 583.1,140.9 583.6,141.4 584.1,142.0 584.6,142.5 585.1,143.1 585.6,143.7 586.1,144.2 586.6,144.8 587.1,145.3 587.6,145.9 588.1,146.4 588.6,147.0 589.1,147.5 589.6,148.0 590.1,148.5 590.6,149.0 591.1,149.5 591.6,150.0 592.1,150.4 592.6,150.8 593.1,151.2 593.6,151.6 594.1,151.9 594.6,152.3 595.1,152.5 595.6,152.8 596.1,153.0 596.6,153.2 597.1,153.4 597.6,153.5 598.1,153.6 598.6,153.6 599.1,153.6 599.6,153.6 600.1,153.5 600.6,153.3 601.1,153.1 601.6,152.9 602.1,152.6 602.6,152.3 603.1,151.9 603.6,151.5 604.1,151.1 604.6,150.7 605.1,150.2 605.6,149.7 606.1,149.1 606.6,148.6 607.1,148.0 607.6,147.4 608.1,146.8 608.6,146.1 609.1,145.5 609.6,144.8 610.1,144.2 610.6,143.5 611.1,142.8 611.6,142.2 612.1,141.5 612.6,140.8 613.1,140.1 613.6,139.5 614.1,138.8 614.6,138.2 615.1,137.5 615.6,136.9 616.1,136.3 616.6,135.7 617.1,135.2 617.6,134.6 618.1,134.1 618.6,133.6 619.1,133.1 619.6,132.7 620.1,132.3 620.6,132.0 621.1,131.6 621.6,131.3 622.1,131.1 622.6,130.9 623.1,130.7 623.6,130.6 624.1,130.6 624.6,130.6 625.1,130.6 625.6,130.7 626.1,130.8 626.6,131.0 627.1,131.2 627.6,131.5 628.1,131.8 628.6,132.2 629.1,132.6 629.6,133.0 630.1,133.4 630.6,133.9 631.1,134.4 631.6,135.0 632.1,135.5 632.6,136.1 633.1,136.7 633.6,137.3 634.1,137.9 634.6,138.6 635.1,139.2 635.6,139.9 636.1,140.6 636.6,141.3 637.1,141.9 637.6,142.6 638.1,143.3 638.6,144.0 639.1,144.7 639.6,145.3 640.1,146.0 640.6,146.6 641.1,147.3 641.6,147.9 642.1,148.5 642.6,149.1 643.1,149.6 643.6,150.2 644.1,150.7 644.6,151.2 645.1,151.7 645.6,152.1 646.1,152.5 646.6,152.8 647.1,153.2 647.6,153.4 648.1,153.7 648.6,153.9 649.1,154.0 649.6,154.2 650.1,154.2 650.6,154.2 651.1,154.2 651.6,154.1 652.1,153.9 652.6,153.7 653.1,153.5 653.6,153.2 654.1,152.9 654.6,152.6 655.1,152.2 655.6,151.7 656.1,151.3 656.6,150.8 657.1,150.3 657.6,149.7 658.1,149.2 658.6,148.6 659.1,148.0 659.6,147.3 660.1,146.7 660.6,146.1 661.1,145.4 661.6,144.7 662.1,144.0 662.6,143.3 663.1,142.7 663.6,142.0 664.1,141.3 664.6,140.6 665.1,139.9 665.6,139.2 666.1,138.6 666.6,137.9 667.1,137.3 667.6,136.6 668.1,136.0 668.6,135.4 669.1,134.9 669.6,134.3 670.1,133.8 670.6,133.3 671.1,132.9 671.6,132.4 672.1,132.0 672.6,131.7 673.1,131.4 673.6,131.1 674.1,130.8 674.6,130.7 675.1,130.5 675.6,130.4 676.1,130.4 676.6,130.4" fill="none" stroke="#4cbc4c" stroke-width="1.5" stroke-linejoin="round" style="mix-blend-mode:multiply"/>
<polyline points="12.9,196.4 12.9,206.1 13.4,206.2 13.9,206.3 14.4,206.4 14.9,206.5 15.4,206.5 15.9,206.5 16.4,206.5 16.9,206.4 17.4,206.1 17.9,205.5 18.4,204.9 18.9,204.2 19.4,203.6 19.9,202.9 20.4,202.1 20.9,201.2 21.4,200.2 21.9,199.2 22.4,198.3 22.9,197.4 23.4,196.7 23.9,196.0 24.4,195.3 24.9,194.6 25.4,193.9 25.9,193.2 26.4,192.5 26.9,191.9 27.4,191.3 27.9,190.9 28.4,190.5 28.9,190.3 29.4,190.2 29.9,190.2 30.4,190.3 30.9,190.5 31.4,190.7 31.9,190.9 32.4,191.2 32.9,191.5 33.4,191.8 33.9,192.2 34.4,192.7 34.9,193.3 35.4,194.0 35.9,194.4 36.4,194.6 36.9,194.5 37.4,194.1 37.9,193.5 38.4,192.7 38.9,191.7 39.4,190.7 39.9,189.6 40.4,188.6 40.9,187.6 41.4,186.7 41.9,186.0 42.4,185.5 42.9,185.3 43.4,185.4 43.9,185.8 44.4,186.3 44.9,187.1 45.4,187.9 45.9,188.9 46.4,189.9 46.9,191.1 47.4,192.9 47.9,194.7 48.4,195.9 48.9,196.8 49.4,197.6 49.9,198.3 50.4,199.0 50.9,199.7 51.4,200.5 51.9,201.3 52.4,202.0 52.9,202.7 53.4,203.2 53.9,203.6 54.4,203.8 54.9,203.7 55.4,203.4 55.9,203.1 56.4,202.5 56.9,201.9 57.4,201.3 57.9,200.6 58.4,199.9 58.9,199.3 59.4,198.7 59.9,198.2 60.4,197.7 60.9,197.1 61.4,196.5 61.9,196.0 62.4,195.6 62.9,195.3 63.4,195.3 63.9,195.6 64.4,196.3 64.9,197.3 65.5,198.5 66.0,199.8 66.5,201.0 67.0,202.1 67.5,203.5 68.0,205.1 68.5,206.6 69.0,207.5 69.5,207.6 70.0,207.3 70.5,206.6 71.0,205.8 71.5,204.7 72.0,203.5 72.5,202.3 73.0,201.0 73.5,199.6 74.0,198.4 74.5,197.2 75.0,196.3 75.5,195.4 76.0,194.5 76.5,193.5 77.0,192.5 77.5,191.6 78.0,190.7 78.5,190.0 79.0,189.5 79.5,189.1 80.0,189.0 80.5,189.1 81.0,189.2 81.5,189.3 82.0,189.6 82.5,189.8 83.0,190.1 83.5,190.5 84.0,190.9 84.5,191.2 85.0,191.8 85.5,192.7 86.0,193.6 86.5,194.4 87.0,195.0 87.5,195.7 88.0,196.3 88.5,196.8 89.0,197.3 89.5,197.6 90.0,197.8 90.5,197.6 91.0,197.0 91.5,196.0 92.0,194.7 92.5,193.3 93.0,191.7 93.5,190.1 94.0,188.6 94.5,187.2 95.0,186.2 95.5,185.4 96.0,185.1 96.5,185.3 97.0,185.9 97.5,186.8 98.0,188.0 98.5,189.3 99.0,190.7 99.5,192.2 100.0,193.6 100.5,194.9 101.0,196.0 101.5,196.9 102.0,197.8 102.5,198.7 103.0,199.6 103.5,200.5 104.0,201.3 104.5,202.1 105.0,202.8 105.5,203.3 106.0,203.6 106.5,203.8 107.0,203.7 107.5,203.6 108.0,203.3 108.5,202.9 109.0,202.5 109.5,202.0 110.0,201.4 110.5,200.8 111.0,200.1 111.5,199.4 112.0,198.7 112.5,198.1 113.0,197.4 113.5,196.8 114.0,196.3 114.5,195.8 115.0,195.3 115.5,195.0 116.0,194.8 116.5,194.7 117.0,194.8 117.5,195.4 118.0,196.4 118.5,197.8 119.0,199.4 119.5,201.1 120.0,202.7 120.5,204.2 121.0,205.4 121.5,206.2 122.0,206.5 122.5,206.2 123.0,205.6 123.5,204.5 124.0,203.2 124.5,201.8 125.0,200.2 125.5,198.6 126.0,197.1 126.5,195.7 127.0,194.5 127.5,193.7 128.0,193.0 128.5,192.3 129.0,191.6 129.5,191.0 130.0,190.5 130.5,190.1 131.0,189.8 131.5,189.6 132.0,189.6 132.5,189.8 133.0,190.1 133.5,190.5 134.0,191.1 134.5,191.7 135.0,192.4 135.5,193.1 136.0,193.9 136.5,194.7 137.0,195.6 137.5,196.4 138.0,197.2 138.5,198.0 139.0,198.7 139.5,199.4 140.0,200.0 140.5,200.6 141.0,201.0 141.5,201.3 142.0,201.4 142.5,201.4 143.0,200.9 143.5,200.1 144.0,198.9 144.5,197.5 145.0,195.9 145.5,194.2 146.0,192.6 146.5,191.0 147.0,189.5 147.5,188.3 148.0,187.5 148.5,187.0 149.0,186.9 149.5,187.2 150.0,187.7 150.5,188.4 151.0,189.4 151.5,190.4 152.0,191.6 152.5,192.8 153.0,194.1 153.5,195.4 154.0,196.7 154.5,197.9 155.0,199.1 155.5,200.1 156.0,200.9 156.5,201.6 157.0,202.0 157.5,202.2 158.0,202.2 158.5,202.0 159.0,201.7 159.5,201.4 160.0,201.0 160.5,200.6 161.0,200.2 161.5,199.8 162.0,199.1 162.5,198.4 163.0,197.5 163.5,196.6 164.0,195.7 164.5,194.7 165.0,193.8 165.5,192.9 166.0,192.0 166.5,191.3 167.0,190.7 167.5,190.2 168.0,189.9 168.5,189.8 169.0,190.1 169.5,190.9 170.0,192.1 170.6,193.5 171.1,195.2 171.6,196.9 172.1,198.8 172.6,200.5 173.1,202.1 173.6,203.5 174.1,204.6 174.6,205.3 175.1,205.5 175.6,205.3 176.1,204.9 176.6,204.3 177.1,203.5 177.6,202.5 178.1,201.4 178.6,200.2 179.1,199.0 179.6,197.7 180.1,196.5 180.6,195.3 181.1,194.2 181.6,193.2 182.1,192.3 182.6,191.6 183.1,191.1 183.6,190.8 184.1,190.8 184.6,191.0 185.1,191.3 185.6,191.8 186.1,192.4 186.6,193.1 187.1,193.8 187.6,194.7 188.1,195.6 188.6,196.5 189.1,197.5 189.6,198.5 190.1,199.4 190.6,200.3 191.1,201.2 191.6,202.0 192.1,202.7 192.6,203.3 193.1,203.8 193.6,204.1 194.1,204.3 194.6,204.3 195.1,203.9 195.6,203.1 196.1,201.9 196.6,200.4 197.1,198.8 197.6,197.0 198.1,195.2 198.6,193.4 199.1,191.7 199.6,190.3 200.1,189.1 200.6,188.2 201.1,187.7 201.6,187.7 202.1,188.0 202.6,188.5 203.1,189.2 203.6,190.0 204.1,191.0 204.6,192.1 205.1,193.3 205.6,194.5 206.1,195.7 206.6,196.9 207.1,198.0 207.6,199.0 208.1,199.9 208.6,200.7 209.1,201.2 209.6,201.5 210.1,201.6 210.6,201.5 211.1,201.3 211.6,200.9 212.1,200.4 212.6,199.9 213.1,199.2 213.6,198.5 214.1,197.8 214.6,197.0 215.1,196.2 215.6,195.4 216.1,194.6 216.6,193.9 217.1,193.2 217.6,192.6 218.1,192.1 218.6,191.7 219.1,191.2 219.6,190.7 220.1,190.3 220.6,189.8 221.1,189.4 221.6,189.1 222.1,188.8 222.6,188.7 223.1,188.7 223.6,189.2 224.1,190.4 224.6,192.1 225.1,194.0 225.6,196.1 226.1,198.0 226.6,199.7 227.1,200.9 227.6,201.4 228.1,201.4 228.6,201.1 229.1,200.7 229.6,200.1 230.1,199.4 230.6,198.6 231.1,197.7 231.6,196.9 232.1,196.0 232.6,195.2 233.1,194.4 233.6,193.7 234.1,193.2 234.6,192.8 235.1,192.6 235.6,192.5 236.1,192.6 236.6,192.9 237.1,193.1 237.6,193.4 238.1,193.8 238.6,194.2 239.1,194.7 239.6,195.3 240.1,196.1 240.6,196.9 241.1,197.7 241.6,198.6 242.1,199.6 242.6,200.5 243.1,201.5 243.6,202.4 244.1,203.3 244.6,204.1 245.1,204.9 245.6,205.6 246.1,206.2 246.6,206.7 247.1,207.0 247.6,207.2 248.1,207.2 248.6,206.8 249.1,205.9 249.6,204.6 250.1,203.1 250.6,201.3 251.1,199.4 251.6,197.5 252.1,195.7 252.6,194.1 253.1,192.8 253.6,191.9 254.1,191.4 254.6,191.4 255.1,191.6 255.6,191.9 256.1,192.4 256.6,192.9 257.1,193.6 257.6,194.3 258.1,195.0 258.6,195.7 259.1,196.4 259.6,197.0 260.1,197.6 260.6,198.1 261.1,198.5 261.6,198.8 262.1,198.9 262.6,198.9 263.1,198.6 263.6,198.3 264.1,197.8 264.6,197.2 265.1,196.6 265.6,195.8 266.1,195.0 266.6,194.1 267.1,193.2 267.6,192.3 268.1,191.4 268.6,190.5 269.1,189.6 269.6,188.8 270.1,188.0 270.6,187.2 271.1,186.6 271.6,186.1 272.1,185.6 272.6,185.3 273.1,185.2 273.6,185.2 274.1,185.5 274.6,186.0 275.1,186.6 275.6,187.3 276.2,188.1 276.7,189.4 277.2,191.3 277.7,193.4 278.2,195.6 278.7,197.6 279.2,199.4 279.7,200.5 280.2,200.9 280.7,200.8 281.2,200.5 281.7,200.1 282.2,199.6 282.7,199.1 283.2,198.4 283.7,197.8 284.2,197.1 284.7,196.4 285.2,195.8 285.7,195.2 286.2,194.7 286.7,194.3 287.2,194.0 287.7,193.9 288.2,193.9 288.7,194.1 289.2,194.4 289.7,194.8 290.2,195.2 290.7,195.8 291.2,196.5 291.7,197.2 292.2,198.0 292.7,198.8 293.2,199.6 293.7,200.5 294.2,201.3 294.7,202.2 295.2,203.0 295.7,203.8 296.2,204.6 296.7,205.3 297.2,205.9 297.7,206.5 298.2,207.0 298.7,207.4 299.2,207.7 299.7,207.8 300.2,207.8 300.7,207.5 301.2,206.7 301.7,205.7 302.2,204.4 302.7,202.9 303.2,201.3 303.7,199.7 304.2,198.1 304.7,196.5 305.2,195.1 305.7,193.9 306.2,193.0 306.7,192.5 307.2,192.3 307.7,192.4 308.2,192.7 308.7,193.0 309.2,193.5 309.7,194.0 310.2,194.6 310.7,195.2 311.2,195.9 311.7,196.5 312.2,197.1 312.7,197.6 313.2,198.1 313.7,198.5 314.2,198.8 314.7,198.9 315.2,198.9 315.7,198.7 316.2,198.5 316.7,198.1 317.2,197.6 317.7,197.0 318.2,196.3 318.7,195.6 319.2,194.8 319.7,194.0 320.2,193.1 320.7,192.2 321.2,191.3 321.7,190.5 322.2,189.6 322.7,188.8 323.2,188.1 323.7,187.4 324.2,186.7 324.7,186.2 325.2,185.8 325.7,185.4 326.2,185.2 326.7,185.1 327.2,185.5 327.7,186.4 328.2,187.2" fill="none" stroke="#ff5252" stroke-width="1.5" stroke-linejoin="round" style="mix-blend-mode:multiply"/>
<polyline points="12.9,196.4 12.9,192.4 13.4,193.7 13.9,194.9 14.4,195.8 14.9,196.4 15.4,196.9 15.9,197.3 16.4,197.6 16.9,197.7 17.4,197.7 17.9,197.6 18.4,197.4 18.9,197.1 19.4,196.8 19.9,196.5 20.4,196.2 20.9,196.0 21.4,195.9 21.9,195.8 22.4,195.9 22.9,196.0 23.4,196.2 23.9,196.5 24.4,196.7 24.9,197.0 25.4,197.2 25.9,197.5 26.4,197.8 26.9,198.2 27.4,198.5 27.9,198.9 28.4,199.3 28.9,199.6 29.4,199.9 29.9,200.2 30.4,200.4 30.9,200.5 31.4,200.5 31.9,200.3 32.4,200.0 32.9,199.5 33.4,199.0 33.9,198.4 34.4,197.7 34.9,197.0 35.4,196.3 35.9,195.5 36.4,194.7 36.9,193.6 37.4,192.4 37.9,191.0 38.4,189.6 38.9,188.3 39.4,187.1 39.9,186.2 40.4,185.5 40.9,185.3 41.4,185.6 41.9,186.4 42.4,187.4 42.9,188.6 43.4,189.8 43.9,190.9 44.4,191.8 44.9,192.7 45.4,193.7 45.9,194.7 46.4,195.5 46.9,196.1 47.4,196.4 47.9,196.4 48.4,196.2 48.9,196.0 49.4,195.8 49.9,195.5 50.4,195.1 50.9,194.7 51.4,194.3 51.9,193.8 52.4,193.4 52.9,193.0 53.4,192.6 53.9,192.3 54.4,191.9 54.9,191.7 55.4,191.5 55.9,191.4 56.4,191.4 56.9,191.4 57.4,191.6 57.9,191.9 58.4,192.2 58.9,192.6 59.4,193.1 59.9,193.6 60.4,194.1 60.9,194.7 61.4,195.3 61.9,195.9 62.4,196.7 62.9,197.6 63.4,198.7 63.9,200.1 64.4,201.8 64.9,203.6 65.5,205.5 66.0,207.3 66.5,208.7 67.0,209.7 67.5,210.2 68.0,209.9 68.5,209.1 69.0,207.9 69.5,206.5 70.0,204.9 70.5,203.4 71.0,202.1 71.5,200.9 72.0,199.6 72.5,198.3 73.0,197.4 73.5,197.0 74.0,196.8 74.5,196.7 75.0,196.6 75.5,196.6 76.0,196.6 76.5,196.9 77.0,197.3 77.5,197.8 78.0,198.3 78.5,198.7 79.0,199.1 79.5,199.5 80.0,199.9 80.5,200.3 81.0,200.7 81.5,201.0 82.0,201.3 82.5,201.4 83.0,201.4 83.5,201.4 84.0,201.3 84.5,201.1 85.0,200.9 85.5,200.6 86.0,200.3 86.5,199.7 87.0,198.5 87.5,196.9 88.0,195.1 88.5,193.3 89.0,191.6 89.5,190.3 90.0,189.1 90.5,187.8 91.0,186.6 91.5,185.4 92.0,184.3 92.5,183.5 93.0,182.8 93.5,182.5 94.0,182.5 94.5,183.1 95.0,184.0 95.5,185.2 96.0,186.5 96.5,187.6 97.0,188.7 97.5,190.0 98.0,191.4 98.5,192.8 99.0,194.1 99.5,195.2 100.0,196.1 100.5,196.5 101.0,196.6 101.5,196.5 102.0,196.3 102.5,196.0 103.0,195.7 103.5,195.4 104.0,195.0 104.5,194.6 105.0,194.1 105.5,193.7 106.0,193.2 106.5,192.8 107.0,192.4 107.5,192.1 108.0,191.8 108.5,191.6 109.0,191.4 109.5,191.4 110.0,191.4 110.5,191.6 111.0,191.9 111.5,192.4 112.0,192.9 112.5,193.5 113.0,194.1 113.5,194.8 114.0,195.6 114.5,196.3 115.0,197.5 115.5,199.0 116.0,200.7 116.5,202.6 117.0,204.5 117.5,206.4 118.0,208.0 118.5,209.4 119.0,210.3 119.5,210.7 120.0,210.4 120.5,209.2 121.0,207.3 121.5,205.1 122.0,202.7 122.5,200.5 123.0,198.6 123.5,197.4 124.0,196.5 124.5,195.7 125.0,195.0 125.5,194.4 126.0,193.9 126.5,193.6 127.0,193.5 127.5,193.5 128.0,193.7 128.5,194.0 129.0,194.3 129.5,194.7 130.0,195.1 130.5,195.6 131.0,196.2 131.5,196.7 132.0,197.3 132.5,197.9 133.0,198.4 133.5,198.9 134.0,199.4 134.5,199.9 135.0,200.3 135.5,200.6 136.0,200.9 136.5,201.0 137.0,201.1 137.5,200.9 138.0,200.4 138.5,199.8 139.0,198.9 139.5,197.9 140.0,196.7 140.5,195.5 141.0,194.3 141.5,193.0 142.0,191.8 142.5,190.7 143.0,189.8 143.5,189.0 144.0,188.2 144.5,187.5 145.0,186.8 145.5,186.4 146.0,186.4 146.5,186.8 147.0,187.6 147.5,188.7 148.0,190.1 148.5,191.6 149.0,193.3 149.5,195.0 150.0,196.6 150.5,198.2 151.0,199.7 151.5,200.9 152.0,201.8 152.5,202.3 153.0,202.4 153.5,202.3 154.0,202.1 154.5,201.7 155.0,201.2 155.5,200.7 156.0,200.1 156.5,199.4 157.0,198.7 157.5,197.9 158.0,197.1 158.5,196.3 159.0,195.5 159.5,194.7 160.0,194.0 160.5,193.3 161.0,192.6 161.5,192.1 162.0,191.6 162.5,191.2 163.0,190.9 163.5,190.8 164.0,190.8 164.5,191.1 165.0,191.7 165.5,192.5 166.0,193.5 166.5,194.6 167.0,195.9 167.5,197.2 168.0,198.5 168.5,199.9 169.0,201.2 169.5,202.4 170.0,203.4 170.6,204.3 171.1,205.0 171.6,205.4 172.1,205.5 172.6,205.2 173.1,204.6 173.6,203.6 174.1,202.3 174.6,200.9 175.1,199.3 175.6,197.6 176.1,196.0 176.6,194.4 177.1,193.0 177.6,191.7 178.1,190.7 178.6,190.1 179.1,189.8 179.6,189.9 180.1,190.0 180.6,190.3 181.1,190.7 181.6,191.2 182.1,191.8 182.6,192.4 183.1,193.1 183.6,193.8 184.1,194.5 184.6,195.3 185.1,196.1 185.6,196.9 186.1,197.7 186.6,198.4 187.1,199.1 187.6,199.8 188.1,200.4 188.6,201.0 189.1,201.4 189.6,201.8 190.1,202.0 190.6,202.2 191.1,202.2 191.6,202.0 192.1,201.5 192.6,200.8 193.1,199.9 193.6,198.8 194.1,197.7 194.6,196.4 195.1,195.2 195.6,193.9 196.1,192.6 196.6,191.4 197.1,190.3 197.6,189.4 198.1,188.6 198.6,187.9 199.1,187.6 199.6,187.5 200.1,187.8 200.6,188.5 201.1,189.5 201.6,190.8 202.1,192.3 202.6,193.9 203.1,195.6 203.6,197.3 204.1,198.9 204.6,200.3 205.1,201.5 205.6,202.5 206.1,203.0 206.6,203.2 207.1,203.1 207.6,202.8 208.1,202.4 208.6,201.8 209.1,201.1 209.6,200.4 210.1,199.5 210.6,198.7 211.1,197.7 211.6,196.8 212.1,195.9 212.6,195.0 213.1,194.1 213.6,193.3 214.1,192.6 214.6,192.0 215.1,191.4 215.6,191.1 216.1,190.8 216.6,190.8 217.1,191.1 217.6,191.7 218.1,192.6 218.6,193.8 219.1,195.1 219.6,196.6 220.1,198.2 220.6,199.8 221.1,201.4 221.6,202.9 222.1,204.3 222.6,205.4 223.1,206.4 223.6,207.0 224.1,207.3 224.6,207.1 225.1,206.5 225.6,205.6 226.1,204.3 226.6,202.7 227.1,201.0 227.6,199.2 228.1,197.3 228.6,195.4 229.1,193.5 229.6,191.9 230.1,190.4 230.6,189.1 231.1,188.2 231.6,187.8 232.1,187.7 232.6,187.9 233.1,188.2 233.6,188.7 234.1,189.2 234.6,189.9 235.1,190.6 235.6,191.4 236.1,192.2 236.6,193.0 237.1,193.7 237.6,194.4 238.1,195.0 238.6,195.6 239.1,196.3 239.6,197.0 240.1,197.8 240.6,198.5 241.1,199.2 241.6,199.9 242.1,200.4 242.6,200.9 243.1,201.2 243.6,201.4 244.1,201.4 244.6,201.2 245.1,200.8 245.6,200.2 246.1,199.5 246.6,198.6 247.1,197.8 247.6,196.9 248.1,196.0 248.6,195.3 249.1,194.6 249.6,194.0 250.1,193.7 250.6,193.5 251.1,193.6 251.6,194.1 252.1,194.9 252.6,195.9 253.1,197.1 253.6,198.4 254.1,199.8 254.6,201.2 255.1,202.6 255.6,204.0 256.1,205.2 256.6,206.2 257.1,207.0 257.6,207.5 258.1,207.7 258.6,207.6 259.1,207.3 259.6,206.9 260.1,206.4 260.6,205.8 261.1,205.0 261.6,204.2 262.1,203.3 262.6,202.3 263.1,201.3 263.6,200.3 264.1,199.3 264.6,198.2 265.1,197.2 265.6,196.1 266.1,195.2 266.6,194.2 267.1,193.4 267.6,192.6 268.1,191.9 268.6,191.3 269.1,190.9 269.6,190.6 270.1,190.4 270.6,190.4 271.1,190.7 271.6,191.2 272.1,192.0 272.6,192.8 273.1,193.8 273.6,194.7 274.1,195.7 274.6,196.6 275.1,197.3 275.6,197.9 276.2,198.3 276.7,198.3 277.2,198.0 277.7,197.4 278.2,196.5 278.7,195.4 279.2,194.1 279.7,192.7 280.2,191.3 280.7,189.9 281.2,188.5 281.7,187.3 282.2,186.2 282.7,185.3 283.2,184.8 283.7,184.6 284.2,184.6 284.7,184.9 285.2,185.2 285.7,185.7 286.2,186.4 286.7,187.1 287.2,187.9 287.7,188.8 288.2,189.8 288.7,190.8 289.2,191.8 289.7,192.9 290.2,194.0 290.7,195.0 291.2,196.1 291.7,197.1 292.2,198.0 292.7,198.9 293.2,199.7 293.7,200.4 294.2,201.1 294.7,201.6 295.2,201.9 295.7,202.2 296.2,202.2 296.7,202.1 297.2,201.8 297.7,201.3 298.2,200.8 298.7,200.1 299.2,199.4 299.7,198.6 300.2,197.9 300.7,197.1 301.2,196.4 301.7,195.8 302.2,195.3 302.7,194.9 303.2,194.7 303.7,194.7 304.2,195.0 304.7,195.7 305.2,196.8 305.7,198.0 306.2,199.4 306.7,200.8 307.2,202.3 307.7,203.8 308.2,205.1 308.7,206.3 309.2,207.2 309.7,207.8 310.2,208.0 310.7,208.0 311.2,207.7 311.7,207.4 312.2,206.9 312.7,206.3 313.2,205.6 313.7,204.8 314.2,204.0 314.7,203.1 315.2,202.1 315.7,201.1 316.2,200.1 316.7,199.0 317.2,198.0 317.7,197.0 318.2,196.0 318.7,195.0 319.2,194.1 319.7,193.3 320.2,192.5 320.7,191.8 321.2,191.2 321.7,190.8 322.2,190.4 322.7,190.2 323.2,190.2 323.7,190.4 324.2,190.7 324.7,191.3 325.2,191.9 325.7,192.7 326.2,193.5 326.7,194.3 327.2,195.0 327.7,195.8 328.2,196.4" fill="none" stroke="#4cbc4c" stroke-width="1.5" stroke-linejoin="round" style="mix-blend-mode:multiply"/>
<polyline points="365.1,196.4 365.1,193.7 365.6,194.9 366.1,196.1 366.6,197.2 367.1,198.3 367.6,199.3 368.1,200.1 368.6,200.9 369.1,201.5 369.6,202.0 370.1,202.4 370.6,202.6 371.1,202.6 371.6,202.4 372.1,202.1 372.6,201.7 373.1,201.1 373.6,200.5 374.1,199.7 374.6,198.8 375.1,197.9 375.6,197.0 376.1,196.0 376.6,195.0 377.1,194.1 377.6,193.1 378.1,192.2 378.6,191.3 379.1,190.5 379.6,189.7 380.1,189.1 380.6,188.6 381.1,188.2 381.6,187.9 382.1,187.9 382.6,187.9 383.1,188.2 383.6,188.6 384.1,189.1 384.6,189.7 385.1,190.4 385.6,191.2 386.1,192.0 386.6,193.0 387.1,194.0 387.6,195.0 388.1,196.0 388.6,197.0 389.1,198.0 389.6,199.0 390.1,200.0 390.6,200.9 391.1,201.8 391.6,202.6 392.1,203.3 392.6,203.9 393.1,204.3 393.6,204.7 394.1,204.9 394.6,204.9 395.1,204.8 395.6,204.6 396.1,204.2 396.6,203.7 397.1,203.1 397.6,202.5 398.1,201.7 398.6,200.9 399.1,200.0 399.6,199.0 400.1,198.1 400.6,197.1 401.1,196.1 401.6,195.1 402.1,194.1 402.6,193.2 403.1,192.3 403.6,191.4 404.1,190.6 404.6,189.9 405.1,189.2 405.6,188.7 406.1,188.2 406.6,187.9 407.1,187.7 407.6,187.7 408.1,187.8 408.6,188.1 409.1,188.5 409.6,189.1 410.1,189.8 410.6,190.5 411.1,191.4 411.6,192.4 412.1,193.4 412.6,194.5 413.1,195.6 413.6,196.7 414.1,197.8 414.6,198.9 415.1,200.0 415.6,201.0 416.1,202.0 416.6,202.9 417.1,203.7 417.6,204.4 418.1,205.0 418.6,205.5 419.1,205.9 419.6,206.1 420.1,206.1 420.6,205.9 421.1,205.6 421.6,205.2 422.1,204.7 422.6,204.0 423.1,203.2 423.6,202.4 424.1,201.5 424.6,200.5 425.1,199.5 425.6,198.4 426.1,197.3 426.6,196.3 427.1,195.2 427.6,194.1 428.1,193.1 428.6,192.1 429.1,191.2 429.6,190.3 430.1,189.5 430.6,188.8 431.1,188.3 431.6,187.8 432.1,187.5 432.6,187.3 433.1,187.3 433.6,187.4 434.1,187.7 434.6,188.2 435.1,188.7 435.6,189.4 436.1,190.1 436.6,191.0 437.1,191.9 437.6,192.9 438.1,193.9 438.6,195.0 439.1,196.0 439.6,197.1 440.1,198.2 440.6,199.3 441.1,200.3 441.6,201.3 442.1,202.2 442.6,203.1 443.1,203.9 443.6,204.5 444.1,205.1 444.6,205.6 445.1,205.9 445.6,206.1 446.1,206.1 446.6,205.9 447.1,205.6 447.6,205.2 448.1,204.7 448.6,204.0 449.1,203.2 449.6,202.4 450.1,201.5 450.6,200.5 451.1,199.5 451.6,198.4 452.1,197.3 452.6,196.3 453.1,195.2 453.6,194.1 454.1,193.1 454.6,192.1 455.1,191.2 455.6,190.3 456.1,189.5 456.6,188.8 457.1,188.3 457.6,187.8 458.1,187.5 458.6,187.3 459.1,187.3 459.6,187.5 460.1,187.8 460.6,188.3 461.1,189.0 461.6,189.8 462.1,190.7 462.6,191.7 463.1,192.7 463.6,193.9 464.1,195.0 464.6,196.2 465.1,197.4 465.6,198.6 466.1,199.8 466.6,200.9 467.1,201.9 467.6,202.9 468.1,203.8 468.6,204.5 469.1,205.2 469.6,205.6 470.1,206.0 470.6,206.1 471.1,206.1 471.6,205.9 472.1,205.6 472.6,205.2 473.1,204.6 473.6,204.0 474.1,203.3 474.6,202.6 475.1,201.8 475.6,200.9 476.1,200.0 476.6,199.0 477.1,198.1 477.6,197.1 478.1,196.1 478.6,195.1 479.1,194.2 479.6,193.3 480.1,192.5 480.6,191.7 481.1,190.9 481.6,190.3 482.1,189.7 482.6,189.2 483.1,188.8 483.6,188.6 484.1,188.5 484.6,188.5 485.1,188.6 485.6,188.8 486.1,189.2 486.6,189.6 487.1,190.1 487.6,190.7 488.1,191.3 488.6,192.0 489.1,192.7 489.6,193.5 490.1,194.3 490.6,195.1 491.1,195.9 491.6,196.7 492.1,197.6 492.6,198.3 493.1,199.1 493.6,199.8 494.1,200.5 494.6,201.2 495.1,201.7 495.6,202.2 496.1,202.7 496.6,203.0 497.1,203.2 497.6,203.4 498.1,203.4 498.6,203.3 499.1,203.1 499.6,202.8 500.1,202.4 500.6,201.9 501.1,201.4 501.6,200.8 502.1,200.1 502.6,199.5 503.1,198.8 503.6,198.0 504.1,197.3 504.6,196.5 505.1,195.8 505.6,195.0 506.1,194.3 506.6,193.6 507.1,193.0 507.6,192.4 508.1,191.9 508.6,191.4 509.1,191.0 509.6,190.7 510.1,190.5 510.6,190.4 511.1,190.4 511.6,190.5 512.1,190.7 512.6,191.0 513.1,191.4 513.6,191.8 514.1,192.3 514.6,192.9 515.1,193.5 515.6,194.2 516.1,194.8 516.6,195.5 517.1,196.2 517.6,196.9 518.1,197.6 518.6,198.3 519.1,199.0 519.6,199.6 520.1,200.2 520.6,200.8 521.1,201.2 521.6,201.7 522.1,202.0 522.6,202.3 523.1,202.5 523.6,202.6 524.1,202.6 524.6,202.5 525.1,202.3 525.6,202.0 526.1,201.6 526.6,201.2 527.1,200.6 527.6,200.1 528.1,199.5 528.6,198.8 529.1,198.2 529.6,197.5 530.1,196.8 530.6,196.1 531.1,195.4 531.6,194.7 532.1,194.0 532.6,193.4 533.1,192.8 533.6,192.2 534.1,191.7 534.6,191.3 535.1,191.0 535.6,190.7 536.1,190.5 536.6,190.4 537.1,190.4 537.6,190.5 538.1,190.7 538.6,191.0 539.1,191.4 539.6,191.8 540.1,192.3 540.6,192.9 541.1,193.5 541.6,194.2 542.1,194.8 542.6,195.5 543.1,196.2 543.6,196.9 544.1,197.6 544.6,198.3 545.1,199.0 545.6,199.6 546.1,200.2 546.6,200.8 547.1,201.2 547.6,201.7 548.1,202.0 548.6,202.3 549.1,202.5 549.6,202.6 550.1,202.6 550.6,202.5 551.1,202.2 551.6,201.9 552.1,201.5 552.6,201.0 553.1,200.5 553.6,199.9 554.1,199.2 554.6,198.5 555.1,197.8 555.6,197.1 556.1,196.3 556.6,195.6 557.1,194.9 557.6,194.1 558.1,193.5 558.6,192.8 559.1,192.2 559.6,191.7 560.1,191.2 560.6,190.8 561.1,190.5 561.6,190.3 562.1,190.2 562.6,190.2 563.1,190.4 563.6,190.6 564.1,190.9 564.6,191.4 565.1,191.9 565.6,192.4 566.1,193.0 566.6,193.6 567.1,194.2 567.6,194.8 568.1,195.4 568.6,196.0 569.1,196.7 569.6,197.5 570.1,198.3 570.6,199.1 571.1,199.9 571.6,200.7 572.1,201.5 572.6,202.4 573.1,202.9 573.6,202.9 574.1,202.2 574.6,201.4 575.1,200.5 575.6,200.0 576.1,199.5 576.6,199.0 577.1,198.6 577.6,198.2 578.1,197.9 578.6,197.6 579.1,197.2 579.6,196.9 580.1,196.5 580.6,196.2 581.1,195.9 581.6,195.6 582.1,195.3 582.6,195.0 583.1,194.7 583.6,194.5 584.1,194.3 584.6,194.1 585.1,194.0 585.6,193.9 586.1,193.9 586.6,193.9 587.1,193.9 587.6,194.0 588.1,194.1 588.6,194.2 589.1,194.4 589.6,194.6 590.1,194.8 590.6,195.0 591.1,195.2 591.6,195.5 592.1,195.7 592.6,195.9 593.1,196.2 593.6,196.4 594.1,196.7 594.6,196.9 595.1,197.1 595.6,197.3 596.1,197.5 596.6,197.6 597.1,197.7 597.6,197.8 598.1,197.9 598.6,197.9 599.1,197.9 599.6,197.9 600.1,197.9 600.6,197.8 601.1,197.8 601.6,197.7 602.1,197.6 602.6,197.5 603.1,197.4 603.6,197.2 604.1,197.1 604.6,197.0 605.1,196.8 605.6,196.7 606.1,196.6 606.6,196.4 607.1,196.3 607.6,196.2 608.1,196.0 608.6,195.9 609.1,195.8 609.6,195.7 610.1,195.6 610.6,195.6 611.1,195.5 611.6,195.5 612.1,195.4 612.6,195.4 613.1,195.4 613.6,195.5 614.1,195.5 614.6,195.5 615.1,195.5 615.6,195.6 616.1,195.6 616.6,195.7 617.1,195.7 617.6,195.8 618.1,195.8 618.6,195.9 619.1,196.0 619.6,196.0 620.1,196.1 620.6,196.1 621.1,196.2 621.6,196.2 622.1,196.3 622.6,196.3 623.1,196.3 623.6,196.4 624.1,196.4 624.6,196.4 625.1,196.4 625.6,196.4 626.1,196.4 626.6,196.4 627.1,196.4 627.6,196.4 628.1,196.4 628.6,196.4 629.1,196.4 629.6,196.4 630.1,196.4 630.6,196.4 631.1,196.4 631.6,196.4 632.1,196.4 632.6,196.4 633.1,196.4 633.6,196.4 634.1,196.4 634.6,196.4 635.1,196.4 635.6,196.4 636.1,196.4 636.6,196.4 637.1,196.4 637.6,196.4 638.1,196.4 638.6,196.4 639.1,196.4 639.6,196.4 640.1,196.4 640.6,196.4 641.1,196.4 641.6,196.4 642.1,196.4 642.6,196.4 643.1,196.4 643.6,196.4 644.1,196.4 644.6,196.4 645.1,196.4 645.6,196.4 646.1,196.4 646.6,196.4 647.1,196.4 647.6,196.4 648.1,196.4 648.6,196.4 649.1,196.4 649.6,196.4 650.1,196.4 650.6,196.4 651.1,196.4 651.6,196.4 652.1,196.4 652.6,196.4 653.1,196.4 653.6,196.4 654.1,196.4 654.6,196.4 655.1,196.4 655.6,196.4 656.1,196.4 656.6,196.4 657.1,196.4 657.6,196.4 658.1,196.4 658.6,196.4 659.1,196.4 659.6,196.4 660.1,196.4 660.6,196.4 661.1,196.4 661.6,196.4 662.1,196.4 662.6,196.4 663.1,196.4 663.6,196.4 664.1,196.4 664.6,196.4 665.1,196.4 665.6,196.4 666.1,196.4 666.6,196.4 667.1,196.4 667.6,196.4 668.1,196.4 668.6,196.4 669.1,196.4 669.6,196.4 670.1,196.4 670.6,196.4 671.1,196.4 671.6,196.4 672.1,196.4 672.6,196.4 673.1,196.4 673.6,196.4 674.1,196.4 674.6,196.4 675.1,196.4 675.6,196.4 676.1,196.4 676.6,196.4" fill="none" stroke="#ff5252" stroke-width="1.5" stroke-linejoin="round" style="mix-blend-mode:multiply"/>
<polyline points="365.1,196.4 365.1,203.8 365.6,203.1 366.1,202.4 366.6,201.7 367.1,201.2 367.6,200.6 368.1,200.2 368.6,199.8 369.1,199.4 369.6,199.1 370.1,198.7 370.6,198.4 371.1,198.1 371.6,197.8 372.1,197.6 372.6,197.4 373.1,197.2 373.6,197.0 374.1,196.9 374.6,196.8 375.1,196.7 375.6,196.6 376.1,196.5 376.6,196.5 377.1,196.4 377.6,196.4 378.1,196.4 378.6,196.4 379.1,196.5 379.6,196.6 380.1,196.7 380.6,196.8 381.1,196.9 381.6,197.1 382.1,197.2 382.6,197.3 383.1,197.4 383.6,197.5 384.1,197.5 384.6,197.6 385.1,197.7 385.6,197.8 386.1,197.9 386.6,197.9 387.1,198.0 387.6,198.1 388.1,198.1 388.6,198.1 389.1,198.1 389.6,198.1 390.1,198.1 390.6,198.1 391.1,198.0 391.6,197.9 392.1,197.9 392.6,197.8 393.1,197.7 393.6,197.6 394.1,197.5 394.6,197.4 395.1,197.3 395.6,197.2 396.1,197.2 396.6,197.1 397.1,197.0 397.6,197.0 398.1,196.9 398.6,196.8 399.1,196.8 399.6,196.7 400.1,196.6 400.6,196.6 401.1,196.5 401.6,196.5 402.1,196.4 402.6,196.4 403.1,196.4 403.6,196.4 404.1,196.4 404.6,196.4 405.1,196.4 405.6,196.4 406.1,196.4 406.6,196.4 407.1,196.4 407.6,196.4 408.1,196.4 408.6,196.4 409.1,196.4 409.6,196.4 410.1,196.4 410.6,196.4 411.1,196.4 411.6,196.4 412.1,196.4 412.6,196.4 413.1,196.4 413.6,196.4 414.1,196.4 414.6,196.4 415.1,196.4 415.6,196.4 416.1,196.4 416.6,196.4 417.1,196.4 417.6,196.4 418.1,196.4 418.6,196.4 419.1,196.4 419.6,196.4 420.1,196.4 420.6,196.4 421.1,196.4 421.6,196.4 422.1,196.4 422.6,196.4 423.1,196.4 423.6,196.4 424.1,196.4 424.6,196.4 425.1,196.4 425.6,196.4 426.1,196.4 426.6,196.4 427.1,196.4 427.6,196.4 428.1,196.4 428.6,196.4 429.1,196.4 429.6,196.4 430.1,196.4 430.6,196.4 431.1,196.4 431.6,196.4 432.1,196.4 432.6,196.4 433.1,196.4 433.6,196.4 434.1,196.4 434.6,196.4 435.1,196.4 435.6,196.4 436.1,196.4 436.6,196.4 437.1,196.4 437.6,196.4 438.1,196.4 438.6,196.4 439.1,196.4 439.6,196.4 440.1,196.4 440.6,196.4 441.1,196.4 441.6,196.4 442.1,196.4 442.6,196.4 443.1,196.4 443.6,196.4 444.1,196.4 444.6,196.4 445.1,196.4 445.6,196.4 446.1,196.4 446.6,196.4 447.1,196.4 447.6,196.4 448.1,196.4 448.6,196.4 449.1,196.4 449.6,196.4 450.1,196.4 450.6,196.4 451.1,196.4 451.6,196.4 452.1,196.4 452.6,196.4 453.1,196.4 453.6,196.4 454.1,196.4 454.6,196.4 455.1,196.4 455.6,196.4 456.1,196.4 456.6,196.4 457.1,196.4 457.6,196.4 458.1,196.4 458.6,196.4 459.1,196.4 459.6,196.4 460.1,196.4 460.6,196.4 461.1,196.4 461.6,196.4 462.1,196.4 462.6,196.4 463.1,196.4 463.6,196.4 464.1,196.4 464.6,196.4 465.1,196.4 465.6,196.4 466.1,196.4 466.6,196.4 467.1,196.4 467.6,196.4 468.1,196.4 468.6,196.4 469.1,196.4 469.6,196.2 470.1,195.9 470.6,195.6 471.1,195.4 471.6,195.4 472.1,195.5 472.6,195.7 473.1,195.9 473.6,196.1 474.1,196.4 474.6,196.7 475.1,197.1 475.6,197.4 476.1,197.7 476.6,198.1 477.1,198.4 477.6,198.7 478.1,199.0 478.6,199.2 479.1,199.4 479.6,199.5 480.1,199.5 480.6,199.5 481.1,199.3 481.6,199.2 482.1,198.9 482.6,198.6 483.1,198.3 483.6,197.9 484.1,197.5 484.6,197.1 485.1,196.6 485.6,196.2 486.1,195.7 486.6,195.2 487.1,194.8 487.6,194.4 488.1,194.0 488.6,193.6 489.1,193.3 489.6,193.0 490.1,192.8 490.6,192.6 491.1,192.5 491.6,192.5 492.1,192.6 492.6,192.7 493.1,192.9 493.6,193.2 494.1,193.5 494.6,193.8 495.1,194.2 495.6,194.7 496.1,195.1 496.6,195.6 497.1,196.1 497.6,196.6 498.1,197.1 498.6,197.6 499.1,198.1 499.6,198.6 500.1,199.0 500.6,199.4 501.1,199.8 501.6,200.2 502.1,200.5 502.6,200.8 503.1,201.0 503.6,201.2 504.1,201.2 504.6,201.2 505.1,201.2 505.6,201.0 506.1,200.8 506.6,200.4 507.1,200.1 507.6,199.6 508.1,199.2 508.6,198.6 509.1,198.1 509.6,197.5 510.1,196.9 510.6,196.3 511.1,195.7 511.6,195.1 512.1,194.5 512.6,193.9 513.1,193.4 513.6,192.9 514.1,192.4 514.6,192.0 515.1,191.6 515.6,191.3 516.1,191.0 516.6,190.9 517.1,190.8 517.6,190.8 518.1,190.9 518.6,191.1 519.1,191.4 519.6,191.7 520.1,192.1 520.6,192.6 521.1,193.1 521.6,193.7 522.1,194.3 522.6,194.9 523.1,195.6 523.6,196.2 524.1,196.9 524.6,197.5 525.1,198.2 525.6,198.8 526.1,199.4 526.6,200.0 527.1,200.5 527.6,200.9 528.1,201.3 528.6,201.7 529.1,201.9 529.6,202.1 530.1,202.2 530.6,202.2 531.1,202.1 531.6,201.9 532.1,201.6 532.6,201.2 533.1,200.8 533.6,200.3 534.1,199.8 534.6,199.2 535.1,198.6 535.6,197.9 536.1,197.3 536.6,196.6 537.1,195.9 537.6,195.2 538.1,194.6 538.6,193.9 539.1,193.3 539.6,192.7 540.1,192.2 540.6,191.7 541.1,191.3 541.6,190.9 542.1,190.7 542.6,190.5 543.1,190.4 543.6,190.4 544.1,190.5 544.6,190.8 545.1,191.1 545.6,191.5 546.1,192.0 546.6,192.5 547.1,193.1 547.6,193.8 548.1,194.5 548.6,195.2 549.1,195.9 549.6,196.6 550.1,197.4 550.6,198.1 551.1,198.8 551.6,199.5 552.1,200.1 552.6,200.7 553.1,201.2 553.6,201.7 554.1,202.1 554.6,202.3 555.1,202.5 555.6,202.6 556.1,202.6 556.6,202.4 557.1,202.2 557.6,201.9 558.1,201.5 558.6,201.1 559.1,200.6 559.6,200.0 560.1,199.4 560.6,198.8 561.1,198.1 561.6,197.4 562.1,196.7 562.6,196.0 563.1,195.3 563.6,194.6 564.1,194.0 564.6,193.3 565.1,192.8 565.6,192.2 566.1,191.7 566.6,191.3 567.1,191.0 567.6,190.7 568.1,190.5 568.6,190.4 569.1,190.4 569.6,190.5 570.1,190.6 570.6,190.7 571.1,190.9 571.6,191.0 572.1,191.2 572.6,191.3 573.1,191.4 573.6,191.7 574.1,192.1 574.6,192.8 575.1,193.7 575.6,194.7 576.1,195.8 576.6,196.8 577.1,197.8 577.6,198.7 578.1,199.4 578.6,200.1 579.1,200.9 579.6,201.6 580.1,202.3 580.6,202.9 581.1,203.5 581.6,203.9 582.1,204.2 582.6,204.3 583.1,204.3 583.6,204.1 584.1,203.8 584.6,203.4 585.1,202.9 585.6,202.2 586.1,201.5 586.6,200.8 587.1,199.9 587.6,199.0 588.1,198.1 588.6,197.2 589.1,196.2 589.6,195.2 590.1,194.3 590.6,193.3 591.1,192.4 591.6,191.5 592.1,190.7 592.6,189.9 593.1,189.3 593.6,188.7 594.1,188.1 594.6,187.7 595.1,187.5 595.6,187.3 596.1,187.3 596.6,187.5 597.1,187.8 597.6,188.3 598.1,188.9 598.6,189.6 599.1,190.5 599.6,191.4 600.1,192.4 600.6,193.5 601.1,194.6 601.6,195.7 602.1,196.9 602.6,198.0 603.1,199.2 603.6,200.3 604.1,201.4 604.6,202.4 605.1,203.3 605.6,204.2 606.1,204.9 606.6,205.5 607.1,206.0 607.6,206.3 608.1,206.5 608.6,206.5 609.1,206.3 609.6,205.9 610.1,205.4 610.6,204.8 611.1,204.1 611.6,203.2 612.1,202.3 612.6,201.3 613.1,200.3 613.6,199.2 614.1,198.0 614.6,196.9 615.1,195.7 615.6,194.5 616.1,193.4 616.6,192.3 617.1,191.3 617.6,190.3 618.1,189.4 618.6,188.6 619.1,187.8 619.6,187.3 620.1,186.8 620.6,186.5 621.1,186.3 621.6,186.3 622.1,186.5 622.6,186.9 623.1,187.4 623.6,188.0 624.1,188.8 624.6,189.6 625.1,190.6 625.6,191.6 626.1,192.7 626.6,193.8 627.1,195.0 627.6,196.2 628.1,197.4 628.6,198.6 629.1,199.8 629.6,200.9 630.1,202.0 630.6,203.0 631.1,203.9 631.6,204.8 632.1,205.5 632.6,206.1 633.1,206.6 633.6,206.9 634.1,207.1 634.6,207.0 635.1,206.8 635.6,206.5 636.1,206.0 636.6,205.4 637.1,204.6 637.6,203.7 638.1,202.8 638.6,201.8 639.1,200.7 639.6,199.5 640.1,198.4 640.6,197.2 641.1,196.0 641.6,194.8 642.1,193.6 642.6,192.5 643.1,191.4 643.6,190.4 644.1,189.5 644.6,188.6 645.1,187.9 645.6,187.3 646.1,186.8 646.6,186.5 647.1,186.3 647.6,186.3 648.1,186.5 648.6,186.9 649.1,187.4 649.6,188.1 650.1,188.8 650.6,189.7 651.1,190.7 651.6,191.7 652.1,192.9 652.6,194.0 653.1,195.2 653.6,196.4 654.1,197.6 654.6,198.8 655.1,200.0 655.6,201.2 656.1,202.3 656.6,203.3 657.1,204.2 657.6,205.1 658.1,205.8 658.6,206.4 659.1,206.8 659.6,207.1 660.1,207.3 660.6,207.2 661.1,207.0 661.6,206.6 662.1,206.1 662.6,205.4 663.1,204.7 663.6,203.8 664.1,202.8 664.6,201.8 665.1,200.7 665.6,199.5 666.1,198.4 666.6,197.2 667.1,196.0 667.6,194.8 668.1,193.6 668.6,192.5 669.1,191.4 669.6,190.4 670.1,189.4 670.6,188.6 671.1,187.8 671.6,187.2 672.1,186.7 672.6,186.3 673.1,186.2 673.6,186.1 674.1,186.3 674.6,186.6 675.1,187.1 675.6,187.7 676.1,188.5 676.6,189.3" fill="none" stroke="#4cbc4c" stroke-width="1.5" stroke-linejoin="round" style="mix-blend-mode:multiply"/>
<polyline points="12.9,251.2 13.4,250.6 13.9,249.9 14.4,249.4 14.9,248.8 15.4,248.4 15.9,247.9 16.4,247.6 16.9,247.3 17.4,247.0 17.9,246.9 18.4,246.7 18.9,246.7 19.4,246.7 19.9,246.8 20.4,246.9 20.9,247.2 21.4,247.4 21.9,247.6 22.4,247.9 22.9,248.1 23.4,248.3 23.9,248.4 24.4,248.6 24.9,248.7 25.4,248.8 25.9,249.0 26.4,249.1 26.9,249.2 27.4,249.3 27.9,249.4 28.4,249.4 28.9,249.5 29.4,249.5 29.9,249.5 30.4,249.5 30.9,249.6 31.4,249.6 31.9,249.6 32.4,249.5 32.9,249.5 33.4,249.4 33.9,249.3 34.4,249.2 34.9,249.1 35.4,249.1 35.9,249.2 36.4,249.4 36.9,249.8 37.4,250.2 37.9,250.7 38.4,251.2 38.9,251.7 39.4,252.2 39.9,252.9 40.4,253.7 40.9,254.7 41.4,255.6 41.9,256.5 42.4,257.3 42.9,258.0 43.4,258.4 43.9,258.5 44.4,258.5 44.9,258.3 45.4,258.0 45.9,257.7 46.4,257.4 46.9,257.1 47.4,256.7 47.9,256.4 48.4,256.1 48.9,255.7 49.4,255.3 49.9,254.9 50.4,254.5 50.9,254.1 51.4,253.8 51.9,253.5 52.4,253.1 52.9,252.7 53.4,252.4 53.9,252.1 54.4,251.9 54.9,251.8 55.4,251.8 55.9,251.9 56.4,251.9 56.9,252.0 57.4,252.1 57.9,252.2 58.4,252.4 58.9,252.5 59.4,252.6 59.9,252.7 60.4,252.8 60.9,252.9 61.4,252.9 61.9,253.0 62.4,253.0 62.9,252.8 63.4,252.6 63.9,252.1 64.4,251.6 64.9,251.1 65.5,250.5 66.0,249.9 66.5,249.1 67.0,248.1 67.5,246.8 68.0,245.6 68.5,244.3 69.0,243.3 69.5,242.5 70.0,242.1 70.5,242.2 71.0,242.5 71.5,243.1 72.0,243.7 72.5,244.3 73.0,244.9 73.5,245.3 74.0,245.7 74.5,246.1 75.0,246.5 75.5,246.9 76.0,247.3 76.5,247.6 77.0,247.9 77.5,248.1 78.0,248.2 78.5,248.3 79.0,248.4 79.5,248.5 80.0,248.6 80.5,248.6 81.0,248.7 81.5,248.8 82.0,248.8 82.5,248.8 83.0,248.8 83.5,248.8 84.0,248.7 84.5,248.7 85.0,248.6 85.5,248.5 86.0,248.4 86.5,248.3 87.0,248.3 87.5,248.2 88.0,248.3 88.5,248.4 89.0,248.8 89.5,249.2 90.0,249.7 90.5,250.3 91.0,250.9 91.5,251.5 92.0,252.3 92.5,253.4 93.0,254.6 93.5,255.9 94.0,257.0 94.5,258.0 95.0,258.8 95.5,259.1 96.0,259.1 96.5,258.9 97.0,258.5 97.5,258.1 98.0,257.6 98.5,257.1 99.0,256.6 99.5,256.2 100.0,255.9 100.5,255.6 101.0,255.2 101.5,254.9 102.0,254.6 102.5,254.2 103.0,253.9 103.5,253.7 104.0,253.4 104.5,253.2 105.0,253.1 105.5,253.0 106.0,253.0 106.5,253.0 107.0,253.0 107.5,253.0 108.0,253.0 108.5,253.0 109.0,253.0 109.5,253.0 110.0,253.0 110.5,253.0 111.0,253.0 111.5,253.0 112.0,253.0 112.5,253.0 113.0,253.0 113.5,253.0 114.0,252.9 114.5,252.8 115.0,252.5 115.5,252.1 116.0,251.7 116.5,251.3 117.0,250.8 117.5,250.2 118.0,249.7 118.5,249.2 119.0,248.4 119.5,247.3 120.0,246.2 120.5,245.1 121.0,244.0 121.5,243.1 122.0,242.4 122.5,242.1 123.0,242.2 123.5,242.4 124.0,242.7 124.5,243.1 125.0,243.5 125.5,244.0 126.0,244.5 126.5,244.9 127.0,245.3 127.5,245.6 128.0,246.1 128.5,246.5 129.0,246.9 129.5,247.3 130.0,247.7 130.5,247.9 131.0,248.1 131.5,248.2 132.0,248.2 132.5,248.2 133.0,248.2 133.5,248.2 134.0,248.2 134.5,248.2 135.0,248.2 135.5,248.2 136.0,248.2 136.5,248.2 137.0,248.2 137.5,248.2 138.0,248.1 138.5,248.0 139.0,247.9 139.5,247.8 140.0,247.7 140.5,247.7 141.0,247.6 141.5,247.7 142.0,248.2 142.5,248.9 143.0,249.9 143.5,250.9 144.0,251.9 144.5,253.2 145.0,254.7 145.5,256.2 146.0,257.6 146.5,258.8 147.0,259.5 147.5,259.7 148.0,259.6 148.5,259.4 149.0,259.1 149.5,258.8 150.0,258.5 150.5,258.1 151.0,257.8 151.5,257.5 152.0,257.2 152.5,256.8 153.0,256.5 153.5,256.1 154.0,255.8 154.5,255.5 155.0,255.2 155.5,254.9 156.0,254.8 156.5,254.6 157.0,254.4 157.5,254.2 158.0,254.0 158.5,253.9 159.0,253.8 159.5,253.7 160.0,253.6 160.5,253.6 161.0,253.6 161.5,253.7 162.0,253.8 162.5,254.0 163.0,254.2 163.5,254.3 164.0,254.5 164.5,254.6 165.0,254.7 165.5,254.7 166.0,254.6 166.5,254.4 167.0,254.0 167.5,253.6 168.0,253.0 168.5,252.5 169.0,251.9 169.5,251.2 170.0,250.6 170.6,249.9 171.1,248.9 171.6,247.8 172.1,246.6 172.6,245.3 173.1,244.1 173.6,243.1 174.1,242.2 174.6,241.7 175.1,241.5 175.6,241.6 176.1,241.8 176.6,242.2 177.1,242.6 177.6,243.1 178.1,243.6 178.6,244.1 179.1,244.6 179.6,245.0 180.1,245.3 180.6,245.6 181.1,245.9 181.6,246.2 182.1,246.5 182.6,246.8 183.1,247.1 183.6,247.3 184.1,247.5 184.6,247.6 185.1,247.7 185.6,247.8 186.1,247.9 186.6,248.0 187.1,248.1 187.6,248.1 188.1,248.2 188.6,248.2 189.1,248.2 189.6,248.2 190.1,248.2 190.6,248.1 191.1,247.9 191.6,247.7 192.1,247.5 192.6,247.3 193.1,247.1 193.6,246.9 194.1,246.9 194.6,246.9 195.1,247.3 195.6,248.0 196.1,248.9 196.6,249.9 197.1,250.8 197.6,251.8 198.1,253.0 198.6,254.3 199.1,255.8 199.6,257.1 200.1,258.2 200.6,258.9 201.1,259.1 201.6,259.1 202.1,259.0 202.6,258.9 203.1,258.8 203.6,258.6 204.1,258.5 204.6,258.3 205.1,258.1 205.6,257.8 206.1,257.5 206.6,257.2 207.1,256.9 207.6,256.6 208.1,256.3 208.6,256.1 209.1,255.9 209.6,255.7 210.1,255.6 210.6,255.4 211.1,255.3 211.6,255.1 212.1,255.0 212.6,254.9 213.1,254.9 213.6,254.8 214.1,254.8 214.6,254.9 215.1,254.9 215.6,255.0 216.1,255.0 216.6,255.1 217.1,255.1 217.6,255.2 218.1,255.2 218.6,255.2 219.1,255.1 219.6,254.9 220.1,254.7 220.6,254.3 221.1,253.9 221.6,253.4 222.1,252.8 222.6,252.3 223.1,251.7 223.6,251.1 224.1,250.3 224.6,249.2 225.1,247.9 225.6,246.5 226.1,245.3 226.6,244.2 227.1,243.4 227.6,243.1 228.1,243.1 228.6,243.3 229.1,243.6 229.6,243.9 230.1,244.3 230.6,244.7 231.1,245.1 231.6,245.5 232.1,245.8 232.6,246.1 233.1,246.4 233.6,246.8 234.1,247.1 234.6,247.4 235.1,247.7 235.6,248.0 236.1,248.1 236.6,248.2 237.1,248.2 237.6,248.2 238.1,248.2 238.6,248.1 239.1,248.0 239.6,248.0 240.1,247.9 240.6,247.8 241.1,247.7 241.6,247.6 242.1,247.5 242.6,247.4 243.1,247.2 243.6,247.0 244.1,246.8 244.6,246.7 245.1,246.5 245.6,246.4 246.1,246.3 246.6,246.3 247.1,246.5 247.6,247.1 248.1,247.8 248.6,248.6 249.1,249.5 249.6,250.5 250.1,251.3 250.6,252.2 251.1,253.3 251.6,254.5 252.1,255.6 252.6,256.6 253.1,257.3 253.6,257.6 254.1,257.5 254.6,257.4 255.1,257.2 255.6,257.0 256.1,256.8 256.6,256.5 257.1,256.2 257.6,255.9 258.1,255.7 258.6,255.5 259.1,255.3 259.6,255.1 260.1,255.0 260.6,254.8 261.1,254.6 261.6,254.4 262.1,254.2 262.6,254.1 263.1,253.9 263.6,253.8 264.1,253.7 264.6,253.6 265.1,253.6 265.6,253.6 266.1,253.6 266.6,253.8 267.1,253.9 267.6,254.1 268.1,254.4 268.6,254.6 269.1,254.8 269.6,254.9 270.1,255.0 270.6,255.0 271.1,255.0 271.6,254.8 272.1,254.7 272.6,254.4 273.1,254.2 273.6,253.9 274.1,253.5 274.6,252.8 275.1,251.9 275.6,250.9 276.2,249.9 276.7,249.0 277.2,248.1 277.7,247.3 278.2,246.5 278.7,245.6 279.2,245.0 279.7,244.5 280.2,244.3 280.7,244.4 281.2,244.6 281.7,244.8 282.2,245.0 282.7,245.3 283.2,245.6 283.7,245.9 284.2,246.2 284.7,246.4 285.2,246.6 285.7,246.8 286.2,247.1 286.7,247.3 287.2,247.5 287.7,247.7 288.2,247.8 288.7,247.9 289.2,247.9 289.7,247.9 290.2,247.9 290.7,247.8 291.2,247.6 291.7,247.5 292.2,247.3 292.7,247.1 293.2,246.9 293.7,246.7 294.2,246.5 294.7,246.3 295.2,246.2 295.7,246.0 296.2,245.9 296.7,245.8 297.2,245.7 297.7,245.7 298.2,245.8 298.7,246.1 299.2,246.6 299.7,247.2 300.2,247.9 300.7,248.5 301.2,249.2 301.7,250.0 302.2,250.9 302.7,252.0 303.2,253.2 303.7,254.3 304.2,255.4 304.7,256.2 305.2,256.7 305.7,256.9 306.2,256.8 306.7,256.7 307.2,256.5 307.7,256.4 308.2,256.2 308.7,256.0 309.2,255.8 309.7,255.5 310.2,255.2 310.7,254.9 311.2,254.6 311.7,254.3 312.2,254.0 312.7,253.8 313.2,253.6 313.7,253.5 314.2,253.4 314.7,253.3 315.2,253.3 315.7,253.2 316.2,253.1 316.7,253.1 317.2,253.0 317.7,253.0 318.2,253.0 318.7,253.0 319.2,253.1 319.7,253.2 320.2,253.4 320.7,253.6 321.2,253.9 321.7,254.1 322.2,254.3 322.7,254.5 323.2,254.7 323.7,254.8 324.2,254.8 324.7,254.8 325.2,254.7 325.7,254.6 326.2,254.4 326.7,254.2 327.2,253.9 327.7,253.7 328.2,253.5" fill="none" stroke="#ff5252" stroke-width="1.5" stroke-linejoin="round" style="mix-blend-mode:multiply"/>
<polyline points="12.9,250.9 13.4,250.3 13.9,249.9 14.4,249.4 14.9,249.0 15.4,248.6 15.9,248.3 16.4,248.1 16.9,247.8 17.4,247.5 17.9,247.3 18.4,247.3 18.9,247.4 19.4,247.8 19.9,248.5 20.4,249.0 20.9,249.4 21.4,249.6 21.9,249.7 22.4,249.9 22.9,250.0 23.4,250.1 23.9,250.2 24.4,250.3 24.9,250.4 25.4,250.5 25.9,250.6 26.4,250.7 26.9,250.8 27.4,250.9 27.9,251.0 28.4,251.0 28.9,251.1 29.4,251.2 29.9,251.3 30.4,251.5 30.9,251.6 31.4,251.8 31.9,252.1 32.4,252.4 32.9,252.7 33.4,253.0 33.9,253.4 34.4,253.7 34.9,254.2 35.4,254.7 35.9,255.3 36.4,255.8 36.9,256.4 37.4,256.9 37.9,257.3 38.4,257.7 38.9,258.1 39.4,258.5 39.9,258.8 40.4,259.0 40.9,259.1 41.4,258.8 41.9,258.1 42.4,257.1 42.9,256.0 43.4,255.0 43.9,254.2 44.4,253.6 44.9,252.9 45.4,252.3 45.9,251.7 46.4,251.2 46.9,250.8 47.4,250.6 47.9,250.4 48.4,250.3 48.9,250.1 49.4,250.0 49.9,249.9 50.4,249.8 50.9,249.8 51.4,249.7 51.9,249.6 52.4,249.6 52.9,249.5 53.4,249.5 53.9,249.5 54.4,249.4 54.9,249.4 55.4,249.3 55.9,249.3 56.4,249.2 56.9,249.1 57.4,249.0 57.9,248.8 58.4,248.7 58.9,248.5 59.4,248.4 59.9,248.2 60.4,247.8 60.9,247.3 61.4,246.7 61.9,246.0 62.4,245.3 62.9,244.6 63.4,244.0 63.9,243.4 64.4,242.9 64.9,242.4 65.5,241.9 66.0,241.5 66.5,241.2 67.0,241.1 67.5,241.3 68.0,241.7 68.5,242.2 69.0,242.7 69.5,243.6 70.0,244.9 70.5,246.3 71.0,247.7 71.5,248.8 72.0,249.4 72.5,249.8 73.0,250.2 73.5,250.5 74.0,250.7 74.5,250.9 75.0,251.1 75.5,251.2 76.0,251.3 76.5,251.4 77.0,251.4 77.5,251.4 78.0,251.5 78.5,251.5 79.0,251.5 79.5,251.6 80.0,251.6 80.5,251.6 81.0,251.6 81.5,251.7 82.0,251.7 82.5,251.8 83.0,251.8 83.5,251.9 84.0,252.0 84.5,252.2 85.0,252.3 85.5,252.5 86.0,252.7 86.5,252.9 87.0,253.2 87.5,253.4 88.0,253.7 88.5,254.2 89.0,254.7 89.5,255.3 90.0,256.0 90.5,256.7 91.0,257.4 91.5,258.1 92.0,259.0 92.5,260.0 93.0,260.8 93.5,261.2 94.0,260.9 94.5,260.2 95.0,259.2 95.5,258.1 96.0,257.0 96.5,256.3 97.0,255.5 97.5,254.6 98.0,253.8 98.5,253.1 99.0,252.5 99.5,252.0 100.0,251.7 100.5,251.5 101.0,251.3 101.5,251.1 102.0,250.9 102.5,250.8 103.0,250.7 103.5,250.5 104.0,250.4 104.5,250.3 105.0,250.2 105.5,250.1 106.0,249.9 106.5,249.8 107.0,249.7 107.5,249.6 108.0,249.5 108.5,249.4 109.0,249.3 109.5,249.1 110.0,249.0 110.5,248.9 111.0,248.7 111.5,248.6 112.0,248.4 112.5,248.1 113.0,247.7 113.5,247.2 114.0,246.6 114.5,245.9 115.0,245.2 115.5,244.5 116.0,243.8 116.5,243.3 117.0,242.7 117.5,242.2 118.0,241.6 118.5,241.2 119.0,240.9 119.5,240.7 120.0,240.9 120.5,241.3 121.0,241.8 121.5,242.5 122.0,243.3 122.5,244.4 123.0,246.1 123.5,247.9 124.0,249.3 124.5,250.1 125.0,250.5 125.5,250.8 126.0,251.1 126.5,251.4 127.0,251.6 127.5,251.7 128.0,251.8 128.5,251.9 129.0,251.9 129.5,252.0 130.0,252.0 130.5,252.1 131.0,252.1 131.5,252.1 132.0,252.1 132.5,252.2 133.0,252.2 133.5,252.2 134.0,252.3 134.5,252.3 135.0,252.4 135.5,252.4 136.0,252.5 136.5,252.7 137.0,252.8 137.5,253.0 138.0,253.2 138.5,253.4 139.0,253.6 139.5,253.9 140.0,254.2 140.5,254.6 141.0,255.2 141.5,255.9 142.0,256.8 142.5,257.6 143.0,258.3 143.5,258.9 144.0,259.4 144.5,259.9 145.0,260.3 145.5,260.7 146.0,260.9 146.5,260.8 147.0,260.3 147.5,259.5 148.0,258.5 148.5,257.4 149.0,256.3 149.5,255.3 150.0,254.0 150.5,252.6 151.0,251.3 151.5,250.2 152.0,249.5 152.5,249.3 153.0,249.1 153.5,248.9 154.0,248.8 154.5,248.7 155.0,248.6 155.5,248.5 156.0,248.4 156.5,248.3 157.0,248.3 157.5,248.2 158.0,248.2 158.5,248.2 159.0,248.2 159.5,248.3 160.0,248.3 160.5,248.4 161.0,248.4 161.5,248.4 162.0,248.5 162.5,248.5 163.0,248.5 163.5,248.4 164.0,248.2 164.5,247.8 165.0,247.4 165.5,246.9 166.0,246.3 166.5,245.8 167.0,245.2 167.5,244.8 168.0,244.3 168.5,243.8 169.0,243.2 169.5,242.6 170.0,242.1 170.6,241.6 171.1,241.2 171.6,241.0 172.1,240.9 172.6,241.2 173.1,241.6 173.6,242.2 174.1,242.9 174.6,243.7 175.1,245.1 175.6,246.8 176.1,248.6 176.6,250.2 177.1,251.4 177.6,251.9 178.1,252.2 178.6,252.4 179.1,252.6 179.6,252.8 180.1,252.9 180.6,253.0 181.1,253.0 181.6,253.0 182.1,253.0 182.6,253.0 183.1,253.0 183.6,253.0 184.1,253.0 184.6,253.0 185.1,253.0 185.6,253.0 186.1,253.0 186.6,253.0 187.1,253.0 187.6,253.0 188.1,253.1 188.6,253.2 189.1,253.4 189.6,253.6 190.1,253.8 190.6,254.1 191.1,254.4 191.6,254.6 192.1,255.0 192.6,255.4 193.1,256.0 193.6,256.7 194.1,257.4 194.6,258.1 195.1,258.7 195.6,259.2 196.1,259.6 196.6,260.1 197.1,260.5 197.6,260.8 198.1,261.1 198.6,261.2 199.1,260.9 199.6,260.1 200.1,259.1 200.6,257.8 201.1,256.6 201.6,255.5 202.1,254.4 202.6,253.1 203.1,251.9 203.6,250.7 204.1,249.9 204.6,249.4 205.1,249.2 205.6,249.0 206.1,248.9 206.6,248.7 207.1,248.6 207.6,248.5 208.1,248.5 208.6,248.4 209.1,248.3 209.6,248.3 210.1,248.2 210.6,248.2 211.1,248.2 211.6,248.1 212.1,248.1 212.6,248.1 213.1,248.1 213.6,248.1 214.1,248.0 214.6,248.0 215.1,248.0 215.6,247.9 216.1,247.8 216.6,247.5 217.1,247.2 217.6,246.8 218.1,246.4 218.6,245.9 219.1,245.5 219.6,245.1 220.1,244.7 220.6,244.2 221.1,243.7 221.6,243.2 222.1,242.7 222.6,242.2 223.1,241.8 223.6,241.6 224.1,241.5 224.6,241.7 225.1,242.2 225.6,243.0 226.1,243.9 226.6,244.8 227.1,245.7 227.6,246.7 228.1,247.9 228.6,249.2 229.1,250.4 229.6,251.3 230.1,251.8 230.6,252.1 231.1,252.3 231.6,252.5 232.1,252.6 232.6,252.8 233.1,252.9 233.6,252.9 234.1,253.0 234.6,253.0 235.1,253.0 235.6,253.0 236.1,253.0 236.6,253.0 237.1,253.0 237.6,253.0 238.1,253.0 238.6,253.0 239.1,253.0 239.6,253.0 240.1,253.0 240.6,253.0 241.1,253.0 241.6,253.0 242.1,253.0 242.6,253.1 243.1,253.1 243.6,253.3 244.1,253.4 244.6,253.5 245.1,253.7 245.6,253.9 246.1,254.1 246.6,254.3 247.1,254.7 247.6,255.2 248.1,255.8 248.6,256.4 249.1,257.1 249.6,257.6 250.1,258.0 250.6,258.1 251.1,258.0 251.6,257.4 252.1,256.6 252.6,255.6 253.1,254.6 253.6,253.7 254.1,252.9 254.6,252.0 255.1,251.1 255.6,250.2 256.1,249.4 256.6,248.7 257.1,248.3 257.6,248.2 258.1,248.1 258.6,248.0 259.1,247.9 259.6,247.9 260.1,247.8 260.6,247.8 261.1,247.7 261.6,247.7 262.1,247.7 262.6,247.7 263.1,247.6 263.6,247.6 264.1,247.7 264.6,247.8 265.1,247.9 265.6,248.1 266.1,248.2 266.6,248.4 267.1,248.5 267.6,248.7 268.1,248.8 268.6,248.8 269.1,248.8 269.6,248.6 270.1,248.4 270.6,248.0 271.1,247.7 271.6,247.2 272.1,246.8 272.6,246.4 273.1,246.1 273.6,245.8 274.1,245.4 274.6,245.0 275.1,244.7 275.6,244.3 276.2,244.1 276.7,243.9 277.2,243.8 277.7,244.0 278.2,244.4 278.7,244.9 279.2,245.4 279.7,246.3 280.2,247.5 280.7,248.7 281.2,249.8 281.7,250.8 282.2,251.4 282.7,251.9 283.2,252.3 283.7,252.7 284.2,253.1 284.7,253.4 285.2,253.5 285.7,253.6 286.2,253.6 286.7,253.5 287.2,253.4 287.7,253.3 288.2,253.2 288.7,253.1 289.2,253.0 289.7,252.9 290.2,252.8 290.7,252.7 291.2,252.6 291.7,252.5 292.2,252.4 292.7,252.4 293.2,252.4 293.7,252.5 294.2,252.5 294.7,252.6 295.2,252.7 295.7,252.9 296.2,253.0 296.7,253.2 297.2,253.4 297.7,253.6 298.2,253.8 298.7,254.1 299.2,254.4 299.7,254.8 300.2,255.2 300.7,255.5 301.2,255.9 301.7,256.3 302.2,256.8 302.7,257.2 303.2,257.5 303.7,257.5 304.2,257.1 304.7,256.4 305.2,255.4 305.7,254.5 306.2,253.6 306.7,252.8 307.2,251.9 307.7,250.9 308.2,250.0 308.7,249.2 309.2,248.6 309.7,248.3 310.2,248.1 310.7,248.0 311.2,247.9 311.7,247.9 312.2,247.8 312.7,247.7 313.2,247.7 313.7,247.7 314.2,247.6 314.7,247.6 315.2,247.7 315.7,247.8 316.2,247.9 316.7,248.1 317.2,248.3 317.7,248.4 318.2,248.6 318.7,248.7 319.2,248.8 319.7,248.8 320.2,248.8 320.7,248.7 321.2,248.6 321.7,248.5 322.2,248.4 322.7,248.2 323.2,248.0 323.7,247.9 324.2,247.7 324.7,247.5 325.2,247.2 325.7,246.9 326.2,246.5 326.7,246.1 327.2,245.7 327.7,245.3 328.2,245.0" fill="none" stroke="#4cbc4c" stroke-width="1.5" stroke-linejoin="round" style="mix-blend-mode:multiply"/>
<polyline points="365.1,257.3 365.6,256.1 366.1,255.0 366.6,253.8 367.1,252.8 367.6,251.8 368.1,250.8 368.6,250.0 369.1,249.2 369.6,248.6 370.1,248.1 370.6,247.7 371.1,247.4 371.6,247.3 372.1,247.3 372.6,247.4 373.1,247.7 373.6,248.0 374.1,248.3 374.6,248.7 375.1,249.2 375.6,249.7 376.1,250.2 376.6,250.7 377.1,251.3 377.6,251.8 378.1,252.3 378.6,252.7 379.1,253.1 379.6,253.5 380.1,253.8 380.6,254.0 381.1,254.1 381.6,254.1 382.1,254.0 382.6,253.7 383.1,253.4 383.6,252.9 384.1,252.4 384.6,251.7 385.1,251.0 385.6,250.3 386.1,249.4 386.6,248.6 387.1,247.7 387.6,246.8 388.1,245.9 388.6,245.0 389.1,244.1 389.6,243.2 390.1,242.4 390.6,241.6 391.1,240.8 391.6,240.1 392.1,239.5 392.6,239.0 393.1,238.5 393.6,238.2 394.1,238.0 394.6,237.9 395.1,237.9 395.6,238.1 396.1,238.4 396.6,238.8 397.1,239.3 397.6,239.9 398.1,240.5 398.6,241.2 399.1,242.0 399.6,242.8 400.1,243.6 400.6,244.4 401.1,245.3 401.6,246.1 402.1,246.9 402.6,247.7 403.1,248.5 403.6,249.1 404.1,249.8 404.6,250.3 405.1,250.8 405.6,251.1 406.1,251.4 406.6,251.5 407.1,251.5 407.6,251.3 408.1,251.1 408.6,250.7 409.1,250.2 409.6,249.6 410.1,249.0 410.6,248.2 411.1,247.4 411.6,246.6 412.1,245.7 412.6,244.8 413.1,243.9 413.6,243.0 414.1,242.0 414.6,241.1 415.1,240.2 415.6,239.4 416.1,238.6 416.6,237.8 417.1,237.1 417.6,236.5 418.1,236.0 418.6,235.5 419.1,235.2 419.6,235.0 420.1,235.0 420.6,235.0 421.1,235.2 421.6,235.6 422.1,236.0 422.6,236.5 423.1,237.2 423.6,237.9 424.1,238.6 424.6,239.4 425.1,240.3 425.6,241.2 426.1,242.1 426.6,243.0 427.1,243.9 427.6,244.8 428.1,245.7 428.6,246.5 429.1,247.3 429.6,248.1 430.1,248.7 430.6,249.3 431.1,249.8 431.6,250.1 432.1,250.4 432.6,250.5 433.1,250.5 433.6,250.4 434.1,250.1 434.6,249.7 435.1,249.2 435.6,248.7 436.1,248.0 436.6,247.3 437.1,246.5 437.6,245.7 438.1,244.9 438.6,244.0 439.1,243.1 439.6,242.1 440.1,241.2 440.6,240.3 441.1,239.5 441.6,238.6 442.1,237.8 442.6,237.1 443.1,236.4 443.6,235.8 444.1,235.3 444.6,234.9 445.1,234.6 445.6,234.4 446.1,234.3 446.6,234.4 447.1,234.6 447.6,234.9 448.1,235.4 448.6,235.9 449.1,236.6 449.6,237.3 450.1,238.1 450.6,238.9 451.1,239.8 451.6,240.7 452.1,241.6 452.6,242.5 453.1,243.5 453.6,244.4 454.1,245.3 454.6,246.1 455.1,246.9 455.6,247.7 456.1,248.4 456.6,248.9 457.1,249.4 457.6,249.8 458.1,250.1 458.6,250.2 459.1,250.2 459.6,250.0 460.1,249.8 460.6,249.4 461.1,248.9 461.6,248.4 462.1,247.8 462.6,247.1 463.1,246.3 463.6,245.5 464.1,244.6 464.6,243.8 465.1,242.9 465.6,242.0 466.1,241.1 466.6,240.2 467.1,239.4 467.6,238.5 468.1,237.8 468.6,237.0 469.1,236.4 469.6,235.8 470.1,235.3 470.6,234.9 471.1,234.6 471.6,234.4 472.1,234.3 472.6,234.4 473.1,234.6 473.6,234.8 474.1,235.2 474.6,235.7 475.1,236.2 475.6,236.8 476.1,237.5 476.6,238.2 477.1,239.0 477.6,239.8 478.1,240.6 478.6,241.4 479.1,242.2 479.6,243.0 480.1,243.7 480.6,244.5 481.1,245.1 481.6,245.8 482.1,246.3 482.6,246.8 483.1,247.3 483.6,247.6 484.1,247.8 484.6,247.9 485.1,247.9 485.6,247.8 486.1,247.6 486.6,247.2 487.1,246.8 487.6,246.3 488.1,245.8 488.6,245.1 489.1,244.5 489.6,243.8 490.1,243.0 490.6,242.3 491.1,241.5 491.6,240.8 492.1,240.0 492.6,239.3 493.1,238.6 493.6,237.9 494.1,237.3 494.6,236.7 495.1,236.2 495.6,235.7 496.1,235.4 496.6,235.2 497.1,235.0 497.6,235.0 498.1,235.0 498.6,235.2 499.1,235.4 499.6,235.7 500.1,236.0 500.6,236.4 501.1,236.8 501.6,237.3 502.1,237.8 502.6,238.4 503.1,238.9 503.6,239.5 504.1,240.1 504.6,240.7 505.1,241.3 505.6,241.8 506.1,242.4 506.6,242.9 507.1,243.4 507.6,243.8 508.1,244.2 508.6,244.6 509.1,244.9 509.6,245.1 510.1,245.3 510.6,245.3 511.1,245.3 511.6,245.2 512.1,245.0 512.6,244.8 513.1,244.4 513.6,244.0 514.1,243.6 514.6,243.1 515.1,242.6 515.6,242.0 516.1,241.4 516.6,240.8 517.1,240.2 517.6,239.6 518.1,239.0 518.6,238.4 519.1,237.8 519.6,237.3 520.1,236.8 520.6,236.3 521.1,235.9 521.6,235.6 522.1,235.3 522.6,235.1 523.1,235.0 523.6,235.0 524.1,235.0 524.6,235.2 525.1,235.4 525.6,235.7 526.1,236.0 526.6,236.4 527.1,236.8 527.6,237.3 528.1,237.8 528.6,238.4 529.1,238.9 529.6,239.5 530.1,240.1 530.6,240.7 531.1,241.3 531.6,241.8 532.1,242.4 532.6,242.9 533.1,243.4 533.6,243.8 534.1,244.2 534.6,244.6 535.1,244.9 535.6,245.1 536.1,245.3 536.6,245.3 537.1,245.3 537.6,245.2 538.1,245.0 538.6,244.8 539.1,244.4 539.6,244.0 540.1,243.6 540.6,243.1 541.1,242.6 541.6,242.0 542.1,241.4 542.6,240.8 543.1,240.2 543.6,239.6 544.1,239.0 544.6,238.4 545.1,237.8 545.6,237.3 546.1,236.8 546.6,236.3 547.1,235.9 547.6,235.6 548.1,235.3 548.6,235.1 549.1,235.0 549.6,235.0 550.1,235.0 550.6,235.2 551.1,235.4 551.6,235.7 552.1,236.0 552.6,236.4 553.1,236.8 553.6,237.3 554.1,237.8 554.6,238.4 555.1,238.9 555.6,239.5 556.1,240.1 556.6,240.7 557.1,241.3 557.6,241.8 558.1,242.4 558.6,242.9 559.1,243.4 559.6,243.8 560.1,244.2 560.6,244.6 561.1,244.9 561.6,245.1 562.1,245.3 562.6,245.3 563.1,245.3 563.6,245.2 564.1,244.9 564.6,244.6 565.1,244.2 565.6,243.7 566.1,243.1 566.6,242.5 567.1,241.9 567.6,241.3 568.1,240.6 568.6,239.9 569.1,239.3 569.6,238.7 570.1,238.1 570.6,237.6 571.1,237.2 571.6,236.8 572.1,236.5 572.6,236.3 573.1,236.3 573.6,236.3 574.1,236.4 574.6,236.5 575.1,236.8 575.6,237.0 576.1,237.3 576.6,237.6 577.1,238.0 577.6,238.4 578.1,238.8 578.6,239.2 579.1,239.7 579.6,240.1 580.1,240.6 580.6,241.0 581.1,241.5 581.6,241.9 582.1,242.3 582.6,242.7 583.1,243.1 583.6,243.4 584.1,243.7 584.6,243.9 585.1,244.1 585.6,244.3 586.1,244.3 586.6,244.4 587.1,244.3 587.6,244.3 588.1,244.3 588.6,244.2 589.1,244.1 589.6,244.0 590.1,243.9 590.6,243.7 591.1,243.6 591.6,243.4 592.1,243.3 592.6,243.1 593.1,243.0 593.6,242.8 594.1,242.7 594.6,242.5 595.1,242.4 595.6,242.3 596.1,242.1 596.6,242.0 597.1,241.9 597.6,241.9 598.1,241.8 598.6,241.8 599.1,241.8 599.6,241.8 600.1,241.8 600.6,241.8 601.1,241.9 601.6,241.9 602.1,242.0 602.6,242.1 603.1,242.1 603.6,242.2 604.1,242.3 604.6,242.4 605.1,242.5 605.6,242.6 606.1,242.7 606.6,242.8 607.1,242.9 607.6,243.0 608.1,243.1 608.6,243.2 609.1,243.3 609.6,243.4 610.1,243.4 610.6,243.5 611.1,243.6 611.6,243.6 612.1,243.7 612.6,243.7 613.1,243.7 613.6,243.7 614.1,243.7 614.6,243.7 615.1,243.7 615.6,243.7 616.1,243.7 616.6,243.7 617.1,243.7 617.6,243.6 618.1,243.6 618.6,243.6 619.1,243.6 619.6,243.6 620.1,243.5 620.6,243.5 621.1,243.5 621.6,243.5 622.1,243.5 622.6,243.4 623.1,243.4 623.6,243.4 624.1,243.4 624.6,243.4 625.1,243.3 625.6,243.3 626.1,243.3 626.6,243.3 627.1,243.3 627.6,243.3 628.1,243.3 628.6,243.2 629.1,243.2 629.6,243.2 630.1,243.2 630.6,243.2 631.1,243.2 631.6,243.2 632.1,243.2 632.6,243.2 633.1,243.2 633.6,243.2 634.1,243.2 634.6,243.2 635.1,243.2 635.6,243.2 636.1,243.2 636.6,243.2 637.1,243.2 637.6,243.2 638.1,243.2 638.6,243.2 639.1,243.2 639.6,243.2 640.1,243.2 640.6,243.2 641.1,243.2 641.6,243.2 642.1,243.2 642.6,243.2 643.1,243.2 643.6,243.2 644.1,243.2 644.6,243.2 645.1,243.2 645.6,243.2 646.1,243.2 646.6,243.2 647.1,243.2 647.6,243.2 648.1,243.2 648.6,243.2 649.1,243.2 649.6,243.2 650.1,243.2 650.6,243.2 651.1,243.2 651.6,243.2 652.1,243.2 652.6,243.2 653.1,243.2 653.6,243.2 654.1,243.3 654.6,243.3 655.1,243.3 655.6,243.3 656.1,243.3 656.6,243.3 657.1,243.3 657.6,243.3 658.1,243.3 658.6,243.3 659.1,243.3 659.6,243.3 660.1,243.3 660.6,243.3 661.1,243.3 661.6,243.3 662.1,243.3 662.6,243.3 663.1,243.3 663.6,243.3 664.1,243.3 664.6,243.3 665.1,243.3 665.6,243.3 666.1,243.3 666.6,243.3 667.1,243.3 667.6,243.3 668.1,243.3 668.6,243.3 669.1,243.3 669.6,243.3 670.1,243.3 670.6,243.3 671.1,243.3 671.6,243.3 672.1,243.3 672.6,243.3 673.1,243.3 673.6,243.3 674.1,243.3 674.6,243.3 675.1,243.4 675.6,243.4 676.1,243.4 676.6,243.4" fill="none" stroke="#ff5252" stroke-width="1.5" stroke-linejoin="round" style="mix-blend-mode:multiply"/>
<polyline points="365.1,257.3 365.6,257.6 366.1,257.8 366.6,258.0 367.1,258.2 367.6,258.4 368.1,258.6 368.6,258.7 369.1,258.9 369.6,259.1 370.1,259.2 370.6,259.3 371.1,259.4 371.6,259.6 372.1,259.6 372.6,259.7 373.1,259.8 373.6,259.8 374.1,259.9 374.6,259.9 375.1,259.9 375.6,259.9 376.1,259.9 376.6,259.8 377.1,259.8 377.6,259.7 378.1,259.5 378.6,259.4 379.1,259.3 379.6,259.1 380.1,258.9 380.6,258.7 381.1,258.6 381.6,258.4 382.1,258.2 382.6,258.0 383.1,257.8 383.6,257.6 384.1,257.4 384.6,257.2 385.1,257.0 385.6,256.8 386.1,256.7 386.6,256.5 387.1,256.4 387.6,256.3 388.1,256.2 388.6,256.1 389.1,256.1 389.6,256.0 390.1,256.0 390.6,256.1 391.1,256.1 391.6,256.1 392.1,256.2 392.6,256.2 393.1,256.3 393.6,256.3 394.1,256.4 394.6,256.5 395.1,256.6 395.6,256.6 396.1,256.7 396.6,256.8 397.1,256.9 397.6,256.9 398.1,257.0 398.6,257.1 399.1,257.1 399.6,257.2 400.1,257.2 400.6,257.3 401.1,257.3 401.6,257.3 402.1,257.3 402.6,257.3 403.1,257.3 403.6,257.3 404.1,257.3 404.6,257.3 405.1,257.3 405.6,257.3 406.1,257.3 406.6,257.3 407.1,257.3 407.6,257.3 408.1,257.2 408.6,257.2 409.1,257.2 409.6,257.2 410.1,257.2 410.6,257.2 411.1,257.2 411.6,257.2 412.1,257.1 412.6,257.1 413.1,257.1 413.6,257.1 414.1,257.1 414.6,257.1 415.1,257.1 415.6,257.1 416.1,257.0 416.6,257.0 417.1,257.0 417.6,257.0 418.1,257.0 418.6,257.0 419.1,257.0 419.6,257.0 420.1,257.0 420.6,257.0 421.1,257.0 421.6,257.0 422.1,257.0 422.6,257.0 423.1,257.0 423.6,257.0 424.1,257.0 424.6,257.0 425.1,257.0 425.6,257.0 426.1,257.0 426.6,257.0 427.1,257.1 427.6,257.1 428.1,257.1 428.6,257.1 429.1,257.1 429.6,257.1 430.1,257.1 430.6,257.1 431.1,257.1 431.6,257.1 432.1,257.1 432.6,257.1 433.1,257.1 433.6,257.1 434.1,257.2 434.6,257.2 435.1,257.2 435.6,257.2 436.1,257.2 436.6,257.2 437.1,257.2 437.6,257.2 438.1,257.2 438.6,257.2 439.1,257.2 439.6,257.2 440.1,257.3 440.6,257.3 441.1,257.3 441.6,257.3 442.1,257.3 442.6,257.3 443.1,257.3 443.6,257.3 444.1,257.3 444.6,257.3 445.1,257.3 445.6,257.3 446.1,257.3 446.6,257.3 447.1,257.3 447.6,257.3 448.1,257.3 448.6,257.3 449.1,257.3 449.6,257.3 450.1,257.3 450.6,257.3 451.1,257.3 451.6,257.3 452.1,257.3 452.6,257.3 453.1,257.3 453.6,257.3 454.1,257.3 454.6,257.3 455.1,257.3 455.6,257.3 456.1,257.3 456.6,257.3 457.1,257.3 457.6,257.3 458.1,257.3 458.6,257.3 459.1,257.3 459.6,257.3 460.1,257.3 460.6,257.3 461.1,257.3 461.6,257.3 462.1,257.3 462.6,257.3 463.1,257.3 463.6,257.3 464.1,257.3 464.6,257.3 465.1,257.3 465.6,257.3 466.1,257.3 466.6,257.3 467.1,257.3 467.6,257.3 468.1,257.3 468.6,257.3 469.1,257.3 469.6,257.3 470.1,257.3 470.6,257.3 471.1,257.3 471.6,257.3 472.1,257.3 472.6,257.3 473.1,257.2 473.6,257.1 474.1,256.9 474.6,256.7 475.1,256.5 475.6,256.3 476.1,256.0 476.6,255.8 477.1,255.6 477.6,255.4 478.1,255.3 478.6,255.1 479.1,255.1 479.6,255.1 480.1,255.1 480.6,255.2 481.1,255.3 481.6,255.5 482.1,255.7 482.6,255.9 483.1,256.2 483.6,256.4 484.1,256.7 484.6,257.0 485.1,257.3 485.6,257.6 486.1,257.9 486.6,258.2 487.1,258.5 487.6,258.7 488.1,259.0 488.6,259.2 489.1,259.4 489.6,259.6 490.1,259.7 490.6,259.8 491.1,259.9 491.6,259.9 492.1,259.9 492.6,259.8 493.1,259.6 493.6,259.4 494.1,259.1 494.6,258.8 495.1,258.5 495.6,258.1 496.1,257.7 496.6,257.3 497.1,256.9 497.6,256.4 498.1,256.0 498.6,255.5 499.1,255.1 499.6,254.7 500.1,254.3 500.6,253.9 501.1,253.6 501.6,253.3 502.1,253.0 502.6,252.8 503.1,252.6 503.6,252.5 504.1,252.5 504.6,252.5 505.1,252.6 505.6,252.8 506.1,253.0 506.6,253.4 507.1,253.7 507.6,254.2 508.1,254.6 508.6,255.1 509.1,255.6 509.6,256.2 510.1,256.7 510.6,257.3 511.1,257.8 511.6,258.4 512.1,258.9 512.6,259.4 513.1,259.9 513.6,260.4 514.1,260.8 514.6,261.1 515.1,261.4 515.6,261.6 516.1,261.8 516.6,261.9 517.1,261.9 517.6,261.8 518.1,261.6 518.6,261.4 519.1,261.1 519.6,260.7 520.1,260.3 520.6,259.9 521.1,259.4 521.6,258.9 522.1,258.4 522.6,257.9 523.1,257.3 523.6,256.7 524.1,256.2 524.6,255.6 525.1,255.1 525.6,254.6 526.1,254.1 526.6,253.6 527.1,253.2 527.6,252.8 528.1,252.5 528.6,252.2 529.1,252.0 529.6,251.9 530.1,251.8 530.6,251.9 531.1,252.0 531.6,252.2 532.1,252.4 532.6,252.8 533.1,253.2 533.6,253.7 534.1,254.2 534.6,254.7 535.1,255.3 535.6,255.9 536.1,256.5 536.6,257.1 537.1,257.7 537.6,258.3 538.1,258.9 538.6,259.4 539.1,260.0 539.6,260.5 540.1,260.9 540.6,261.3 541.1,261.6 541.6,261.9 542.1,262.1 542.6,262.2 543.1,262.2 543.6,262.1 544.1,262.0 544.6,261.7 545.1,261.4 545.6,261.1 546.1,260.7 546.6,260.2 547.1,259.7 547.6,259.2 548.1,258.7 548.6,258.1 549.1,257.5 549.6,257.0 550.1,256.4 550.6,255.8 551.1,255.2 551.6,254.7 552.1,254.2 552.6,253.7 553.1,253.3 553.6,252.9 554.1,252.5 554.6,252.2 555.1,252.0 555.6,251.9 556.1,251.8 556.6,251.9 557.1,252.0 557.6,252.2 558.1,252.4 558.6,252.8 559.1,253.2 559.6,253.7 560.1,254.2 560.6,254.7 561.1,255.3 561.6,255.9 562.1,256.5 562.6,257.1 563.1,257.7 563.6,258.3 564.1,258.9 564.6,259.4 565.1,260.0 565.6,260.5 566.1,260.9 566.6,261.3 567.1,261.6 567.6,261.9 568.1,262.1 568.6,262.2 569.1,262.2 569.6,262.1 570.1,261.9 570.6,261.7 571.1,261.4 571.6,261.0 572.1,260.5 572.6,260.0 573.1,259.5 573.6,258.9 574.1,258.3 574.6,257.7 575.1,257.0 575.6,256.4 576.1,255.7 576.6,255.0 577.1,254.4 577.6,253.8 578.1,253.2 578.6,252.6 579.1,252.0 579.6,251.5 580.1,251.1 580.6,250.7 581.1,250.4 581.6,250.1 582.1,250.0 582.6,249.9 583.1,249.9 583.6,250.0 584.1,250.3 584.6,250.7 585.1,251.1 585.6,251.7 586.1,252.3 586.6,253.0 587.1,253.8 587.6,254.6 588.1,255.4 588.6,256.2 589.1,257.1 589.6,257.9 590.1,258.8 590.6,259.6 591.1,260.4 591.6,261.2 592.1,261.9 592.6,262.5 593.1,263.1 593.6,263.6 594.1,264.0 594.6,264.3 595.1,264.4 595.6,264.5 596.1,264.4 596.6,264.1 597.1,263.8 597.6,263.3 598.1,262.7 598.6,262.1 599.1,261.4 599.6,260.6 600.1,259.7 600.6,258.8 601.1,257.9 601.6,257.0 602.1,256.1 602.6,255.1 603.1,254.2 603.6,253.3 604.1,252.5 604.6,251.7 605.1,251.0 605.6,250.3 606.1,249.7 606.6,249.3 607.1,248.9 607.6,248.7 608.1,248.6 608.6,248.6 609.1,248.8 609.6,249.1 610.1,249.5 610.6,250.1 611.1,250.7 611.6,251.4 612.1,252.1 612.6,253.0 613.1,253.9 613.6,254.8 614.1,255.7 614.6,256.7 615.1,257.7 615.6,258.6 616.1,259.6 616.6,260.5 617.1,261.4 617.6,262.2 618.1,263.0 618.6,263.7 619.1,264.3 619.6,264.8 620.1,265.2 620.6,265.5 621.1,265.7 621.6,265.8 622.1,265.6 622.6,265.4 623.1,265.0 623.6,264.5 624.1,263.9 624.6,263.1 625.1,262.3 625.6,261.5 626.1,260.5 626.6,259.6 627.1,258.6 627.6,257.5 628.1,256.5 628.6,255.5 629.1,254.5 629.6,253.5 630.1,252.6 630.6,251.7 631.1,250.9 631.6,250.2 632.1,249.5 632.6,249.0 633.1,248.6 633.6,248.4 634.1,248.3 634.6,248.3 635.1,248.5 635.6,248.8 636.1,249.3 636.6,249.8 637.1,250.5 637.6,251.2 638.1,252.0 638.6,252.9 639.1,253.8 639.6,254.8 640.1,255.8 640.6,256.8 641.1,257.8 641.6,258.8 642.1,259.8 642.6,260.7 643.1,261.6 643.6,262.5 644.1,263.3 644.6,264.0 645.1,264.7 645.6,265.2 646.1,265.6 646.6,265.9 647.1,266.1 647.6,266.1 648.1,265.9 648.6,265.6 649.1,265.2 649.6,264.7 650.1,264.0 650.6,263.3 651.1,262.4 651.6,261.5 652.1,260.6 652.6,259.6 653.1,258.5 653.6,257.5 654.1,256.4 654.6,255.4 655.1,254.4 655.6,253.4 656.1,252.4 656.6,251.6 657.1,250.8 657.6,250.1 658.1,249.4 658.6,248.9 659.1,248.6 659.6,248.3 660.1,248.3 660.6,248.3 661.1,248.5 661.6,248.8 662.1,249.3 662.6,249.8 663.1,250.4 663.6,251.1 664.1,251.9 664.6,252.7 665.1,253.6 665.6,254.5 666.1,255.4 666.6,256.4 667.1,257.4 667.6,258.3 668.1,259.3 668.6,260.2 669.1,261.1 669.6,262.0 670.1,262.8 670.6,263.5 671.1,264.2 671.6,264.8 672.1,265.3 672.6,265.6 673.1,265.9 673.6,266.1 674.1,266.1 674.6,265.9 675.1,265.7 675.6,265.2 676.1,264.7 676.6,264.1" fill="none" stroke="#4cbc4c" stroke-width="1.5" stroke-linejoin="round" style="mix-blend-mode:multiply"/>
<polyline points="12.9,311.8 13.4,312.1 13.9,312.3 14.4,312.3 14.9,312.3 15.4,312.1 15.9,311.8 16.4,311.4 16.9,310.9 17.4,310.4 17.9,309.8 18.4,309.1 18.9,308.5 19.4,307.8 19.9,307.1 20.4,306.5 20.9,306.0 21.4,305.5 21.9,305.0 22.4,304.7 22.9,304.5 23.4,304.4 23.9,304.5 24.4,304.7 24.9,304.9 25.4,305.3 25.9,305.8 26.4,306.3 26.9,306.9 27.4,307.5 27.9,308.2 28.4,308.9 28.9,309.6 29.4,310.4 29.9,311.2 30.4,311.9 30.9,312.7 31.4,313.4 31.9,314.1 32.4,314.8 32.9,315.4 33.4,316.0 33.9,316.5 34.4,316.9 34.9,317.2 35.4,317.5 35.9,317.6 36.4,317.7 36.9,317.6 37.4,317.4 37.9,317.1 38.4,316.7 38.9,316.3 39.4,315.8 39.9,315.2 40.4,314.5 40.9,313.9 41.4,313.2 41.9,312.4 42.4,311.7 42.9,311.0 43.4,310.2 43.9,309.5 44.4,308.8 44.9,308.1 45.4,307.5 45.9,306.9 46.4,306.4 46.9,306.0 47.4,305.6 47.9,305.3 48.4,305.2 48.9,305.1 49.4,305.1 49.9,305.3 50.4,305.6 50.9,305.9 51.4,306.4 51.9,306.9 52.4,307.6 52.9,308.2 53.4,308.9 53.9,309.7 54.4,310.5 54.9,311.3 55.4,312.1 55.9,312.9 56.4,313.8 56.9,314.6 57.4,315.3 57.9,316.1 58.4,316.7 58.9,317.4 59.4,317.9 59.9,318.4 60.4,318.8 60.9,319.1 61.4,319.3 61.9,319.4 62.4,319.3 62.9,319.1 63.4,318.8 63.9,318.4 64.4,317.9 64.9,317.4 65.5,316.7 66.0,316.0 66.5,315.2 67.0,314.4 67.5,313.6 68.0,312.7 68.5,311.9 69.0,311.0 69.5,310.1 70.0,309.3 70.5,308.4 71.0,307.7 71.5,307.0 72.0,306.3 72.5,305.7 73.0,305.2 73.5,304.8 74.0,304.5 74.5,304.3 75.0,304.2 75.5,304.2 76.0,304.4 76.5,304.7 77.0,305.2 77.5,305.7 78.0,306.3 78.5,307.0 79.0,307.7 79.5,308.5 80.0,309.3 80.5,310.2 81.0,311.1 81.5,312.0 82.0,312.9 82.5,313.8 83.0,314.7 83.5,315.5 84.0,316.3 84.5,317.0 85.0,317.7 85.5,318.3 86.0,318.8 86.5,319.1 87.0,319.4 87.5,319.6 88.0,319.6 88.5,319.5 89.0,319.3 89.5,318.9 90.0,318.5 90.5,318.0 91.0,317.3 91.5,316.7 92.0,315.9 92.5,315.1 93.0,314.3 93.5,313.4 94.0,312.5 94.5,311.7 95.0,310.8 95.5,309.9 96.0,309.0 96.5,308.2 97.0,307.4 97.5,306.7 98.0,306.0 98.5,305.4 99.0,304.9 99.5,304.4 100.0,304.1 100.5,303.9 101.0,303.8 101.5,303.8 102.0,304.0 102.5,304.3 103.0,304.6 103.5,305.1 104.0,305.6 104.5,306.3 105.0,307.0 105.5,307.7 106.0,308.5 106.5,309.3 107.0,310.2 107.5,311.0 108.0,311.9 108.5,312.8 109.0,313.7 109.5,314.5 110.0,315.3 110.5,316.1 111.0,316.8 111.5,317.5 112.0,318.1 112.5,318.6 113.0,319.1 113.5,319.4 114.0,319.6 114.5,319.7 115.0,319.7 115.5,319.6 116.0,319.3 116.5,318.9 117.0,318.4 117.5,317.8 118.0,317.2 118.5,316.4 119.0,315.6 119.5,314.8 120.0,313.9 120.5,313.1 121.0,312.2 121.5,311.3 122.0,310.4 122.5,309.5 123.0,308.7 123.5,308.0 124.0,307.3 124.5,306.6 125.0,306.1 125.5,305.6 126.0,305.3 126.5,305.1 127.0,305.0 127.5,305.0 128.0,305.1 128.5,305.4 129.0,305.7 129.5,306.1 130.0,306.6 130.5,307.2 131.0,307.8 131.5,308.5 132.0,309.2 132.5,309.9 133.0,310.6 133.5,311.4 134.0,312.1 134.5,312.9 135.0,313.6 135.5,314.3 136.0,315.0 136.5,315.6 137.0,316.2 137.5,316.7 138.0,317.2 138.5,317.5 139.0,317.8 139.5,318.0 140.0,318.1 140.5,318.0 141.0,317.9 141.5,317.7 142.0,317.3 142.5,316.9 143.0,316.5 143.5,316.0 144.0,315.4 144.5,314.8 145.0,314.2 145.5,313.5 146.0,312.9 146.5,312.2 147.0,311.5 147.5,310.8 148.0,310.2 148.5,309.6 149.0,309.0 149.5,308.5 150.0,308.1 150.5,307.7 151.0,307.3 151.5,307.1 152.0,307.0 152.5,306.9 153.0,306.9 153.5,307.1 154.0,307.2 154.5,307.5 155.0,307.8 155.5,308.1 156.0,308.5 156.5,309.0 157.0,309.4 157.5,309.9 158.0,310.4 158.5,311.0 159.0,311.5 159.5,312.0 160.0,312.6 160.5,313.1 161.0,313.6 161.5,314.1 162.0,314.6 162.5,315.0 163.0,315.4 163.5,315.8 164.0,316.1 164.5,316.4 165.0,316.6 165.5,316.7 166.0,316.8 166.5,316.7 167.0,316.7 167.5,316.5 168.0,316.3 168.5,316.0 169.0,315.6 169.5,315.3 170.0,314.8 170.6,314.4 171.1,313.9 171.6,313.4 172.1,312.9 172.6,312.3 173.1,311.8 173.6,311.2 174.1,310.7 174.6,310.2 175.1,309.7 175.6,309.2 176.1,308.7 176.6,308.3 177.1,307.9 177.6,307.6 178.1,307.4 178.6,307.1 179.1,307.0 179.6,306.9 180.1,306.9 180.6,307.0 181.1,307.2 181.6,307.4 182.1,307.7 182.6,308.1 183.1,308.5 183.6,309.0 184.1,309.5 184.6,310.0 185.1,310.6 185.6,311.2 186.1,311.7 186.6,312.3 187.1,312.9 187.6,313.5 188.1,314.1 188.6,314.6 189.1,315.1 189.6,315.6 190.1,316.0 190.6,316.3 191.1,316.7 191.6,316.9 192.1,317.1 192.6,317.1 193.1,317.1 193.6,317.0 194.1,316.9 194.6,316.6 195.1,316.3 195.6,315.9 196.1,315.5 196.6,315.1 197.1,314.6 197.6,314.0 198.1,313.5 198.6,312.9 199.1,312.3 199.6,311.7 200.1,311.1 200.6,310.5 201.1,310.0 201.6,309.4 202.1,308.9 202.6,308.5 203.1,308.1 203.6,307.7 204.1,307.4 204.6,307.2 205.1,307.0 205.6,306.9 206.1,306.9 206.6,307.0 207.1,307.2 207.6,307.4 208.1,307.7 208.6,308.0 209.1,308.4 209.6,308.8 210.1,309.3 210.6,309.8 211.1,310.3 211.6,310.9 212.1,311.5 212.6,312.0 213.1,312.6 213.6,313.1 214.1,313.7 214.6,314.2 215.1,314.7 215.6,315.2 216.1,315.6 216.6,316.0 217.1,316.4 217.6,316.7 218.1,316.9 218.6,317.0 219.1,317.1 219.6,317.1 220.1,317.1 220.6,316.9 221.1,316.7 221.6,316.4 222.1,316.0 222.6,315.6 223.1,315.2 223.6,314.7 224.1,314.2 224.6,313.7 225.1,313.2 225.6,312.6 226.1,312.1 226.6,311.6 227.1,311.2 227.6,310.7 228.1,310.4 228.6,310.0 229.1,309.7 229.6,309.5 230.1,309.4 230.6,309.4 231.1,309.4 231.6,309.4 232.1,309.5 232.6,309.7 233.1,309.8 233.6,310.0 234.1,310.2 234.6,310.4 235.1,310.6 235.6,310.9 236.1,311.1 236.6,311.4 237.1,311.6 237.6,311.9 238.1,312.1 238.6,312.3 239.1,312.6 239.6,312.8 240.1,313.0 240.6,313.1 241.1,313.3 241.6,313.4 242.1,313.5 242.6,313.5 243.1,313.5 243.6,313.5 244.1,313.5 244.6,313.4 245.1,313.3 245.6,313.3 246.1,313.2 246.6,313.1 247.1,312.9 247.6,312.8 248.1,312.7 248.6,312.5 249.1,312.4 249.6,312.2 250.1,312.1 250.6,312.0 251.1,311.8 251.6,311.7 252.1,311.5 252.6,311.4 253.1,311.3 253.6,311.1 254.1,311.0 254.6,310.9 255.1,310.8 255.6,310.8 256.1,310.7 256.6,310.7 257.1,310.7 257.6,310.7 258.1,310.7 258.6,310.7 259.1,310.7 259.6,310.8 260.1,310.8 260.6,310.9 261.1,310.9 261.6,311.0 262.1,311.0 262.6,311.1 263.1,311.2 263.6,311.2 264.1,311.3 264.6,311.4 265.1,311.5 265.6,311.5 266.1,311.6 266.6,311.6 267.1,311.7 267.6,311.7 268.1,311.8 268.6,311.8 269.1,311.8 269.6,311.8 270.1,311.8 270.6,311.8 271.1,311.8 271.6,311.8 272.1,311.8 272.6,311.8 273.1,311.8 273.6,311.8 274.1,311.8 274.6,311.8 275.1,311.8 275.6,311.8 276.2,311.7 276.7,311.7 277.2,311.7 277.7,311.7 278.2,311.7 278.7,311.7 279.2,311.7 279.7,311.6 280.2,311.6 280.7,311.6 281.2,311.6 281.7,311.6 282.2,311.6 282.7,311.6 283.2,311.6 283.7,311.6 284.2,311.6 284.7,311.6 285.2,311.6 285.7,311.6 286.2,311.6 286.7,311.6 287.2,311.6 287.7,311.6 288.2,311.6 288.7,311.6 289.2,311.6 289.7,311.6 290.2,311.6 290.7,311.7 291.2,311.7 291.7,311.7 292.2,311.7 292.7,311.7 293.2,311.7 293.7,311.7 294.2,311.7 294.7,311.8 295.2,311.8 295.7,311.8 296.2,311.8 296.7,311.8 297.2,311.8 297.7,311.8 298.2,311.8 298.7,311.8 299.2,311.8 299.7,311.8 300.2,311.8 300.7,311.8 301.2,311.8 301.7,311.8 302.2,311.8 302.7,311.8 303.2,311.8 303.7,311.8 304.2,311.8 304.7,311.8 305.2,311.8 305.7,311.8 306.2,311.8 306.7,311.8 307.2,311.8 307.7,311.8 308.2,311.8 308.7,311.8 309.2,311.8 309.7,311.8 310.2,311.8 310.7,311.8 311.2,311.8 311.7,311.8 312.2,311.8 312.7,311.8 313.2,311.8 313.7,311.8 314.2,311.8 314.7,311.8 315.2,311.8 315.7,311.8 316.2,311.8 316.7,311.8 317.2,311.8 317.7,311.8 318.2,311.8 318.7,311.8 319.2,311.8 319.7,311.8 320.2,311.8 320.7,311.8 321.2,311.8 321.7,311.8 322.2,311.8 322.7,311.8 323.2,311.8 323.7,311.8 324.2,311.8 324.7,311.8 325.2,311.8 325.7,311.8 326.2,311.8 326.7,311.8 327.2,311.8 327.7,311.8 328.2,311.8" fill="none" stroke="#ff5252" stroke-width="1.5" stroke-linejoin="round" style="mix-blend-mode:multiply"/>
<polyline points="12.9,311.8 13.4,310.7 13.9,309.7 14.4,308.8 14.9,308.2 15.4,307.7 15.9,307.3 16.4,307.0 16.9,306.7 17.4,306.4 17.9,306.2 18.4,306.1 18.9,306.0 19.4,305.8 19.9,305.7 20.4,305.7 20.9,305.6 21.4,305.5 21.9,305.4 22.4,305.4 22.9,305.4 23.4,305.4 23.9,305.4 24.4,305.4 24.9,305.4 25.4,305.4 25.9,305.4 26.4,305.4 26.9,305.4 27.4,305.4 27.9,305.4 28.4,305.4 28.9,305.4 29.4,305.4 29.9,305.3 30.4,305.3 30.9,305.2 31.4,305.1 31.9,304.9 32.4,304.7 32.9,304.5 33.4,304.3 33.9,304.1 34.4,303.9 34.9,303.8 35.4,303.6 35.9,303.4 36.4,303.2 36.9,303.0 37.4,302.9 37.9,302.7 38.4,302.5 38.9,302.3 39.4,302.1 39.9,302.0 40.4,301.8 40.9,301.6 41.4,301.5 41.9,301.4 42.4,301.3 42.9,301.2 43.4,301.1 43.9,301.0 44.4,300.9 44.9,300.8 45.4,300.7 45.9,300.7 46.4,300.6 46.9,300.6 47.4,300.5 47.9,300.5 48.4,300.5 48.9,300.5 49.4,300.4 49.9,300.4 50.4,300.4 50.9,300.4 51.4,300.4 51.9,300.4 52.4,300.3 52.9,300.3 53.4,300.3 53.9,300.3 54.4,300.3 54.9,300.3 55.4,300.3 55.9,300.3 56.4,300.3 56.9,300.2 57.4,300.2 57.9,300.2 58.4,300.2 58.9,300.2 59.4,300.2 59.9,300.1 60.4,300.1 60.9,300.1 61.4,300.1 61.9,300.1 62.4,300.0 62.9,300.0 63.4,300.0 63.9,300.0 64.4,299.9 64.9,299.9 65.5,299.9 66.0,299.9 66.5,299.8 67.0,299.8 67.5,299.8 68.0,299.8 68.5,299.7 69.0,299.7 69.5,299.7 70.0,299.7 70.5,299.7 71.0,299.7 71.5,299.7 72.0,299.6 72.5,299.6 73.0,299.6 73.5,299.6 74.0,299.6 74.5,299.6 75.0,299.6 75.5,299.6 76.0,299.6 76.5,299.6 77.0,299.6 77.5,299.6 78.0,299.6 78.5,299.6 79.0,299.6 79.5,299.6 80.0,299.6 80.5,299.6 81.0,299.6 81.5,299.5 82.0,299.5 82.5,299.5 83.0,299.5 83.5,299.5 84.0,299.5 84.5,299.5 85.0,299.5 85.5,299.5 86.0,299.5 86.5,299.5 87.0,299.5 87.5,299.5 88.0,299.5 88.5,299.5 89.0,299.5 89.5,299.5 90.0,299.5 90.5,299.5 91.0,299.5 91.5,299.5 92.0,299.5 92.5,299.5 93.0,299.5 93.5,299.5 94.0,299.5 94.5,299.5 95.0,299.5 95.5,299.5 96.0,299.5 96.5,299.5 97.0,299.5 97.5,299.5 98.0,299.5 98.5,299.5 99.0,299.5 99.5,299.5 100.0,299.5 100.5,299.5 101.0,299.5 101.5,299.5 102.0,299.5 102.5,299.5 103.0,299.5 103.5,299.5 104.0,299.5 104.5,299.5 105.0,299.5 105.5,299.5 106.0,299.5 106.5,299.5 107.0,299.5 107.5,299.5 108.0,299.5 108.5,299.5 109.0,299.5 109.5,299.5 110.0,299.5 110.5,299.5 111.0,299.5 111.5,299.5 112.0,299.5 112.5,299.5 113.0,299.5 113.5,299.5 114.0,299.5 114.5,299.5 115.0,299.5 115.5,299.5 116.0,299.5 116.5,299.5 117.0,299.5 117.5,299.5 118.0,299.5 118.5,299.5 119.0,299.5 119.5,299.5 120.0,299.5 120.5,299.5 121.0,299.5 121.5,299.5 122.0,299.5 122.5,299.5 123.0,299.5 123.5,299.5 124.0,299.5 124.5,299.4 125.0,299.3 125.5,299.1 126.0,298.9 126.5,298.7 127.0,298.4 127.5,298.1 128.0,297.9 128.5,297.6 129.0,297.3 129.5,297.0 130.0,296.7 130.5,296.4 131.0,296.1 131.5,295.9 132.0,295.7 132.5,295.5 133.0,295.3 133.5,295.2 134.0,295.1 134.5,295.1 135.0,295.1 135.5,295.2 136.0,295.3 136.5,295.5 137.0,295.7 137.5,295.9 138.0,296.2 138.5,296.5 139.0,296.8 139.5,297.1 140.0,297.4 140.5,297.7 141.0,298.0 141.5,298.3 142.0,298.7 142.5,298.9 143.0,299.2 143.5,299.5 144.0,299.7 144.5,299.9 145.0,300.0 145.5,300.1 146.0,300.2 146.5,300.2 147.0,300.1 147.5,300.0 148.0,299.8 148.5,299.5 149.0,299.3 149.5,298.9 150.0,298.6 150.5,298.2 151.0,297.7 151.5,297.3 152.0,296.8 152.5,296.4 153.0,295.9 153.5,295.4 154.0,294.9 154.5,294.5 155.0,294.0 155.5,293.6 156.0,293.2 156.5,292.8 157.0,292.5 157.5,292.2 158.0,291.9 158.5,291.7 159.0,291.6 159.5,291.5 160.0,291.5 160.5,291.5 161.0,291.7 161.5,291.9 162.0,292.1 162.5,292.4 163.0,292.7 163.5,293.1 164.0,293.5 164.5,294.0 165.0,294.4 165.5,294.9 166.0,295.4 166.5,295.9 167.0,296.4 167.5,296.9 168.0,297.4 168.5,297.8 169.0,298.3 169.5,298.7 170.0,299.0 170.6,299.4 171.1,299.6 171.6,299.9 172.1,300.0 172.6,300.1 173.1,300.2 173.6,300.1 174.1,300.0 174.6,299.8 175.1,299.5 175.6,299.2 176.1,298.8 176.6,298.4 177.1,297.9 177.6,297.4 178.1,296.9 178.6,296.4 179.1,295.8 179.6,295.2 180.1,294.7 180.6,294.1 181.1,293.6 181.6,293.1 182.1,292.6 182.6,292.1 183.1,291.7 183.6,291.3 184.1,291.0 184.6,290.8 185.1,290.6 185.6,290.5 186.1,290.4 186.6,290.5 187.1,290.6 187.6,290.8 188.1,291.0 188.6,291.3 189.1,291.7 189.6,292.1 190.1,292.5 190.6,293.0 191.1,293.5 191.6,294.0 192.1,294.5 192.6,295.1 193.1,295.6 193.6,296.1 194.1,296.6 194.6,297.2 195.1,297.6 195.6,298.1 196.1,298.5 196.6,298.9 197.1,299.3 197.6,299.6 198.1,299.8 198.6,300.0 199.1,300.1 199.6,300.2 200.1,300.1 200.6,300.0 201.1,299.8 201.6,299.6 202.1,299.2 202.6,298.9 203.1,298.4 203.6,298.0 204.1,297.5 204.6,297.0 205.1,296.4 205.6,295.9 206.1,295.3 206.6,294.8 207.1,294.2 207.6,293.7 208.1,293.1 208.6,292.6 209.1,292.2 209.6,291.8 210.1,291.4 210.6,291.1 211.1,290.8 211.6,290.6 212.1,290.5 212.6,290.4 213.1,290.5 213.6,290.6 214.1,290.8 214.6,291.1 215.1,291.4 215.6,291.8 216.1,292.2 216.6,292.7 217.1,293.2 217.6,293.7 218.1,294.3 218.6,294.9 219.1,295.5 219.6,296.1 220.1,296.7 220.6,297.2 221.1,297.8 221.6,298.4 222.1,298.9 222.6,299.4 223.1,299.8 223.6,300.2 224.1,300.6 224.6,300.9 225.1,301.1 225.6,301.2 226.1,301.3 226.6,301.3 227.1,301.2 227.6,301.0 228.1,300.7 228.6,300.3 229.1,299.9 229.6,299.4 230.1,298.8 230.6,298.2 231.1,297.6 231.6,296.9 232.1,296.3 232.6,295.6 233.1,294.9 233.6,294.2 234.1,293.5 234.6,292.8 235.1,292.2 235.6,291.6 236.1,291.1 236.6,290.6 237.1,290.2 237.6,289.8 238.1,289.6 238.6,289.4 239.1,289.3 239.6,289.3 240.1,289.4 240.6,289.7 241.1,290.0 241.6,290.5 242.1,291.0 242.6,291.6 243.1,292.3 243.6,293.0 244.1,293.7 244.6,294.5 245.1,295.3 245.6,296.2 246.1,297.0 246.6,297.8 247.1,298.6 247.6,299.4 248.1,300.2 248.6,300.9 249.1,301.5 249.6,302.1 250.1,302.6 250.6,303.0 251.1,303.3 251.6,303.6 252.1,303.7 252.6,303.6 253.1,303.5 253.6,303.2 254.1,302.8 254.6,302.4 255.1,301.8 255.6,301.2 256.1,300.5 256.6,299.7 257.1,298.9 257.6,298.1 258.1,297.2 258.6,296.3 259.1,295.4 259.6,294.5 260.1,293.7 260.6,292.9 261.1,292.1 261.6,291.3 262.1,290.6 262.6,290.0 263.1,289.5 263.6,289.0 264.1,288.7 264.6,288.5 265.1,288.4 265.6,288.4 266.1,288.6 266.6,288.8 267.1,289.2 267.6,289.7 268.1,290.3 268.6,291.0 269.1,291.7 269.6,292.6 270.1,293.4 270.6,294.3 271.1,295.2 271.6,296.1 272.1,297.0 272.6,298.0 273.1,298.9 273.6,299.7 274.1,300.6 274.6,301.4 275.1,302.1 275.6,302.7 276.2,303.3 276.7,303.7 277.2,304.1 277.7,304.3 278.2,304.4 278.7,304.4 279.2,304.2 279.7,303.9 280.2,303.5 280.7,303.0 281.2,302.4 281.7,301.7 282.2,301.0 282.7,300.2 283.2,299.3 283.7,298.4 284.2,297.5 284.7,296.5 285.2,295.6 285.7,294.7 286.2,293.7 286.7,292.9 287.2,292.0 287.7,291.2 288.2,290.5 288.7,289.8 289.2,289.3 289.7,288.8 290.2,288.5 290.7,288.2 291.2,288.1 291.7,288.1 292.2,288.3 292.7,288.6 293.2,288.9 293.7,289.4 294.2,290.0 294.7,290.6 295.2,291.3 295.7,292.1 296.2,292.9 296.7,293.7 297.2,294.6 297.7,295.5 298.2,296.4 298.7,297.3 299.2,298.2 299.7,299.1 300.2,299.9 300.7,300.7 301.2,301.4 301.7,302.1 302.2,302.7 302.7,303.3 303.2,303.7 303.7,304.1 304.2,304.3 304.7,304.4 305.2,304.4 305.7,304.3 306.2,304.0 306.7,303.6 307.2,303.1 307.7,302.5 308.2,301.8 308.7,301.1 309.2,300.3 309.7,299.4 310.2,298.5 310.7,297.6 311.2,296.7 311.7,295.7 312.2,294.8 312.7,293.9 313.2,293.0 313.7,292.1 314.2,291.3 314.7,290.6 315.2,289.9 315.7,289.4 316.2,288.9 316.7,288.5 317.2,288.2 317.7,288.1 318.2,288.1 318.7,288.3 319.2,288.6 319.7,289.0 320.2,289.4 320.7,290.0 321.2,290.7 321.7,291.5 322.2,292.3 322.7,293.1 323.2,294.0 323.7,295.0 324.2,295.9 324.7,296.8 325.2,297.8 325.7,298.7 326.2,299.6 326.7,300.4 327.2,301.2 327.7,302.0 328.2,302.6" fill="none" stroke="#4cbc4c" stroke-width="1.5" stroke-linejoin="round" style="mix-blend-mode:multiply"/>
<polyline points="365.1,311.8 365.6,312.1 366.1,312.3 366.6,312.4 367.1,312.3 367.6,312.1 368.1,311.8 368.6,311.4 369.1,310.9 369.6,310.3 370.1,309.7 370.6,309.0 371.1,308.4 371.6,307.7 372.1,307.0 372.6,306.4 373.1,305.9 373.6,305.4 374.1,305.0 374.6,304.7 375.1,304.5 375.6,304.4 376.1,304.5 376.6,304.7 377.1,305.0 377.6,305.4 378.1,305.9 378.6,306.4 379.1,307.0 379.6,307.7 380.1,308.4 380.6,309.1 381.1,309.9 381.6,310.7 382.1,311.5 382.6,312.2 383.1,313.0 383.6,313.7 384.1,314.4 384.6,315.1 385.1,315.7 385.6,316.2 386.1,316.7 386.6,317.1 387.1,317.4 387.6,317.6 388.1,317.7 388.6,317.6 389.1,317.5 389.6,317.2 390.1,316.9 390.6,316.5 391.1,316.0 391.6,315.4 392.1,314.8 392.6,314.1 393.1,313.4 393.6,312.7 394.1,312.0 394.6,311.2 395.1,310.5 395.6,309.7 396.1,309.0 396.6,308.3 397.1,307.7 397.6,307.1 398.1,306.6 398.6,306.1 399.1,305.7 399.6,305.4 400.1,305.2 400.6,305.1 401.1,305.1 401.6,305.3 402.1,305.5 402.6,305.9 403.1,306.3 403.6,306.9 404.1,307.5 404.6,308.1 405.1,308.9 405.6,309.6 406.1,310.4 406.6,311.2 407.1,312.1 407.6,312.9 408.1,313.7 408.6,314.5 409.1,315.3 409.6,316.1 410.1,316.7 410.6,317.4 411.1,317.9 411.6,318.4 412.1,318.8 412.6,319.1 413.1,319.3 413.6,319.4 414.1,319.3 414.6,319.1 415.1,318.8 415.6,318.4 416.1,317.9 416.6,317.3 417.1,316.6 417.6,315.9 418.1,315.1 418.6,314.3 419.1,313.4 419.6,312.5 420.1,311.6 420.6,310.8 421.1,309.9 421.6,309.0 422.1,308.2 422.6,307.5 423.1,306.7 423.6,306.1 424.1,305.5 424.6,305.0 425.1,304.7 425.6,304.4 426.1,304.2 426.6,304.2 427.1,304.3 427.6,304.5 428.1,304.9 428.6,305.4 429.1,305.9 429.6,306.6 430.1,307.3 430.6,308.1 431.1,308.9 431.6,309.8 432.1,310.7 432.6,311.6 433.1,312.5 433.6,313.4 434.1,314.3 434.6,315.1 435.1,316.0 435.6,316.7 436.1,317.4 436.6,318.0 437.1,318.6 437.6,319.0 438.1,319.3 438.6,319.5 439.1,319.6 439.6,319.5 440.1,319.4 440.6,319.0 441.1,318.6 441.6,318.1 442.1,317.5 442.6,316.8 443.1,316.1 443.6,315.3 444.1,314.5 444.6,313.6 445.1,312.7 445.6,311.8 446.1,310.9 446.6,310.0 447.1,309.2 447.6,308.3 448.1,307.5 448.6,306.8 449.1,306.1 449.6,305.4 450.1,304.9 450.6,304.5 451.1,304.1 451.6,303.9 452.1,303.8 452.6,303.8 453.1,304.0 453.6,304.3 454.1,304.6 454.6,305.1 455.1,305.7 455.6,306.3 456.1,307.0 456.6,307.7 457.1,308.5 457.6,309.4 458.1,310.3 458.6,311.1 459.1,312.0 459.6,312.9 460.1,313.8 460.6,314.6 461.1,315.5 461.6,316.2 462.1,317.0 462.6,317.6 463.1,318.2 463.6,318.7 464.1,319.1 464.6,319.5 465.1,319.7 465.6,319.7 466.1,319.7 466.6,319.5 467.1,319.2 467.6,318.8 468.1,318.2 468.6,317.6 469.1,316.9 469.6,316.2 470.1,315.3 470.6,314.5 471.1,313.6 471.6,312.7 472.1,311.8 472.6,310.9 473.1,310.0 473.6,309.2 474.1,308.4 474.6,307.6 475.1,307.0 475.6,306.4 476.1,305.8 476.6,305.4 477.1,305.2 477.6,305.0 478.1,305.0 478.6,305.1 479.1,305.3 479.6,305.6 480.1,306.0 480.6,306.4 481.1,307.0 481.6,307.6 482.1,308.2 482.6,308.9 483.1,309.6 483.6,310.4 484.1,311.1 484.6,311.9 485.1,312.7 485.6,313.4 486.1,314.1 486.6,314.8 487.1,315.5 487.6,316.1 488.1,316.6 488.6,317.1 489.1,317.5 489.6,317.8 490.1,318.0 490.6,318.1 491.1,318.0 491.6,317.9 492.1,317.7 492.6,317.4 493.1,317.0 493.6,316.5 494.1,316.0 494.6,315.5 495.1,314.9 495.6,314.2 496.1,313.6 496.6,312.9 497.1,312.2 497.6,311.5 498.1,310.9 498.6,310.2 499.1,309.6 499.6,309.0 500.1,308.5 500.6,308.0 501.1,307.6 501.6,307.3 502.1,307.1 502.6,306.9 503.1,306.9 503.6,307.0 504.1,307.1 504.6,307.3 505.1,307.5 505.6,307.8 506.1,308.2 506.6,308.6 507.1,309.1 507.6,309.5 508.1,310.0 508.6,310.6 509.1,311.1 509.6,311.6 510.1,312.2 510.6,312.7 511.1,313.3 511.6,313.8 512.1,314.3 512.6,314.7 513.1,315.2 513.6,315.6 514.1,315.9 514.6,316.2 515.1,316.4 515.6,316.6 516.1,316.7 516.6,316.8 517.1,316.7 517.6,316.6 518.1,316.4 518.6,316.1 519.1,315.8 519.6,315.5 520.1,315.1 520.6,314.6 521.1,314.1 521.6,313.6 522.1,313.1 522.6,312.6 523.1,312.0 523.6,311.5 524.1,310.9 524.6,310.4 525.1,309.9 525.6,309.4 526.1,308.9 526.6,308.5 527.1,308.1 527.6,307.7 528.1,307.4 528.6,307.2 529.1,307.0 529.6,306.9 530.1,306.9 530.6,307.0 531.1,307.1 531.6,307.3 532.1,307.6 532.6,308.0 533.1,308.4 533.6,308.9 534.1,309.4 534.6,309.9 535.1,310.5 535.6,311.1 536.1,311.7 536.6,312.3 537.1,312.8 537.6,313.4 538.1,314.0 538.6,314.5 539.1,315.1 539.6,315.5 540.1,316.0 540.6,316.3 541.1,316.6 541.6,316.9 542.1,317.1 542.6,317.1 543.1,317.1 543.6,317.0 544.1,316.9 544.6,316.6 545.1,316.3 545.6,315.9 546.1,315.5 546.6,315.0 547.1,314.5 547.6,314.0 548.1,313.4 548.6,312.8 549.1,312.2 549.6,311.6 550.1,311.0 550.6,310.4 551.1,309.9 551.6,309.3 552.1,308.8 552.6,308.4 553.1,308.0 553.6,307.6 554.1,307.3 554.6,307.1 555.1,307.0 555.6,306.9 556.1,306.9 556.6,307.0 557.1,307.2 557.6,307.5 558.1,307.8 558.6,308.2 559.1,308.6 559.6,309.0 560.1,309.5 560.6,310.0 561.1,310.6 561.6,311.1 562.1,311.7 562.6,312.3 563.1,312.8 563.6,313.4 564.1,313.9 564.6,314.5 565.1,315.0 565.6,315.4 566.1,315.8 566.6,316.2 567.1,316.5 567.6,316.8 568.1,317.0 568.6,317.1 569.1,317.1 569.6,317.1 570.1,317.0 570.6,316.8 571.1,316.5 571.6,316.1 572.1,315.8 572.6,315.3 573.1,314.8 573.6,314.3 574.1,313.8 574.6,313.3 575.1,312.8 575.6,312.3 576.1,311.8 576.6,311.3 577.1,310.8 577.6,310.4 578.1,310.1 578.6,309.8 579.1,309.6 579.6,309.4 580.1,309.4 580.6,309.4 581.1,309.4 581.6,309.5 582.1,309.6 582.6,309.8 583.1,310.0 583.6,310.2 584.1,310.4 584.6,310.6 585.1,310.8 585.6,311.1 586.1,311.3 586.6,311.6 587.1,311.8 587.6,312.1 588.1,312.3 588.6,312.6 589.1,312.8 589.6,313.0 590.1,313.1 590.6,313.3 591.1,313.4 591.6,313.5 592.1,313.5 592.6,313.5 593.1,313.5 593.6,313.5 594.1,313.4 594.6,313.3 595.1,313.3 595.6,313.2 596.1,313.0 596.6,312.9 597.1,312.8 597.6,312.7 598.1,312.5 598.6,312.4 599.1,312.2 599.6,312.1 600.1,311.9 600.6,311.8 601.1,311.6 601.6,311.5 602.1,311.3 602.6,311.2 603.1,311.1 603.6,311.0 604.1,310.9 604.6,310.8 605.1,310.8 605.6,310.7 606.1,310.7 606.6,310.7 607.1,310.7 607.6,310.7 608.1,310.7 608.6,310.7 609.1,310.8 609.6,310.8 610.1,310.9 610.6,311.0 611.1,311.0 611.6,311.1 612.1,311.1 612.6,311.2 613.1,311.3 613.6,311.4 614.1,311.4 614.6,311.5 615.1,311.6 615.6,311.6 616.1,311.7 616.6,311.7 617.1,311.8 617.6,311.8 618.1,311.8 618.6,311.8 619.1,311.8 619.6,311.8 620.1,311.8 620.6,311.8 621.1,311.8 621.6,311.8 622.1,311.8 622.6,311.8 623.1,311.8 623.6,311.8 624.1,311.8 624.6,311.8 625.1,311.7 625.6,311.7 626.1,311.7 626.6,311.7 627.1,311.7 627.6,311.7 628.1,311.7 628.6,311.7 629.1,311.6 629.6,311.6 630.1,311.6 630.6,311.6 631.1,311.6 631.6,311.6 632.1,311.6 632.6,311.6 633.1,311.6 633.6,311.6 634.1,311.6 634.6,311.6 635.1,311.6 635.6,311.6 636.1,311.6 636.6,311.6 637.1,311.6 637.6,311.6 638.1,311.6 638.6,311.6 639.1,311.6 639.6,311.7 640.1,311.7 640.6,311.7 641.1,311.7 641.6,311.7 642.1,311.7 642.6,311.7 643.1,311.7 643.6,311.8 644.1,311.8 644.6,311.8 645.1,311.8 645.6,311.8 646.1,311.8 646.6,311.8 647.1,311.8 647.6,311.8 648.1,311.8 648.6,311.8 649.1,311.8 649.6,311.8 650.1,311.8 650.6,311.8 651.1,311.8 651.6,311.8 652.1,311.8 652.6,311.8 653.1,311.8 653.6,311.8 654.1,311.8 654.6,311.8 655.1,311.8 655.6,311.8 656.1,311.8 656.6,311.8 657.1,311.8 657.6,311.8 658.1,311.8 658.6,311.8 659.1,311.8 659.6,311.8 660.1,311.8 660.6,311.8 661.1,311.8 661.6,311.8 662.1,311.8 662.6,311.8 663.1,311.8 663.6,311.8 664.1,311.8 664.6,311.8 665.1,311.8 665.6,311.8 666.1,311.8 666.6,311.8 667.1,311.8 667.6,311.8 668.1,311.8 668.6,311.8 669.1,311.8 669.6,311.8 670.1,311.8 670.6,311.8 671.1,311.8 671.6,311.8 672.1,311.8 672.6,311.8 673.1,311.8 673.6,311.8 674.1,311.8 674.6,311.8 675.1,311.8 675.6,311.8 676.1,311.8 676.6,311.8" fill="none" stroke="#ff5252" stroke-width="1.5" stroke-linejoin="round" style="mix-blend-mode:multiply"/>
<polyline points="365.1,311.8 365.6,310.7 366.1,309.7 366.6,308.8 367.1,308.1 367.6,307.7 368.1,307.3 368.6,307.0 369.1,306.7 369.6,306.4 370.1,306.2 370.6,306.1 371.1,305.9 371.6,305.8 372.1,305.7 372.6,305.6 373.1,305.6 373.6,305.5 374.1,305.4 374.6,305.4 375.1,305.4 375.6,305.4 376.1,305.4 376.6,305.4 377.1,305.4 377.6,305.4 378.1,305.4 378.6,305.4 379.1,305.4 379.6,305.4 380.1,305.4 380.6,305.4 381.1,305.4 381.6,305.4 382.1,305.3 382.6,305.3 383.1,305.2 383.6,305.0 384.1,304.8 384.6,304.6 385.1,304.4 385.6,304.2 386.1,304.0 386.6,303.8 387.1,303.7 387.6,303.5 388.1,303.3 388.6,303.1 389.1,302.9 389.6,302.8 390.1,302.6 390.6,302.4 391.1,302.2 391.6,302.0 392.1,301.9 392.6,301.7 393.1,301.6 393.6,301.4 394.1,301.3 394.6,301.2 395.1,301.1 395.6,301.0 396.1,300.9 396.6,300.8 397.1,300.8 397.6,300.7 398.1,300.6 398.6,300.6 399.1,300.5 399.6,300.5 400.1,300.5 400.6,300.5 401.1,300.4 401.6,300.4 402.1,300.4 402.6,300.4 403.1,300.4 403.6,300.4 404.1,300.3 404.6,300.3 405.1,300.3 405.6,300.3 406.1,300.3 406.6,300.3 407.1,300.3 407.6,300.3 408.1,300.3 408.6,300.2 409.1,300.2 409.6,300.2 410.1,300.2 410.6,300.2 411.1,300.2 411.6,300.1 412.1,300.1 412.6,300.1 413.1,300.1 413.6,300.1 414.1,300.0 414.6,300.0 415.1,300.0 415.6,300.0 416.1,299.9 416.6,299.9 417.1,299.9 417.6,299.9 418.1,299.8 418.6,299.8 419.1,299.8 419.6,299.8 420.1,299.7 420.6,299.7 421.1,299.7 421.6,299.7 422.1,299.7 422.6,299.7 423.1,299.6 423.6,299.6 424.1,299.6 424.6,299.6 425.1,299.6 425.6,299.6 426.1,299.6 426.6,299.6 427.1,299.6 427.6,299.6 428.1,299.6 428.6,299.6 429.1,299.6 429.6,299.6 430.1,299.6 430.6,299.6 431.1,299.6 431.6,299.6 432.1,299.6 432.6,299.5 433.1,299.5 433.6,299.5 434.1,299.5 434.6,299.5 435.1,299.5 435.6,299.5 436.1,299.5 436.6,299.5 437.1,299.5 437.6,299.5 438.1,299.5 438.6,299.5 439.1,299.5 439.6,299.5 440.1,299.5 440.6,299.5 441.1,299.5 441.6,299.5 442.1,299.5 442.6,299.5 443.1,299.5 443.6,299.5 444.1,299.5 444.6,299.5 445.1,299.5 445.6,299.5 446.1,299.5 446.6,299.5 447.1,299.5 447.6,299.5 448.1,299.5 448.6,299.5 449.1,299.5 449.6,299.5 450.1,299.5 450.6,299.5 451.1,299.5 451.6,299.5 452.1,299.5 452.6,299.5 453.1,299.5 453.6,299.5 454.1,299.5 454.6,299.5 455.1,299.5 455.6,299.5 456.1,299.5 456.6,299.5 457.1,299.5 457.6,299.5 458.1,299.5 458.6,299.5 459.1,299.5 459.6,299.5 460.1,299.5 460.6,299.5 461.1,299.5 461.6,299.5 462.1,299.5 462.6,299.5 463.1,299.5 463.6,299.5 464.1,299.5 464.6,299.5 465.1,299.5 465.6,299.5 466.1,299.5 466.6,299.5 467.1,299.5 467.6,299.5 468.1,299.5 468.6,299.5 469.1,299.5 469.6,299.5 470.1,299.5 470.6,299.5 471.1,299.5 471.6,299.5 472.1,299.5 472.6,299.5 473.1,299.5 473.6,299.5 474.1,299.5 474.6,299.5 475.1,299.4 475.6,299.3 476.1,299.2 476.6,299.0 477.1,298.8 477.6,298.5 478.1,298.3 478.6,298.0 479.1,297.7 479.6,297.4 480.1,297.1 480.6,296.8 481.1,296.5 481.6,296.2 482.1,296.0 482.6,295.7 483.1,295.5 483.6,295.4 484.1,295.2 484.6,295.1 485.1,295.1 485.6,295.1 486.1,295.2 486.6,295.3 487.1,295.5 487.6,295.6 488.1,295.9 488.6,296.1 489.1,296.4 489.6,296.7 490.1,297.0 490.6,297.3 491.1,297.7 491.6,298.0 492.1,298.3 492.6,298.6 493.1,298.9 493.6,299.2 494.1,299.4 494.6,299.7 495.1,299.8 495.6,300.0 496.1,300.1 496.6,300.2 497.1,300.2 497.6,300.1 498.1,300.0 498.6,299.8 499.1,299.5 499.6,299.2 500.1,298.9 500.6,298.5 501.1,298.1 501.6,297.7 502.1,297.3 502.6,296.8 503.1,296.3 503.6,295.8 504.1,295.3 504.6,294.9 505.1,294.4 505.6,293.9 506.1,293.5 506.6,293.1 507.1,292.7 507.6,292.4 508.1,292.1 508.6,291.9 509.1,291.7 509.6,291.5 510.1,291.5 510.6,291.5 511.1,291.6 511.6,291.7 512.1,291.9 512.6,292.2 513.1,292.5 513.6,292.9 514.1,293.3 514.6,293.7 515.1,294.1 515.6,294.6 516.1,295.1 516.6,295.6 517.1,296.1 517.6,296.6 518.1,297.1 518.6,297.6 519.1,298.0 519.6,298.5 520.1,298.9 520.6,299.2 521.1,299.5 521.6,299.8 522.1,300.0 522.6,300.1 523.1,300.2 523.6,300.1 524.1,300.0 524.6,299.9 525.1,299.6 525.6,299.3 526.1,299.0 526.6,298.5 527.1,298.1 527.6,297.6 528.1,297.1 528.6,296.5 529.1,296.0 529.6,295.4 530.1,294.8 530.6,294.3 531.1,293.7 531.6,293.2 532.1,292.7 532.6,292.2 533.1,291.8 533.6,291.4 534.1,291.1 534.6,290.8 535.1,290.6 535.6,290.5 536.1,290.4 536.6,290.5 537.1,290.6 537.6,290.8 538.1,291.0 538.6,291.3 539.1,291.7 539.6,292.1 540.1,292.5 540.6,293.0 541.1,293.5 541.6,294.0 542.1,294.5 542.6,295.0 543.1,295.6 543.6,296.1 544.1,296.7 544.6,297.2 545.1,297.7 545.6,298.1 546.1,298.6 546.6,299.0 547.1,299.3 547.6,299.6 548.1,299.8 548.6,300.0 549.1,300.1 549.6,300.2 550.1,300.1 550.6,300.0 551.1,299.8 551.6,299.5 552.1,299.2 552.6,298.8 553.1,298.3 553.6,297.9 554.1,297.4 554.6,296.8 555.1,296.3 555.6,295.7 556.1,295.2 556.6,294.6 557.1,294.0 557.6,293.5 558.1,293.0 558.6,292.5 559.1,292.0 559.6,291.6 560.1,291.3 560.6,291.0 561.1,290.7 561.6,290.5 562.1,290.5 562.6,290.4 563.1,290.5 563.6,290.7 564.1,290.9 564.6,291.2 565.1,291.6 565.6,292.0 566.1,292.4 566.6,292.9 567.1,293.5 567.6,294.0 568.1,294.6 568.6,295.2 569.1,295.8 569.6,296.4 570.1,297.0 570.6,297.6 571.1,298.2 571.6,298.7 572.1,299.2 572.6,299.7 573.1,300.1 573.6,300.5 574.1,300.8 574.6,301.0 575.1,301.2 575.6,301.3 576.1,301.3 576.6,301.2 577.1,301.0 577.6,300.8 578.1,300.4 578.6,300.0 579.1,299.5 579.6,298.9 580.1,298.3 580.6,297.7 581.1,297.0 581.6,296.4 582.1,295.7 582.6,294.9 583.1,294.2 583.6,293.6 584.1,292.9 584.6,292.3 585.1,291.7 585.6,291.1 586.1,290.6 586.6,290.2 587.1,289.8 587.6,289.6 588.1,289.4 588.6,289.3 589.1,289.3 589.6,289.4 590.1,289.7 590.6,290.1 591.1,290.5 591.6,291.1 592.1,291.7 592.6,292.3 593.1,293.1 593.6,293.8 594.1,294.6 594.6,295.5 595.1,296.3 595.6,297.2 596.1,298.0 596.6,298.8 597.1,299.6 597.6,300.3 598.1,301.0 598.6,301.7 599.1,302.2 599.6,302.7 600.1,303.1 600.6,303.4 601.1,303.6 601.6,303.7 602.1,303.6 602.6,303.4 603.1,303.1 603.6,302.7 604.1,302.2 604.6,301.6 605.1,300.9 605.6,300.2 606.1,299.4 606.6,298.5 607.1,297.7 607.6,296.8 608.1,295.9 608.6,295.0 609.1,294.1 609.6,293.3 610.1,292.5 610.6,291.7 611.1,291.0 611.6,290.3 612.1,289.7 612.6,289.2 613.1,288.8 613.6,288.6 614.1,288.4 614.6,288.4 615.1,288.5 615.6,288.7 616.1,289.1 616.6,289.6 617.1,290.1 617.6,290.8 618.1,291.5 618.6,292.3 619.1,293.1 619.6,294.0 620.1,294.9 620.6,295.9 621.1,296.8 621.6,297.7 622.1,298.7 622.6,299.6 623.1,300.4 623.6,301.2 624.1,301.9 624.6,302.6 625.1,303.2 625.6,303.7 626.1,304.0 626.6,304.3 627.1,304.4 627.6,304.4 628.1,304.3 628.6,304.0 629.1,303.6 629.6,303.1 630.1,302.5 630.6,301.8 631.1,301.0 631.6,300.2 632.1,299.3 632.6,298.4 633.1,297.5 633.6,296.5 634.1,295.6 634.6,294.6 635.1,293.7 635.6,292.8 636.1,291.9 636.6,291.2 637.1,290.4 637.6,289.8 638.1,289.2 638.6,288.8 639.1,288.4 639.6,288.2 640.1,288.1 640.6,288.2 641.1,288.3 641.6,288.6 642.1,289.0 642.6,289.5 643.1,290.1 643.6,290.8 644.1,291.5 644.6,292.3 645.1,293.1 645.6,294.0 646.1,294.9 646.6,295.8 647.1,296.7 647.6,297.6 648.1,298.5 648.6,299.4 649.1,300.2 649.6,301.0 650.1,301.7 650.6,302.4 651.1,303.0 651.6,303.5 652.1,303.9 652.6,304.2 653.1,304.4 653.6,304.4 654.1,304.4 654.6,304.2 655.1,303.8 655.6,303.4 656.1,302.8 656.6,302.2 657.1,301.4 657.6,300.6 658.1,299.8 658.6,298.9 659.1,298.0 659.6,297.0 660.1,296.1 660.6,295.1 661.1,294.2 661.6,293.3 662.1,292.4 662.6,291.6 663.1,290.8 663.6,290.1 664.1,289.5 664.6,289.0 665.1,288.6 665.6,288.3 666.1,288.1 666.6,288.1 667.1,288.2 667.6,288.5 668.1,288.9 668.6,289.4 669.1,289.9 669.6,290.6 670.1,291.4 670.6,292.2 671.1,293.0 671.6,293.9 672.1,294.9 672.6,295.8 673.1,296.8 673.6,297.7 674.1,298.6 674.6,299.5 675.1,300.4 675.6,301.2 676.1,302.0 676.6,302.6" fill="none" stroke="#4cbc4c" stroke-width="1.5" stroke-linejoin="round" style="mix-blend-mode:multiply"/></g>
<text transform="translate(161.69,8.40) scale(1.081,1)" font-family="Liberation Serif" font-style="normal" font-weight="normal" font-size="10.74" fill="#222" stroke="#222" stroke-width="0.10">(a)</text>
<text transform="translate(511.97,10.49) scale(1.026,1)" font-family="Liberation Serif" font-style="normal" font-weight="normal" font-size="11.72" fill="#222" stroke="#222" stroke-width="0.10">(b)</text>
<text transform="translate(98.63,22.32) scale(1.197,1)" font-family="Liberation Serif" font-style="italic" font-weight="normal" font-size="14.66" fill="#222" stroke="#222" stroke-width="0.18">u</text>
<text transform="translate(107.15,24.83) scale(1.116,1)" font-family="Liberation Serif" font-style="italic" font-weight="normal" font-size="9.67" fill="#333" stroke="#333" stroke-width="0.15">gα</text>
<text transform="translate(149.18,22.13) scale(1.148,1)" font-family="Liberation Serif" font-style="italic" font-weight="normal" font-size="14.25" fill="#222" stroke="#222" stroke-width="0.18">u</text>
<text transform="translate(157.75,24.92) scale(1.031,1)" font-family="Liberation Serif" font-style="italic" font-weight="normal" font-size="10.67" fill="#333" stroke="#333" stroke-width="0.15">gβ</text>
<text transform="translate(451.03,22.32) scale(1.197,1)" font-family="Liberation Serif" font-style="italic" font-weight="normal" font-size="14.66" fill="#222" stroke="#222" stroke-width="0.18">u</text>
<text transform="translate(459.55,24.83) scale(1.116,1)" font-family="Liberation Serif" font-style="italic" font-weight="normal" font-size="9.67" fill="#333" stroke="#333" stroke-width="0.15">gα</text>
<text transform="translate(498.48,22.13) scale(1.148,1)" font-family="Liberation Serif" font-style="italic" font-weight="normal" font-size="14.25" fill="#222" stroke="#222" stroke-width="0.18">u</text>
<text transform="translate(507.05,24.92) scale(1.031,1)" font-family="Liberation Serif" font-style="italic" font-weight="normal" font-size="10.67" fill="#333" stroke="#333" stroke-width="0.15">gβ</text>
<text transform="translate(103.30,73.15) scale(1.144,1)" font-family="Liberation Serif" font-style="italic" font-weight="normal" font-size="15.93" fill="#222" stroke="#222" stroke-width="0.18">i</text>
<text transform="translate(108.91,75.28) scale(0.921,1)" font-family="Liberation Serif" font-style="italic" font-weight="normal" font-size="10.87" fill="#333" stroke="#333" stroke-width="0.15">Lα</text>
<text transform="translate(153.24,79.65) scale(1.092,1)" font-family="Liberation Serif" font-style="italic" font-weight="normal" font-size="15.78" fill="#222" stroke="#222" stroke-width="0.18">i</text>
<text transform="translate(158.62,81.86) scale(1.018,1)" font-family="Liberation Serif" font-style="italic" font-weight="normal" font-size="10.45" fill="#333" stroke="#333" stroke-width="0.15">Lβ</text>
<text transform="translate(453.30,73.15) scale(1.144,1)" font-family="Liberation Serif" font-style="italic" font-weight="normal" font-size="15.93" fill="#222" stroke="#222" stroke-width="0.18">i</text>
<text transform="translate(458.91,75.28) scale(0.921,1)" font-family="Liberation Serif" font-style="italic" font-weight="normal" font-size="10.87" fill="#333" stroke="#333" stroke-width="0.15">Lα</text>
<text transform="translate(503.24,79.65) scale(1.092,1)" font-family="Liberation Serif" font-style="italic" font-weight="normal" font-size="15.78" fill="#222" stroke="#222" stroke-width="0.18">i</text>
<text transform="translate(508.62,81.86) scale(1.018,1)" font-family="Liberation Serif" font-style="italic" font-weight="normal" font-size="10.45" fill="#333" stroke="#333" stroke-width="0.15">Lβ</text>
<text transform="translate(91.26,129.22) scale(1.148,1)" font-family="Liberation Serif" font-style="italic" font-weight="normal" font-size="14.66" fill="#222" stroke="#222" stroke-width="0.18">u</text>
<text transform="translate(99.97,131.93) scale(1.009,1)" font-family="Liberation Serif" font-style="italic" font-weight="normal" font-size="10.72" fill="#333" stroke="#333" stroke-width="0.15">Lα</text>
<text transform="translate(137.05,130.43) scale(1.198,1)" font-family="Liberation Serif" font-style="italic" font-weight="normal" font-size="14.25" fill="#222" stroke="#222" stroke-width="0.18">u</text>
<text transform="translate(146.11,132.86) scale(1.033,1)" font-family="Liberation Serif" font-style="italic" font-weight="normal" font-size="10.03" fill="#333" stroke="#333" stroke-width="0.15">Lβ</text>
<text transform="translate(444.36,129.22) scale(1.148,1)" font-family="Liberation Serif" font-style="italic" font-weight="normal" font-size="14.66" fill="#222" stroke="#222" stroke-width="0.18">u</text>
<text transform="translate(453.07,131.93) scale(1.009,1)" font-family="Liberation Serif" font-style="italic" font-weight="normal" font-size="10.72" fill="#333" stroke="#333" stroke-width="0.15">Lα</text>
<text transform="translate(487.25,130.43) scale(1.198,1)" font-family="Liberation Serif" font-style="italic" font-weight="normal" font-size="14.25" fill="#222" stroke="#222" stroke-width="0.18">u</text>
<text transform="translate(496.31,132.86) scale(1.033,1)" font-family="Liberation Serif" font-style="italic" font-weight="normal" font-size="10.03" fill="#333" stroke="#333" stroke-width="0.15">Lβ</text>
<text transform="translate(11.45,173.25) scale(0.986,1)" font-family="Liberation Serif" font-style="italic" font-weight="normal" font-size="12.95" fill="#222" stroke="#222" stroke-width="0.05">2/3L</text>
<text transform="translate(37.65,174.59) scale(0.597,1)" font-family="Liberation Serif" font-style="normal" font-weight="normal" font-size="26.79" fill="#222" stroke="#222" stroke-width="0.10">(</text>
<text transform="translate(43.53,163.68) scale(1.210,1)" font-family="Liberation Serif" font-style="italic" font-weight="normal" font-size="8.79" fill="#222" stroke="#222" stroke-width="0.15">dp</text>
<text transform="translate(43.93,178.37) scale(1.353,1)" font-family="Liberation Serif" font-style="italic" font-weight="normal" font-size="8.07" fill="#222" stroke="#222" stroke-width="0.15">dt</text>
<text transform="translate(75.12,162.45) scale(1.097,1)" font-family="Liberation Serif" font-style="italic" font-weight="normal" font-size="9.29" fill="#222" stroke="#222" stroke-width="0.30">u</text>
<text transform="translate(81.80,164.65) scale(1.077,1)" font-family="Liberation Serif" font-style="italic" font-weight="normal" font-size="7.54" fill="#2a2a2a" stroke="#2a2a2a" stroke-width="0.32">gα</text>
<text transform="translate(57.49,178.44) scale(1.078,1)" font-family="Liberation Serif" font-style="italic" font-weight="normal" font-size="10.12" fill="#222" stroke="#222" stroke-width="0.30">u</text>
<text transform="translate(63.80,180.66) scale(1.070,1)" font-family="Liberation Serif" font-style="italic" font-weight="normal" font-size="8.39" fill="#2a2a2a" stroke="#2a2a2a" stroke-width="0.32">gα</text>
<text transform="translate(75.76,175.80) scale(1.073,1)" font-family="Liberation Serif" font-style="normal" font-weight="normal" font-size="7.29" fill="#2a2a2a" stroke="#2a2a2a" stroke-width="0.32">2</text>
<text transform="translate(80.45,180.13) scale(0.877,1)" font-family="Liberation Serif" font-style="normal" font-weight="normal" font-size="10.94" fill="#333" stroke="#333" stroke-width="0.45">+</text>
<text transform="translate(85.47,178.54) scale(1.125,1)" font-family="Liberation Serif" font-style="italic" font-weight="normal" font-size="10.12" fill="#222" stroke="#222" stroke-width="0.30">u</text>
<text transform="translate(93.30,180.31) scale(1.187,1)" font-family="Liberation Serif" font-style="italic" font-weight="normal" font-size="6.83" fill="#2a2a2a" stroke="#2a2a2a" stroke-width="0.32">gβ</text>
<text transform="translate(105.34,175.80) scale(1.138,1)" font-family="Liberation Serif" font-style="normal" font-weight="normal" font-size="7.29" fill="#2a2a2a" stroke="#2a2a2a" stroke-width="0.32">2</text>
<text transform="translate(113.50,173.32) scale(1.020,1)" font-family="Liberation Serif" font-style="normal" font-weight="normal" font-size="15.69" fill="#222" stroke="#222" stroke-width="0.15">+</text>
<text transform="translate(125.94,163.70) scale(1.166,1)" font-family="Liberation Serif" font-style="italic" font-weight="normal" font-size="8.68" fill="#222" stroke="#222" stroke-width="0.15">dq</text>
<text transform="translate(126.84,178.47) scale(1.284,1)" font-family="Liberation Serif" font-style="italic" font-weight="normal" font-size="8.21" fill="#222" stroke="#222" stroke-width="0.15">dt</text>
<text transform="translate(157.49,162.45) scale(1.148,1)" font-family="Liberation Serif" font-style="italic" font-weight="normal" font-size="9.50" fill="#222" stroke="#222" stroke-width="0.30">u</text>
<text transform="translate(163.50,165.32) scale(1.462,1)" font-family="Liberation Serif" font-style="italic" font-weight="normal" font-size="6.29" fill="#2a2a2a" stroke="#2a2a2a" stroke-width="0.32">gβ</text>
<text transform="translate(140.39,178.14) scale(1.078,1)" font-family="Liberation Serif" font-style="italic" font-weight="normal" font-size="10.12" fill="#222" stroke="#222" stroke-width="0.30">u</text>
<text transform="translate(146.00,180.27) scale(0.997,1)" font-family="Liberation Serif" font-style="italic" font-weight="normal" font-size="8.82" fill="#2a2a2a" stroke="#2a2a2a" stroke-width="0.32">gα</text>
<text transform="translate(158.07,176.10) scale(1.008,1)" font-family="Liberation Serif" font-style="normal" font-weight="normal" font-size="7.29" fill="#2a2a2a" stroke="#2a2a2a" stroke-width="0.32">2</text>
<text transform="translate(162.79,180.13) scale(0.994,1)" font-family="Liberation Serif" font-style="normal" font-weight="normal" font-size="10.94" fill="#333" stroke="#333" stroke-width="0.45">+</text>
<text transform="translate(168.78,178.54) scale(1.101,1)" font-family="Liberation Serif" font-style="italic" font-weight="normal" font-size="10.12" fill="#222" stroke="#222" stroke-width="0.30">u</text>
<text transform="translate(175.60,180.46) scale(1.165,1)" font-family="Liberation Serif" font-style="italic" font-weight="normal" font-size="7.04" fill="#2a2a2a" stroke="#2a2a2a" stroke-width="0.32">gβ</text>
<text transform="translate(187.02,176.10) scale(1.210,1)" font-family="Liberation Serif" font-style="normal" font-weight="normal" font-size="7.44" fill="#2a2a2a" stroke="#2a2a2a" stroke-width="0.32">2</text>
<text transform="translate(193.34,174.69) scale(0.595,1)" font-family="Liberation Serif" font-style="normal" font-weight="normal" font-size="27.23" fill="#222" stroke="#222" stroke-width="0.10">)</text>
<text transform="translate(159.25,226.85) scale(1.008,1)" font-family="Liberation Serif" font-style="italic" font-weight="normal" font-size="12.95" fill="#222" stroke="#222" stroke-width="0.05">2/3L</text>
<text transform="translate(183.67,229.17) scale(0.687,1)" font-family="Liberation Serif" font-style="normal" font-weight="normal" font-size="26.90" fill="#222" stroke="#222" stroke-width="0.10">(</text>
<text transform="translate(190.23,219.12) scale(1.421,1)" font-family="Liberation Serif" font-style="italic" font-weight="normal" font-size="7.70" fill="#222" stroke="#222" stroke-width="0.15">dp</text>
<text transform="translate(190.73,232.79) scale(1.492,1)" font-family="Liberation Serif" font-style="italic" font-weight="normal" font-size="7.23" fill="#222" stroke="#222" stroke-width="0.15">dt</text>
<text transform="translate(221.56,218.14) scale(1.148,1)" font-family="Liberation Serif" font-style="italic" font-weight="normal" font-size="10.12" fill="#222" stroke="#222" stroke-width="0.30">u</text>
<text transform="translate(227.90,220.21) scale(1.304,1)" font-family="Liberation Serif" font-style="italic" font-weight="normal" font-size="6.83" fill="#2a2a2a" stroke="#2a2a2a" stroke-width="0.32">gβ</text>
<text transform="translate(204.36,233.74) scale(1.148,1)" font-family="Liberation Serif" font-style="italic" font-weight="normal" font-size="10.12" fill="#222" stroke="#222" stroke-width="0.30">u</text>
<text transform="translate(210.80,234.72) scale(1.157,1)" font-family="Liberation Serif" font-style="italic" font-weight="normal" font-size="7.68" fill="#2a2a2a" stroke="#2a2a2a" stroke-width="0.32">gα</text>
<text transform="translate(222.24,230.00) scale(1.138,1)" font-family="Liberation Serif" font-style="normal" font-weight="normal" font-size="7.29" fill="#2a2a2a" stroke="#2a2a2a" stroke-width="0.32">2</text>
<text transform="translate(227.45,234.47) scale(0.930,1)" font-family="Liberation Serif" font-style="normal" font-weight="normal" font-size="10.32" fill="#333" stroke="#333" stroke-width="0.45">+</text>
<text transform="translate(232.26,233.74) scale(1.148,1)" font-family="Liberation Serif" font-style="italic" font-weight="normal" font-size="10.12" fill="#222" stroke="#222" stroke-width="0.30">u</text>
<text transform="translate(240.20,235.18) scale(1.352,1)" font-family="Liberation Serif" font-style="italic" font-weight="normal" font-size="6.51" fill="#2a2a2a" stroke="#2a2a2a" stroke-width="0.32">gβ</text>
<text transform="translate(251.71,230.00) scale(1.268,1)" font-family="Liberation Serif" font-style="normal" font-weight="normal" font-size="7.29" fill="#2a2a2a" stroke="#2a2a2a" stroke-width="0.32">2</text>
<text transform="translate(272.54,219.07) scale(1.317,1)" font-family="Liberation Serif" font-style="italic" font-weight="normal" font-size="7.92" fill="#222" stroke="#222" stroke-width="0.15">dq</text>
<text transform="translate(273.04,233.08) scale(1.345,1)" font-family="Liberation Serif" font-style="italic" font-weight="normal" font-size="7.65" fill="#222" stroke="#222" stroke-width="0.15">dt</text>
<text transform="translate(304.18,218.05) scale(1.124,1)" font-family="Liberation Serif" font-style="italic" font-weight="normal" font-size="9.91" fill="#222" stroke="#222" stroke-width="0.30">u</text>
<text transform="translate(310.60,219.74) scale(1.182,1)" font-family="Liberation Serif" font-style="italic" font-weight="normal" font-size="7.11" fill="#2a2a2a" stroke="#2a2a2a" stroke-width="0.32">gα</text>
<text transform="translate(286.91,233.45) scale(1.052,1)" font-family="Liberation Serif" font-style="italic" font-weight="normal" font-size="9.91" fill="#222" stroke="#222" stroke-width="0.30">u</text>
<text transform="translate(292.70,234.72) scale(1.169,1)" font-family="Liberation Serif" font-style="italic" font-weight="normal" font-size="7.68" fill="#2a2a2a" stroke="#2a2a2a" stroke-width="0.32">gα</text>
<text transform="translate(304.98,229.80) scale(1.062,1)" font-family="Liberation Serif" font-style="normal" font-weight="normal" font-size="6.70" fill="#2a2a2a" stroke="#2a2a2a" stroke-width="0.32">2</text>
<text transform="translate(309.86,234.13) scale(0.947,1)" font-family="Liberation Serif" font-style="normal" font-weight="normal" font-size="9.91" fill="#333" stroke="#333" stroke-width="0.45">+</text>
<text transform="translate(315.72,233.45) scale(1.244,1)" font-family="Liberation Serif" font-style="italic" font-weight="normal" font-size="9.91" fill="#222" stroke="#222" stroke-width="0.30">u</text>
<text transform="translate(322.50,235.60) scale(1.375,1)" font-family="Liberation Serif" font-style="italic" font-weight="normal" font-size="6.40" fill="#2a2a2a" stroke="#2a2a2a" stroke-width="0.32">gβ</text>
<text transform="translate(334.27,230.30) scale(1.050,1)" font-family="Liberation Serif" font-style="normal" font-weight="normal" font-size="7.00" fill="#2a2a2a" stroke="#2a2a2a" stroke-width="0.32">2</text>
<text transform="translate(339.53,229.35) scale(0.604,1)" font-family="Liberation Serif" font-style="normal" font-weight="normal" font-size="27.44" fill="#222" stroke="#222" stroke-width="0.10">)</text>
<text transform="translate(39.05,275.60) scale(1.003,1)" font-family="Liberation Serif" font-style="italic" font-weight="normal" font-size="16.29" fill="#222" stroke="#222" stroke-width="0.05">2/3Lr</text>
<text transform="translate(76.34,278.43) scale(0.941,1)" font-family="Liberation Serif" font-style="italic" font-weight="normal" font-size="11.20" fill="#333" stroke="#333" stroke-width="0.15">α</text>
<text transform="translate(127.65,275.60) scale(1.000,1)" font-family="Liberation Serif" font-style="italic" font-weight="normal" font-size="16.29" fill="#222" stroke="#222" stroke-width="0.05">2/3Lr</text>
<text transform="translate(165.36,278.41) scale(1.184,1)" font-family="Liberation Serif" font-style="italic" font-weight="normal" font-size="8.43" fill="#333" stroke="#333" stroke-width="0.15">β</text>
<text transform="translate(78.46,293.59) scale(0.952,1)" font-family="Liberation Serif" font-style="italic" font-weight="normal" font-size="15.36" fill="#222" stroke="#222" stroke-width="0.00">p</text>
<text transform="translate(118.11,320.74) scale(1.057,1)" font-family="Liberation Serif" font-style="italic" font-weight="normal" font-size="16.50" fill="#222" stroke="#222" stroke-width="0.00">q</text>
<text transform="translate(429.16,293.59) scale(0.952,1)" font-family="Liberation Serif" font-style="italic" font-weight="normal" font-size="15.36" fill="#222" stroke="#222" stroke-width="0.00">p</text>
<text transform="translate(468.74,320.74) scale(0.990,1)" font-family="Liberation Serif" font-style="italic" font-weight="normal" font-size="16.50" fill="#222" stroke="#222" stroke-width="0.00">q</text>
<text transform="translate(412.05,182.90) scale(1.019,1)" font-family="Liberation Serif" font-style="italic" font-weight="normal" font-size="16.15" fill="#222" stroke="#222" stroke-width="0.05">2/3L</text>
<text transform="translate(442.58,172.29) scale(1.443,1)" font-family="Liberation Serif" font-style="italic" font-weight="normal" font-size="9.65" fill="#222" stroke="#222" stroke-width="0.00">dq</text>
<text transform="translate(443.08,190.53) scale(1.318,1)" font-family="Liberation Serif" font-style="italic" font-weight="normal" font-size="10.85" fill="#222" stroke="#222" stroke-width="0.00">dt</text>
<text transform="translate(621.25,182.59) scale(1.005,1)" font-family="Liberation Serif" font-style="italic" font-weight="normal" font-size="16.58" fill="#222" stroke="#222" stroke-width="0.05">2/3L</text>
<text transform="translate(652.88,172.13) scale(1.548,1)" font-family="Liberation Serif" font-style="italic" font-weight="normal" font-size="9.00" fill="#222" stroke="#222" stroke-width="0.00">dp</text>
<text transform="translate(653.48,190.03) scale(1.300,1)" font-family="Liberation Serif" font-style="italic" font-weight="normal" font-size="10.71" fill="#222" stroke="#222" stroke-width="0.00">dt</text>
<text transform="translate(447.55,232.20) scale(0.995,1)" font-family="Liberation Serif" font-style="italic" font-weight="normal" font-size="16.15" fill="#222" stroke="#222" stroke-width="0.05">2/3Lr</text>
<text transform="translate(483.88,234.72) scale(1.117,1)" font-family="Liberation Serif" font-style="italic" font-weight="normal" font-size="10.67" fill="#333" stroke="#333" stroke-width="0.15">q</text>
<text transform="translate(487.95,274.20) scale(1.007,1)" font-family="Liberation Serif" font-style="italic" font-weight="normal" font-size="16.00" fill="#222" stroke="#222" stroke-width="0.05">2/3Lr</text>
<text transform="translate(525.47,277.00) scale(1.174,1)" font-family="Liberation Serif" font-style="italic" font-weight="normal" font-size="9.81" fill="#333" stroke="#333" stroke-width="0.15">p</text>
<line x1="43.6" y1="168.1" x2="55.3" y2="168.1" stroke="#555" stroke-width="1.0"/>
<line x1="58.0" y1="168.1" x2="110.0" y2="168.1" stroke="#555" stroke-width="1.2"/>
<line x1="126.0" y1="167.7" x2="137.7" y2="167.7" stroke="#555" stroke-width="1.0"/>
<line x1="140.6" y1="167.9" x2="192.0" y2="167.9" stroke="#555" stroke-width="1.2"/>
<line x1="190.3" y1="222.7" x2="201.6" y2="222.7" stroke="#555" stroke-width="1.0"/>
<line x1="204.4" y1="222.7" x2="256.9" y2="222.7" stroke="#555" stroke-width="1.2"/>
<line x1="260.9" y1="222.9" x2="268.7" y2="222.9" stroke="#444" stroke-width="1.0"/>
<line x1="272.6" y1="222.7" x2="284.4" y2="222.7" stroke="#555" stroke-width="1.0"/>
<line x1="286.9" y1="222.7" x2="338.6" y2="222.7" stroke="#555" stroke-width="1.2"/>
<line x1="442.9" y1="176.9" x2="458.2" y2="176.9" stroke="#444" stroke-width="1.1"/>
<line x1="652.6" y1="176.7" x2="668.2" y2="176.7" stroke="#444" stroke-width="1.1"/>
<line x1="80.7" y1="179.6" x2="86.50" y2="184.93" stroke="#222" stroke-width="1.05"/><polygon points="89.3,187.5 85.22,186.33 87.79,183.53" fill="#222"/>
<line x1="254.4" y1="213.8" x2="251.21" y2="210.66" stroke="#222" stroke-width="1.05"/><polygon points="248.5,208.0 252.54,209.31 249.88,212.02" fill="#222"/>
<line x1="68.3" y1="259.7" x2="71.65" y2="256.52" stroke="#222" stroke-width="1.05"/><polygon points="74.4,253.9 72.96,257.90 70.34,255.14" fill="#222"/>
<line x1="156.4" y1="262.8" x2="158.39" y2="258.54" stroke="#222" stroke-width="1.05"/><polygon points="160.0,255.1 160.11,259.35 156.67,257.74" fill="#222"/>
</svg></body></html>
